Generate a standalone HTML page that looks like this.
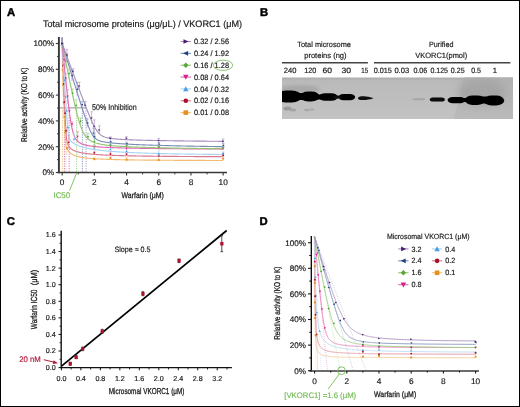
<!DOCTYPE html><html><head><meta charset="utf-8"><style>html,body{margin:0;padding:0;background:#fff;overflow:hidden}svg{display:block}text{font-family:"Liberation Sans",sans-serif;text-rendering:geometricPrecision}</style></head><body>
<svg width="520" height="407" viewBox="0 0 520 407" style="will-change:transform">
<defs><filter id="bl1" x="-30%" y="-60%" width="160%" height="220%"><feGaussianBlur stdDeviation="0.75"/></filter><filter id="bl0" x="-30%" y="-80%" width="160%" height="260%"><feGaussianBlur stdDeviation="0.5"/></filter><filter id="bl2" x="-30%" y="-60%" width="160%" height="220%"><feGaussianBlur stdDeviation="1.6"/></filter><filter id="bl4" x="-50%" y="-50%" width="200%" height="200%"><feGaussianBlur stdDeviation="4"/></filter><linearGradient id="blotg" x1="0" y1="0" x2="0" y2="1"><stop offset="0" stop-color="#acacac"/><stop offset="0.08" stop-color="#bababa"/><stop offset="0.5" stop-color="#bebebe"/><stop offset="1" stop-color="#c3c3c3"/></linearGradient><linearGradient id="darkg" x1="0" y1="0" x2="0" y2="1"><stop offset="0" stop-color="#b0b0b0"/><stop offset="0.6" stop-color="#b6b6b6"/><stop offset="1" stop-color="#bcbcbc"/></linearGradient></defs>
<rect x="0" y="0" width="520" height="407" fill="#fff"/>
<text x="6.9" y="15.7" font-size="11.3" font-weight="bold" fill="#000" stroke="#000" stroke-width="0.45">A</text>
<text x="43" y="26.5" font-size="9.35" fill="#1a1a1a" textLength="199" lengthAdjust="spacingAndGlyphs" stroke="#1a1a1a" stroke-width="0.18">Total microsome proteins (μg/μL) / VKORC1 (μM)</text>
<line x1="59" y1="107.8" x2="86" y2="107.8" stroke="#b4b4b4" stroke-width="1.4"/>
<text x="92.1" y="109.5" font-size="8.29" fill="#1a1a1a" textLength="44.5" lengthAdjust="spacingAndGlyphs" stroke="#1a1a1a" stroke-width="0.18">50% Inhibition</text>
<line x1="86.1" y1="108" x2="86.1" y2="172" stroke="#a690c0" stroke-width="0.9" stroke-dasharray="1.2 1.2"/>
<line x1="82.4" y1="108" x2="82.4" y2="172" stroke="#7a8fb8" stroke-width="0.9" stroke-dasharray="1.2 1.2"/>
<line x1="76.6" y1="108" x2="76.6" y2="172" stroke="#92c674" stroke-width="0.9" stroke-dasharray="1.2 1.2"/>
<line x1="69.2" y1="108" x2="69.2" y2="172" stroke="#e468ac" stroke-width="0.9" stroke-dasharray="1.2 1.2"/>
<line x1="65.9" y1="108" x2="65.9" y2="172" stroke="#acd4f2" stroke-width="0.9" stroke-dasharray="1.2 1.2"/>
<line x1="64.6" y1="108" x2="64.6" y2="172" stroke="#dc7890" stroke-width="0.9" stroke-dasharray="1.2 1.2"/>
<line x1="62.6" y1="108" x2="62.6" y2="172" stroke="#f2bc70" stroke-width="0.9" stroke-dasharray="1.2 1.2"/>
<path d="M62.15 43.5 L62.23 48.32 L62.31 52.75 L62.39 56.84 L62.47 60.66 L62.55 64.24 L62.63 67.61 L62.71 70.8 L62.79 73.83 L62.87 76.73 L62.95 79.5 L63.04 82.16 L63.12 84.73 L63.2 87.21 L63.28 89.62 L63.36 91.95 L63.44 94.22 L63.52 96.43 L63.6 98.59 L63.68 100.7 L63.76 102.76 L63.84 104.79 L63.92 106.77 L64 108.72 L64.08 110.64 L64.16 112.53 L64.24 114.39 L64.32 116.22 L64.4 118.03 L64.48 119.82 L64.56 121.58 L64.65 123.32 L64.73 125.04 L64.81 126.74 L64.89 128.42 L64.97 130.08 L65.05 131.71 L65.13 133.33 L65.21 134.91 L65.29 136.46 L65.37 137.98 L65.45 139.43 L65.53 140.8 L65.61 142.05 L65.69 143.12 L65.77 143.98 L65.85 144.66 L65.93 145.18 L66.01 145.61 L66.09 145.97 L66.17 146.29 L66.26 146.58 L66.34 146.84 L66.42 147.09 L66.5 147.32 L66.58 147.54 L66.66 147.74 L66.74 147.94 L66.82 148.14 L66.9 148.32 L66.98 148.5 L67.06 148.67 L67.14 148.84 L67.22 149 L67.3 149.16 L67.38 149.31 L67.46 149.46 L67.54 149.6 L67.62 149.74 L67.7 149.88 L67.78 150.01 L67.87 150.14 L67.95 150.27 L68.03 150.39 L68.11 150.51 L68.19 150.63 L68.27 150.74 L68.35 150.86 L68.43 150.97 L68.51 151.07 L68.59 151.18 L68.67 151.28 L68.75 151.38 L68.83 151.48 L68.91 151.58 L68.99 151.67 L69.07 151.76 L69.15 151.85 L69.23 151.94 L69.31 152.03 L69.39 152.12 L69.48 152.2 L69.56 152.28 L69.64 152.36 L69.72 152.44 L69.8 152.52 L69.88 152.59 L69.96 152.67 L70.04 152.74 L70.12 152.82 L70.2 152.89 L70.28 152.96 L70.36 153.02 L70.44 153.09 L70.52 153.16 L70.6 153.22 L70.68 153.29 L70.76 153.35 L70.84 153.41 L70.92 153.47 L71 153.53 L71.09 153.59 L71.17 153.65 L71.25 153.71 L71.33 153.76 L71.41 153.82 L71.49 153.87 L71.57 153.93 L71.65 153.98 L71.73 154.03 L71.81 154.08 L71.89 154.13 L71.97 154.18 L72.05 154.23 L72.13 154.28 L72.21 154.33 L72.29 154.38 L72.37 154.42 L72.45 154.47 L72.53 154.51 L72.61 154.56 L72.7 154.6 L72.78 154.64 L72.86 154.69 L72.94 154.73 L73.02 154.77 L73.1 154.81 L73.18 154.85 L73.26 154.89 L73.34 154.93 L73.42 154.97 L73.5 155.01 L73.58 155.05 L73.66 155.08 L73.74 155.12 L73.82 155.16 L73.9 155.19 L73.98 155.23 L74.06 155.26 L74.14 155.3 L74.22 155.33 L74.31 155.37 L74.39 155.4 L74.47 155.43 L74.55 155.47 L74.63 155.5 L74.71 155.53 L74.79 155.56 L74.87 155.59 L74.95 155.62 L75.03 155.65 L75.11 155.68 L75.19 155.71 L75.27 155.74 L75.35 155.77 L75.43 155.8 L75.51 155.83 L75.59 155.86 L75.67 155.89 L75.75 155.91 L75.83 155.94 L75.92 155.97 L76 155.99 L76.08 156.02 L76.16 156.05 L76.24 156.07 L76.32 156.1 L76.4 156.12 L76.48 156.15 L76.56 156.17 L76.64 156.2 L76.72 156.22 L76.8 156.25 L76.88 156.27 L76.96 156.29 L77.04 156.32 L77.12 156.34 L77.2 156.36 L77.28 156.39 L77.36 156.41 L77.44 156.43 L77.53 156.45 L77.61 156.47 L77.69 156.5 L77.77 156.52 L77.85 156.54 L77.93 156.56 L78.01 156.58 L78.09 156.6 L78.17 156.62 L78.25 156.64 L78.33 156.66 L78.41 156.68 L78.49 156.7 L78.57 156.72 L78.65 156.74 L78.73 156.76 L78.81 156.78 L78.89 156.8 L78.97 156.81 L79.06 156.83 L79.14 156.85 L79.22 156.87 L79.3 156.89 L79.38 156.9 L79.46 156.92 L79.54 156.94 L79.62 156.96 L79.7 156.97 L79.78 156.99 L79.86 157.01 L79.94 157.02 L80.02 157.04 L80.1 157.06 L80.18 157.07 L80.26 157.09 L80.34 157.11 L80.42 157.12 L80.5 157.14 L80.58 157.15 L80.67 157.17 L80.75 157.18 L80.83 157.2 L80.91 157.21 L80.99 157.23 L81.07 157.24 L81.15 157.26 L81.23 157.27 L81.31 157.29 L81.39 157.3 L81.47 157.32 L81.55 157.33 L81.63 157.35 L81.71 157.36 L81.79 157.37 L81.87 157.39 L81.95 157.4 L82.03 157.41 L82.11 157.43 L82.19 157.44 L82.28 157.45 L82.36 157.47 L82.44 157.48 L82.52 157.49 L82.6 157.51 L82.68 157.52 L82.76 157.53 L82.84 157.54 L82.92 157.56 L83 157.57 L83.08 157.58 L83.16 157.59 L83.24 157.61 L83.32 157.62 L83.4 157.63 L83.48 157.64 L83.56 157.65 L83.64 157.67 L83.72 157.68 L83.8 157.69 L83.89 157.7 L83.97 157.71 L84.05 157.72 L84.13 157.73 L84.21 157.75 L84.29 157.76 L84.37 157.77 L84.45 157.78 L84.53 157.79 L84.61 157.8 L84.69 157.81 L84.77 157.82 L84.85 157.83 L84.93 157.84 L85.01 157.85 L85.09 157.86 L85.17 157.87 L85.25 157.88 L85.33 157.89 L85.41 157.9 L85.5 157.91 L85.58 157.92 L85.66 157.93 L85.74 157.94 L85.82 157.95 L85.9 157.96 L85.98 157.97 L86.06 157.98 L86.14 157.99 L86.22 158 L86.3 158.01 L86.38 158.02 L86.46 158.03 L86.54 158.04 L86.62 158.05 L86.7 158.06 L86.78 158.07 L86.86 158.07 L86.94 158.08 L87.02 158.09 L87.11 158.1 L87.19 158.11 L87.27 158.12 L87.35 158.13 L87.43 158.14 L87.51 158.14 L87.59 158.15 L87.67 158.16 L87.75 158.17 L87.83 158.18 L87.91 158.19 L87.99 158.2 L88.07 158.2 L88.15 158.21 L88.23 158.22 L88.31 158.23 L88.39 158.24 L88.47 158.24 L88.55 158.25 L88.63 158.26 L88.72 158.27 L88.8 158.27 L88.88 158.28 L88.96 158.29 L89.04 158.3 L89.12 158.31 L89.2 158.31 L89.28 158.32 L89.36 158.33 L89.44 158.34 L89.52 158.34 L89.6 158.35 L89.68 158.36 L89.76 158.36 L89.84 158.37 L89.92 158.38 L90 158.39 L90.08 158.39 L90.16 158.4 L90.24 158.41 L90.33 158.41 L90.41 158.42 L90.49 158.43 L90.57 158.44 L90.65 158.44 L90.73 158.45 L90.81 158.46 L90.89 158.46 L90.97 158.47 L91.05 158.48 L91.13 158.48 L91.21 158.49 L91.29 158.5 L91.37 158.5 L91.45 158.51 L91.53 158.52 L91.61 158.52 L91.69 158.53 L91.77 158.53 L91.85 158.54 L91.94 158.55 L92.02 158.55 L92.1 158.56 L92.18 158.57 L92.26 158.57 L92.34 158.58 L92.42 158.58 L92.5 158.59 L92.58 158.6 L92.66 158.6 L92.74 158.61 L92.82 158.61 L92.9 158.62 L92.98 158.63 L93.06 158.63 L93.14 158.64 L93.22 158.64 L93.3 158.65 L93.38 158.65 L93.46 158.66 L93.55 158.67 L93.63 158.67 L93.71 158.68 L93.79 158.68 L93.87 158.69 L93.95 158.69 L94.03 158.7 L94.11 158.71 L94.19 158.71 L94.27 158.72 L94.35 158.72 L95.16 158.77 L95.96 158.82 L96.77 158.87 L97.57 158.92 L98.38 158.96 L99.18 159 L99.99 159.04 L100.79 159.08 L101.59 159.12 L102.4 159.16 L103.2 159.19 L104.01 159.22 L104.81 159.26 L105.62 159.29 L106.43 159.32 L107.23 159.34 L108.03 159.37 L108.84 159.4 L109.65 159.42 L110.45 159.45 L111.25 159.47 L112.06 159.5 L112.87 159.52 L113.67 159.54 L114.47 159.56 L115.28 159.58 L116.09 159.6 L116.89 159.62 L117.7 159.64 L118.5 159.66 L119.31 159.68 L120.11 159.7 L120.92 159.71 L121.72 159.73 L122.53 159.75 L123.33 159.76 L124.14 159.78 L124.94 159.79 L125.75 159.81 L126.55 159.82 L127.36 159.83 L128.16 159.85 L128.97 159.86 L129.77 159.87 L130.58 159.89 L131.38 159.9 L132.19 159.91 L132.99 159.92 L133.8 159.93 L134.6 159.95 L135.41 159.96 L136.21 159.97 L137.02 159.98 L137.82 159.99 L138.62 160 L139.43 160.01 L140.24 160.02 L141.04 160.03 L141.84 160.04 L142.65 160.05 L143.46 160.05 L144.26 160.06 L145.06 160.07 L145.87 160.08 L146.68 160.09 L147.48 160.1 L148.28 160.1 L149.09 160.11 L149.9 160.12 L150.7 160.13 L151.51 160.14 L152.31 160.14 L153.12 160.15 L153.92 160.16 L154.72 160.16 L155.53 160.17 L156.34 160.18 L157.14 160.18 L157.95 160.19 L158.75 160.2 L159.56 160.2 L160.36 160.21 L161.17 160.22 L161.97 160.22 L162.78 160.23 L163.58 160.23 L164.39 160.24 L165.19 160.24 L166 160.25 L166.8 160.25 L167.61 160.26 L168.41 160.27 L169.22 160.27 L170.02 160.28 L170.83 160.28 L171.63 160.29 L172.44 160.29 L173.24 160.3 L174.05 160.3 L174.85 160.3 L175.66 160.31 L176.46 160.31 L177.27 160.32 L178.07 160.32 L178.88 160.33 L179.68 160.33 L180.49 160.34 L181.29 160.34 L182.09 160.34 L182.9 160.35 L183.71 160.35 L184.51 160.36 L185.32 160.36 L186.12 160.36 L186.93 160.37 L187.73 160.37 L188.54 160.38 L189.34 160.38 L190.15 160.38 L190.95 160.39 L191.76 160.39 L192.56 160.39 L193.37 160.4 L194.17 160.4 L194.98 160.4 L195.78 160.41 L196.59 160.41 L197.39 160.41 L198.19 160.42 L199 160.42 L199.81 160.42 L200.61 160.43 L201.42 160.43 L202.22 160.43 L203.03 160.44 L203.83 160.44 L204.64 160.44 L205.44 160.44 L206.25 160.45 L207.05 160.45 L207.86 160.45 L208.66 160.46 L209.47 160.46 L210.27 160.46 L211.08 160.46 L211.88 160.47 L212.69 160.47 L213.49 160.47 L214.3 160.47 L215.1 160.48 L215.91 160.48 L216.71 160.48 L217.52 160.48 L218.32 160.49 L219.13 160.49 L219.93 160.49 L220.74 160.49 L221.54 160.5 L222.34 160.5 L223.15 160.5" fill="none" stroke="#f2bc70" stroke-width="1.15"/>
<path d="M62.15 43.5 L62.23 45.73 L62.31 47.95 L62.39 50.16 L62.47 52.37 L62.55 54.57 L62.63 56.76 L62.71 58.95 L62.79 61.13 L62.87 63.3 L62.95 65.46 L63.04 67.61 L63.12 69.76 L63.2 71.9 L63.28 74.03 L63.36 76.15 L63.44 78.26 L63.52 80.36 L63.6 82.45 L63.68 84.53 L63.76 86.6 L63.84 88.66 L63.92 90.7 L64 92.73 L64.08 94.74 L64.16 96.74 L64.24 98.72 L64.32 100.68 L64.4 102.62 L64.48 104.54 L64.56 106.44 L64.65 108.31 L64.73 110.15 L64.81 111.95 L64.89 113.73 L64.97 115.47 L65.05 117.17 L65.13 118.82 L65.21 120.43 L65.29 121.99 L65.37 123.49 L65.45 124.94 L65.53 126.33 L65.61 127.65 L65.69 128.91 L65.77 130.1 L65.85 131.23 L65.93 132.29 L66.01 133.28 L66.09 134.21 L66.17 135.08 L66.26 135.89 L66.34 136.64 L66.42 137.34 L66.5 137.99 L66.58 138.59 L66.66 139.15 L66.74 139.67 L66.82 140.15 L66.9 140.6 L66.98 141.02 L67.06 141.42 L67.14 141.78 L67.22 142.13 L67.3 142.45 L67.38 142.76 L67.46 143.05 L67.54 143.32 L67.62 143.58 L67.7 143.82 L67.78 144.05 L67.87 144.27 L67.95 144.48 L68.03 144.68 L68.11 144.87 L68.19 145.05 L68.27 145.23 L68.35 145.39 L68.43 145.55 L68.51 145.71 L68.59 145.86 L68.67 146 L68.75 146.14 L68.83 146.27 L68.91 146.4 L68.99 146.52 L69.07 146.64 L69.15 146.76 L69.23 146.87 L69.31 146.98 L69.39 147.09 L69.48 147.19 L69.56 147.29 L69.64 147.39 L69.72 147.48 L69.8 147.58 L69.88 147.67 L69.96 147.75 L70.04 147.84 L70.12 147.92 L70.2 148 L70.28 148.08 L70.36 148.16 L70.44 148.24 L70.52 148.31 L70.6 148.39 L70.68 148.46 L70.76 148.53 L70.84 148.6 L70.92 148.66 L71 148.73 L71.09 148.79 L71.17 148.86 L71.25 148.92 L71.33 148.98 L71.41 149.04 L71.49 149.1 L71.57 149.16 L71.65 149.21 L71.73 149.27 L71.81 149.33 L71.89 149.38 L71.97 149.43 L72.05 149.49 L72.13 149.54 L72.21 149.59 L72.29 149.64 L72.37 149.69 L72.45 149.73 L72.53 149.78 L72.61 149.83 L72.7 149.88 L72.78 149.92 L72.86 149.97 L72.94 150.01 L73.02 150.05 L73.1 150.1 L73.18 150.14 L73.26 150.18 L73.34 150.22 L73.42 150.26 L73.5 150.3 L73.58 150.34 L73.66 150.38 L73.74 150.42 L73.82 150.46 L73.9 150.5 L73.98 150.53 L74.06 150.57 L74.14 150.61 L74.22 150.64 L74.31 150.68 L74.39 150.71 L74.47 150.75 L74.55 150.78 L74.63 150.82 L74.71 150.85 L74.79 150.88 L74.87 150.91 L74.95 150.95 L75.03 150.98 L75.11 151.01 L75.19 151.04 L75.27 151.07 L75.35 151.1 L75.43 151.13 L75.51 151.16 L75.59 151.19 L75.67 151.22 L75.75 151.25 L75.83 151.28 L75.92 151.31 L76 151.34 L76.08 151.36 L76.16 151.39 L76.24 151.42 L76.32 151.45 L76.4 151.47 L76.48 151.5 L76.56 151.53 L76.64 151.55 L76.72 151.58 L76.8 151.6 L76.88 151.63 L76.96 151.65 L77.04 151.68 L77.12 151.7 L77.2 151.73 L77.28 151.75 L77.36 151.77 L77.44 151.8 L77.53 151.82 L77.61 151.84 L77.69 151.87 L77.77 151.89 L77.85 151.91 L77.93 151.93 L78.01 151.96 L78.09 151.98 L78.17 152 L78.25 152.02 L78.33 152.04 L78.41 152.06 L78.49 152.09 L78.57 152.11 L78.65 152.13 L78.73 152.15 L78.81 152.17 L78.89 152.19 L78.97 152.21 L79.06 152.23 L79.14 152.25 L79.22 152.27 L79.3 152.29 L79.38 152.31 L79.46 152.33 L79.54 152.34 L79.62 152.36 L79.7 152.38 L79.78 152.4 L79.86 152.42 L79.94 152.44 L80.02 152.45 L80.1 152.47 L80.18 152.49 L80.26 152.51 L80.34 152.53 L80.42 152.54 L80.5 152.56 L80.58 152.58 L80.67 152.59 L80.75 152.61 L80.83 152.63 L80.91 152.64 L80.99 152.66 L81.07 152.68 L81.15 152.69 L81.23 152.71 L81.31 152.73 L81.39 152.74 L81.47 152.76 L81.55 152.77 L81.63 152.79 L81.71 152.8 L81.79 152.82 L81.87 152.84 L81.95 152.85 L82.03 152.87 L82.11 152.88 L82.19 152.89 L82.28 152.91 L82.36 152.92 L82.44 152.94 L82.52 152.95 L82.6 152.97 L82.68 152.98 L82.76 153 L82.84 153.01 L82.92 153.02 L83 153.04 L83.08 153.05 L83.16 153.07 L83.24 153.08 L83.32 153.09 L83.4 153.11 L83.48 153.12 L83.56 153.13 L83.64 153.15 L83.72 153.16 L83.8 153.17 L83.89 153.18 L83.97 153.2 L84.05 153.21 L84.13 153.22 L84.21 153.24 L84.29 153.25 L84.37 153.26 L84.45 153.27 L84.53 153.28 L84.61 153.3 L84.69 153.31 L84.77 153.32 L84.85 153.33 L84.93 153.35 L85.01 153.36 L85.09 153.37 L85.17 153.38 L85.25 153.39 L85.33 153.4 L85.41 153.42 L85.5 153.43 L85.58 153.44 L85.66 153.45 L85.74 153.46 L85.82 153.47 L85.9 153.48 L85.98 153.49 L86.06 153.5 L86.14 153.52 L86.22 153.53 L86.3 153.54 L86.38 153.55 L86.46 153.56 L86.54 153.57 L86.62 153.58 L86.7 153.59 L86.78 153.6 L86.86 153.61 L86.94 153.62 L87.02 153.63 L87.11 153.64 L87.19 153.65 L87.27 153.66 L87.35 153.67 L87.43 153.68 L87.51 153.69 L87.59 153.7 L87.67 153.71 L87.75 153.72 L87.83 153.73 L87.91 153.74 L87.99 153.75 L88.07 153.76 L88.15 153.77 L88.23 153.78 L88.31 153.79 L88.39 153.8 L88.47 153.81 L88.55 153.82 L88.63 153.82 L88.72 153.83 L88.8 153.84 L88.88 153.85 L88.96 153.86 L89.04 153.87 L89.12 153.88 L89.2 153.89 L89.28 153.9 L89.36 153.9 L89.44 153.91 L89.52 153.92 L89.6 153.93 L89.68 153.94 L89.76 153.95 L89.84 153.96 L89.92 153.96 L90 153.97 L90.08 153.98 L90.16 153.99 L90.24 154 L90.33 154.01 L90.41 154.01 L90.49 154.02 L90.57 154.03 L90.65 154.04 L90.73 154.05 L90.81 154.06 L90.89 154.06 L90.97 154.07 L91.05 154.08 L91.13 154.09 L91.21 154.09 L91.29 154.1 L91.37 154.11 L91.45 154.12 L91.53 154.13 L91.61 154.13 L91.69 154.14 L91.77 154.15 L91.85 154.16 L91.94 154.16 L92.02 154.17 L92.1 154.18 L92.18 154.19 L92.26 154.19 L92.34 154.2 L92.42 154.21 L92.5 154.21 L92.58 154.22 L92.66 154.23 L92.74 154.24 L92.82 154.24 L92.9 154.25 L92.98 154.26 L93.06 154.26 L93.14 154.27 L93.22 154.28 L93.3 154.29 L93.38 154.29 L93.46 154.3 L93.55 154.31 L93.63 154.31 L93.71 154.32 L93.79 154.33 L93.87 154.33 L93.95 154.34 L94.03 154.35 L94.11 154.35 L94.19 154.36 L94.27 154.37 L94.35 154.37 L95.16 154.44 L95.96 154.5 L96.77 154.56 L97.57 154.61 L98.38 154.67 L99.18 154.72 L99.99 154.77 L100.79 154.81 L101.59 154.86 L102.4 154.91 L103.2 154.95 L104.01 154.99 L104.81 155.03 L105.62 155.07 L106.43 155.11 L107.23 155.14 L108.03 155.18 L108.84 155.21 L109.65 155.24 L110.45 155.28 L111.25 155.31 L112.06 155.34 L112.87 155.37 L113.67 155.4 L114.47 155.42 L115.28 155.45 L116.09 155.48 L116.89 155.5 L117.7 155.53 L118.5 155.55 L119.31 155.57 L120.11 155.6 L120.92 155.62 L121.72 155.64 L122.53 155.66 L123.33 155.68 L124.14 155.7 L124.94 155.72 L125.75 155.74 L126.55 155.76 L127.36 155.78 L128.16 155.8 L128.97 155.81 L129.77 155.83 L130.58 155.85 L131.38 155.86 L132.19 155.88 L132.99 155.9 L133.8 155.91 L134.6 155.93 L135.41 155.94 L136.21 155.96 L137.02 155.97 L137.82 155.98 L138.62 156 L139.43 156.01 L140.24 156.02 L141.04 156.04 L141.84 156.05 L142.65 156.06 L143.46 156.07 L144.26 156.09 L145.06 156.1 L145.87 156.11 L146.68 156.12 L147.48 156.13 L148.28 156.14 L149.09 156.15 L149.9 156.16 L150.7 156.17 L151.51 156.18 L152.31 156.19 L153.12 156.2 L153.92 156.21 L154.72 156.22 L155.53 156.23 L156.34 156.24 L157.14 156.25 L157.95 156.26 L158.75 156.27 L159.56 156.28 L160.36 156.28 L161.17 156.29 L161.97 156.3 L162.78 156.31 L163.58 156.32 L164.39 156.33 L165.19 156.33 L166 156.34 L166.8 156.35 L167.61 156.36 L168.41 156.36 L169.22 156.37 L170.02 156.38 L170.83 156.38 L171.63 156.39 L172.44 156.4 L173.24 156.4 L174.05 156.41 L174.85 156.42 L175.66 156.42 L176.46 156.43 L177.27 156.44 L178.07 156.44 L178.88 156.45 L179.68 156.45 L180.49 156.46 L181.29 156.47 L182.09 156.47 L182.9 156.48 L183.71 156.48 L184.51 156.49 L185.32 156.49 L186.12 156.5 L186.93 156.51 L187.73 156.51 L188.54 156.52 L189.34 156.52 L190.15 156.53 L190.95 156.53 L191.76 156.54 L192.56 156.54 L193.37 156.55 L194.17 156.55 L194.98 156.56 L195.78 156.56 L196.59 156.56 L197.39 156.57 L198.19 156.57 L199 156.58 L199.81 156.58 L200.61 156.59 L201.42 156.59 L202.22 156.6 L203.03 156.6 L203.83 156.6 L204.64 156.61 L205.44 156.61 L206.25 156.62 L207.05 156.62 L207.86 156.62 L208.66 156.63 L209.47 156.63 L210.27 156.64 L211.08 156.64 L211.88 156.64 L212.69 156.65 L213.49 156.65 L214.3 156.65 L215.1 156.66 L215.91 156.66 L216.71 156.67 L217.52 156.67 L218.32 156.67 L219.13 156.68 L219.93 156.68 L220.74 156.68 L221.54 156.69 L222.34 156.69 L223.15 156.69" fill="none" stroke="#dc7890" stroke-width="1.15"/>
<path d="M62.15 43.5 L62.23 44.82 L62.31 46.13 L62.39 47.44 L62.47 48.75 L62.55 50.06 L62.63 51.37 L62.71 52.68 L62.79 53.98 L62.87 55.28 L62.95 56.58 L63.04 57.88 L63.12 59.18 L63.2 60.47 L63.28 61.77 L63.36 63.06 L63.44 64.35 L63.52 65.64 L63.6 66.92 L63.68 68.21 L63.76 69.49 L63.84 70.77 L63.92 72.05 L64 73.33 L64.08 74.6 L64.16 75.88 L64.24 77.15 L64.32 78.42 L64.4 79.69 L64.48 80.95 L64.56 82.22 L64.65 83.48 L64.73 84.74 L64.81 86 L64.89 87.25 L64.97 88.5 L65.05 89.75 L65.13 91 L65.21 92.25 L65.29 93.49 L65.37 94.73 L65.45 95.96 L65.53 97.2 L65.61 98.43 L65.69 99.65 L65.77 100.87 L65.85 102.09 L65.93 103.31 L66.01 104.52 L66.09 105.72 L66.17 106.92 L66.26 108.11 L66.34 109.3 L66.42 110.48 L66.5 111.65 L66.58 112.82 L66.66 113.97 L66.74 115.12 L66.82 116.26 L66.9 117.38 L66.98 118.49 L67.06 119.59 L67.14 120.67 L67.22 121.74 L67.3 122.78 L67.38 123.8 L67.46 124.81 L67.54 125.78 L67.62 126.73 L67.7 127.64 L67.78 128.52 L67.87 129.37 L67.95 130.18 L68.03 130.95 L68.11 131.67 L68.19 132.36 L68.27 133 L68.35 133.6 L68.43 134.16 L68.51 134.68 L68.59 135.16 L68.67 135.6 L68.75 136.01 L68.83 136.39 L68.91 136.74 L68.99 137.06 L69.07 137.37 L69.15 137.64 L69.23 137.91 L69.31 138.15 L69.39 138.38 L69.48 138.59 L69.56 138.79 L69.64 138.98 L69.72 139.16 L69.8 139.32 L69.88 139.49 L69.96 139.64 L70.04 139.78 L70.12 139.92 L70.2 140.05 L70.28 140.18 L70.36 140.3 L70.44 140.42 L70.52 140.54 L70.6 140.65 L70.68 140.75 L70.76 140.85 L70.84 140.95 L70.92 141.05 L71 141.14 L71.09 141.23 L71.17 141.32 L71.25 141.41 L71.33 141.49 L71.41 141.58 L71.49 141.66 L71.57 141.73 L71.65 141.81 L71.73 141.89 L71.81 141.96 L71.89 142.03 L71.97 142.1 L72.05 142.17 L72.13 142.24 L72.21 142.31 L72.29 142.37 L72.37 142.44 L72.45 142.5 L72.53 142.56 L72.61 142.63 L72.7 142.69 L72.78 142.75 L72.86 142.81 L72.94 142.86 L73.02 142.92 L73.1 142.98 L73.18 143.03 L73.26 143.09 L73.34 143.14 L73.42 143.2 L73.5 143.25 L73.58 143.3 L73.66 143.35 L73.74 143.4 L73.82 143.46 L73.9 143.51 L73.98 143.55 L74.06 143.6 L74.14 143.65 L74.22 143.7 L74.31 143.75 L74.39 143.79 L74.47 143.84 L74.55 143.89 L74.63 143.93 L74.71 143.98 L74.79 144.02 L74.87 144.06 L74.95 144.11 L75.03 144.15 L75.11 144.19 L75.19 144.24 L75.27 144.28 L75.35 144.32 L75.43 144.36 L75.51 144.4 L75.59 144.44 L75.67 144.48 L75.75 144.52 L75.83 144.56 L75.92 144.6 L76 144.64 L76.08 144.68 L76.16 144.72 L76.24 144.76 L76.32 144.79 L76.4 144.83 L76.48 144.87 L76.56 144.91 L76.64 144.94 L76.72 144.98 L76.8 145.01 L76.88 145.05 L76.96 145.09 L77.04 145.12 L77.12 145.16 L77.2 145.19 L77.28 145.23 L77.36 145.26 L77.44 145.29 L77.53 145.33 L77.61 145.36 L77.69 145.39 L77.77 145.43 L77.85 145.46 L77.93 145.49 L78.01 145.52 L78.09 145.56 L78.17 145.59 L78.25 145.62 L78.33 145.65 L78.41 145.68 L78.49 145.71 L78.57 145.74 L78.65 145.78 L78.73 145.81 L78.81 145.84 L78.89 145.87 L78.97 145.9 L79.06 145.93 L79.14 145.95 L79.22 145.98 L79.3 146.01 L79.38 146.04 L79.46 146.07 L79.54 146.1 L79.62 146.13 L79.7 146.16 L79.78 146.18 L79.86 146.21 L79.94 146.24 L80.02 146.27 L80.1 146.29 L80.18 146.32 L80.26 146.35 L80.34 146.38 L80.42 146.4 L80.5 146.43 L80.58 146.46 L80.67 146.48 L80.75 146.51 L80.83 146.53 L80.91 146.56 L80.99 146.59 L81.07 146.61 L81.15 146.64 L81.23 146.66 L81.31 146.69 L81.39 146.71 L81.47 146.74 L81.55 146.76 L81.63 146.79 L81.71 146.81 L81.79 146.83 L81.87 146.86 L81.95 146.88 L82.03 146.91 L82.11 146.93 L82.19 146.95 L82.28 146.98 L82.36 147 L82.44 147.02 L82.52 147.05 L82.6 147.07 L82.68 147.09 L82.76 147.12 L82.84 147.14 L82.92 147.16 L83 147.18 L83.08 147.21 L83.16 147.23 L83.24 147.25 L83.32 147.27 L83.4 147.29 L83.48 147.32 L83.56 147.34 L83.64 147.36 L83.72 147.38 L83.8 147.4 L83.89 147.42 L83.97 147.44 L84.05 147.46 L84.13 147.49 L84.21 147.51 L84.29 147.53 L84.37 147.55 L84.45 147.57 L84.53 147.59 L84.61 147.61 L84.69 147.63 L84.77 147.65 L84.85 147.67 L84.93 147.69 L85.01 147.71 L85.09 147.73 L85.17 147.75 L85.25 147.77 L85.33 147.79 L85.41 147.81 L85.5 147.83 L85.58 147.85 L85.66 147.86 L85.74 147.88 L85.82 147.9 L85.9 147.92 L85.98 147.94 L86.06 147.96 L86.14 147.98 L86.22 148 L86.3 148.01 L86.38 148.03 L86.46 148.05 L86.54 148.07 L86.62 148.09 L86.7 148.1 L86.78 148.12 L86.86 148.14 L86.94 148.16 L87.02 148.18 L87.11 148.19 L87.19 148.21 L87.27 148.23 L87.35 148.25 L87.43 148.26 L87.51 148.28 L87.59 148.3 L87.67 148.31 L87.75 148.33 L87.83 148.35 L87.91 148.36 L87.99 148.38 L88.07 148.4 L88.15 148.41 L88.23 148.43 L88.31 148.45 L88.39 148.46 L88.47 148.48 L88.55 148.5 L88.63 148.51 L88.72 148.53 L88.8 148.54 L88.88 148.56 L88.96 148.58 L89.04 148.59 L89.12 148.61 L89.2 148.62 L89.28 148.64 L89.36 148.65 L89.44 148.67 L89.52 148.69 L89.6 148.7 L89.68 148.72 L89.76 148.73 L89.84 148.75 L89.92 148.76 L90 148.78 L90.08 148.79 L90.16 148.81 L90.24 148.82 L90.33 148.84 L90.41 148.85 L90.49 148.87 L90.57 148.88 L90.65 148.9 L90.73 148.91 L90.81 148.92 L90.89 148.94 L90.97 148.95 L91.05 148.97 L91.13 148.98 L91.21 149 L91.29 149.01 L91.37 149.02 L91.45 149.04 L91.53 149.05 L91.61 149.07 L91.69 149.08 L91.77 149.09 L91.85 149.11 L91.94 149.12 L92.02 149.13 L92.1 149.15 L92.18 149.16 L92.26 149.18 L92.34 149.19 L92.42 149.2 L92.5 149.22 L92.58 149.23 L92.66 149.24 L92.74 149.25 L92.82 149.27 L92.9 149.28 L92.98 149.29 L93.06 149.31 L93.14 149.32 L93.22 149.33 L93.3 149.35 L93.38 149.36 L93.46 149.37 L93.55 149.38 L93.63 149.4 L93.71 149.41 L93.79 149.42 L93.87 149.43 L93.95 149.45 L94.03 149.46 L94.11 149.47 L94.19 149.48 L94.27 149.5 L94.35 149.51 L95.16 149.63 L95.96 149.74 L96.77 149.86 L97.57 149.96 L98.38 150.07 L99.18 150.17 L99.99 150.27 L100.79 150.36 L101.59 150.45 L102.4 150.54 L103.2 150.63 L104.01 150.71 L104.81 150.79 L105.62 150.87 L106.43 150.95 L107.23 151.02 L108.03 151.09 L108.84 151.16 L109.65 151.23 L110.45 151.3 L111.25 151.36 L112.06 151.43 L112.87 151.49 L113.67 151.55 L114.47 151.61 L115.28 151.67 L116.09 151.72 L116.89 151.78 L117.7 151.83 L118.5 151.88 L119.31 151.93 L120.11 151.98 L120.92 152.03 L121.72 152.08 L122.53 152.12 L123.33 152.17 L124.14 152.21 L124.94 152.26 L125.75 152.3 L126.55 152.34 L127.36 152.38 L128.16 152.42 L128.97 152.46 L129.77 152.5 L130.58 152.54 L131.38 152.57 L132.19 152.61 L132.99 152.65 L133.8 152.68 L134.6 152.71 L135.41 152.75 L136.21 152.78 L137.02 152.81 L137.82 152.84 L138.62 152.88 L139.43 152.91 L140.24 152.94 L141.04 152.97 L141.84 152.99 L142.65 153.02 L143.46 153.05 L144.26 153.08 L145.06 153.11 L145.87 153.13 L146.68 153.16 L147.48 153.18 L148.28 153.21 L149.09 153.23 L149.9 153.26 L150.7 153.28 L151.51 153.31 L152.31 153.33 L153.12 153.35 L153.92 153.37 L154.72 153.4 L155.53 153.42 L156.34 153.44 L157.14 153.46 L157.95 153.48 L158.75 153.5 L159.56 153.52 L160.36 153.54 L161.17 153.56 L161.97 153.58 L162.78 153.6 L163.58 153.62 L164.39 153.64 L165.19 153.66 L166 153.68 L166.8 153.69 L167.61 153.71 L168.41 153.73 L169.22 153.75 L170.02 153.76 L170.83 153.78 L171.63 153.8 L172.44 153.81 L173.24 153.83 L174.05 153.85 L174.85 153.86 L175.66 153.88 L176.46 153.89 L177.27 153.91 L178.07 153.92 L178.88 153.94 L179.68 153.95 L180.49 153.97 L181.29 153.98 L182.09 153.99 L182.9 154.01 L183.71 154.02 L184.51 154.04 L185.32 154.05 L186.12 154.06 L186.93 154.07 L187.73 154.09 L188.54 154.1 L189.34 154.11 L190.15 154.13 L190.95 154.14 L191.76 154.15 L192.56 154.16 L193.37 154.17 L194.17 154.19 L194.98 154.2 L195.78 154.21 L196.59 154.22 L197.39 154.23 L198.19 154.24 L199 154.25 L199.81 154.26 L200.61 154.28 L201.42 154.29 L202.22 154.3 L203.03 154.31 L203.83 154.32 L204.64 154.33 L205.44 154.34 L206.25 154.35 L207.05 154.36 L207.86 154.37 L208.66 154.38 L209.47 154.39 L210.27 154.4 L211.08 154.41 L211.88 154.42 L212.69 154.42 L213.49 154.43 L214.3 154.44 L215.1 154.45 L215.91 154.46 L216.71 154.47 L217.52 154.48 L218.32 154.49 L219.13 154.5 L219.93 154.5 L220.74 154.51 L221.54 154.52 L222.34 154.53 L223.15 154.54" fill="none" stroke="#acd4f2" stroke-width="1.15"/>
<path d="M62.15 43.5 L62.23 44.33 L62.31 45.16 L62.39 45.99 L62.47 46.83 L62.55 47.65 L62.63 48.48 L62.71 49.31 L62.79 50.14 L62.87 50.97 L62.95 51.79 L63.04 52.62 L63.12 53.44 L63.2 54.26 L63.28 55.09 L63.36 55.91 L63.44 56.73 L63.52 57.55 L63.6 58.37 L63.68 59.19 L63.76 60 L63.84 60.82 L63.92 61.63 L64 62.45 L64.08 63.26 L64.16 64.07 L64.24 64.88 L64.32 65.69 L64.4 66.5 L64.48 67.3 L64.56 68.11 L64.65 68.91 L64.73 69.72 L64.81 70.52 L64.89 71.32 L64.97 72.12 L65.05 72.91 L65.13 73.71 L65.21 74.5 L65.29 75.3 L65.37 76.09 L65.45 76.88 L65.53 77.66 L65.61 78.45 L65.69 79.23 L65.77 80.02 L65.85 80.8 L65.93 81.57 L66.01 82.35 L66.09 83.12 L66.17 83.9 L66.26 84.67 L66.34 85.43 L66.42 86.2 L66.5 86.96 L66.58 87.72 L66.66 88.48 L66.74 89.23 L66.82 89.99 L66.9 90.74 L66.98 91.48 L67.06 92.23 L67.14 92.97 L67.22 93.71 L67.3 94.44 L67.38 95.17 L67.46 95.9 L67.54 96.63 L67.62 97.35 L67.7 98.06 L67.78 98.78 L67.87 99.49 L67.95 100.2 L68.03 100.9 L68.11 101.6 L68.19 102.29 L68.27 102.98 L68.35 103.67 L68.43 104.35 L68.51 105.02 L68.59 105.69 L68.67 106.36 L68.75 107.02 L68.83 107.68 L68.91 108.33 L68.99 108.97 L69.07 109.61 L69.15 110.25 L69.23 110.88 L69.31 111.5 L69.39 112.11 L69.48 112.72 L69.56 113.33 L69.64 113.93 L69.72 114.52 L69.8 115.1 L69.88 115.68 L69.96 116.25 L70.04 116.81 L70.12 117.37 L70.2 117.92 L70.28 118.46 L70.36 119 L70.44 119.52 L70.52 120.04 L70.6 120.55 L70.68 121.06 L70.76 121.55 L70.84 122.04 L70.92 122.52 L71 123 L71.09 123.46 L71.17 123.92 L71.25 124.37 L71.33 124.81 L71.41 125.24 L71.49 125.66 L71.57 126.08 L71.65 126.49 L71.73 126.89 L71.81 127.28 L71.89 127.67 L71.97 128.05 L72.05 128.41 L72.13 128.78 L72.21 129.13 L72.29 129.48 L72.37 129.82 L72.45 130.15 L72.53 130.47 L72.61 130.79 L72.7 131.1 L72.78 131.4 L72.86 131.7 L72.94 131.99 L73.02 132.27 L73.1 132.55 L73.18 132.82 L73.26 133.08 L73.34 133.34 L73.42 133.59 L73.5 133.84 L73.58 134.08 L73.66 134.31 L73.74 134.54 L73.82 134.76 L73.9 134.98 L73.98 135.19 L74.06 135.4 L74.14 135.6 L74.22 135.8 L74.31 136 L74.39 136.19 L74.47 136.37 L74.55 136.55 L74.63 136.73 L74.71 136.9 L74.79 137.07 L74.87 137.23 L74.95 137.39 L75.03 137.55 L75.11 137.71 L75.19 137.86 L75.27 138 L75.35 138.15 L75.43 138.29 L75.51 138.42 L75.59 138.56 L75.67 138.69 L75.75 138.82 L75.83 138.94 L75.92 139.06 L76 139.18 L76.08 139.3 L76.16 139.42 L76.24 139.53 L76.32 139.64 L76.4 139.75 L76.48 139.85 L76.56 139.96 L76.64 140.06 L76.72 140.16 L76.8 140.26 L76.88 140.35 L76.96 140.45 L77.04 140.54 L77.12 140.63 L77.2 140.71 L77.28 140.8 L77.36 140.89 L77.44 140.97 L77.53 141.05 L77.61 141.13 L77.69 141.21 L77.77 141.29 L77.85 141.36 L77.93 141.44 L78.01 141.51 L78.09 141.58 L78.17 141.65 L78.25 141.72 L78.33 141.79 L78.41 141.85 L78.49 141.92 L78.57 141.98 L78.65 142.05 L78.73 142.11 L78.81 142.17 L78.89 142.23 L78.97 142.29 L79.06 142.35 L79.14 142.41 L79.22 142.46 L79.3 142.52 L79.38 142.57 L79.46 142.62 L79.54 142.68 L79.62 142.73 L79.7 142.78 L79.78 142.83 L79.86 142.88 L79.94 142.93 L80.02 142.98 L80.1 143.02 L80.18 143.07 L80.26 143.11 L80.34 143.16 L80.42 143.2 L80.5 143.25 L80.58 143.29 L80.67 143.33 L80.75 143.38 L80.83 143.42 L80.91 143.46 L80.99 143.5 L81.07 143.54 L81.15 143.58 L81.23 143.61 L81.31 143.65 L81.39 143.69 L81.47 143.73 L81.55 143.76 L81.63 143.8 L81.71 143.83 L81.79 143.87 L81.87 143.9 L81.95 143.94 L82.03 143.97 L82.11 144 L82.19 144.04 L82.28 144.07 L82.36 144.1 L82.44 144.13 L82.52 144.16 L82.6 144.19 L82.68 144.22 L82.76 144.25 L82.84 144.28 L82.92 144.31 L83 144.34 L83.08 144.37 L83.16 144.4 L83.24 144.43 L83.32 144.45 L83.4 144.48 L83.48 144.51 L83.56 144.53 L83.64 144.56 L83.72 144.59 L83.8 144.61 L83.89 144.64 L83.97 144.66 L84.05 144.69 L84.13 144.71 L84.21 144.73 L84.29 144.76 L84.37 144.78 L84.45 144.81 L84.53 144.83 L84.61 144.85 L84.69 144.87 L84.77 144.9 L84.85 144.92 L84.93 144.94 L85.01 144.96 L85.09 144.98 L85.17 145 L85.25 145.03 L85.33 145.05 L85.41 145.07 L85.5 145.09 L85.58 145.11 L85.66 145.13 L85.74 145.15 L85.82 145.17 L85.9 145.19 L85.98 145.21 L86.06 145.22 L86.14 145.24 L86.22 145.26 L86.3 145.28 L86.38 145.3 L86.46 145.32 L86.54 145.33 L86.62 145.35 L86.7 145.37 L86.78 145.39 L86.86 145.4 L86.94 145.42 L87.02 145.44 L87.11 145.45 L87.19 145.47 L87.27 145.49 L87.35 145.5 L87.43 145.52 L87.51 145.54 L87.59 145.55 L87.67 145.57 L87.75 145.58 L87.83 145.6 L87.91 145.61 L87.99 145.63 L88.07 145.64 L88.15 145.66 L88.23 145.67 L88.31 145.69 L88.39 145.7 L88.47 145.72 L88.55 145.73 L88.63 145.75 L88.72 145.76 L88.8 145.77 L88.88 145.79 L88.96 145.8 L89.04 145.81 L89.12 145.83 L89.2 145.84 L89.28 145.85 L89.36 145.87 L89.44 145.88 L89.52 145.89 L89.6 145.91 L89.68 145.92 L89.76 145.93 L89.84 145.94 L89.92 145.96 L90 145.97 L90.08 145.98 L90.16 145.99 L90.24 146.01 L90.33 146.02 L90.41 146.03 L90.49 146.04 L90.57 146.05 L90.65 146.06 L90.73 146.08 L90.81 146.09 L90.89 146.1 L90.97 146.11 L91.05 146.12 L91.13 146.13 L91.21 146.14 L91.29 146.15 L91.37 146.16 L91.45 146.18 L91.53 146.19 L91.61 146.2 L91.69 146.21 L91.77 146.22 L91.85 146.23 L91.94 146.24 L92.02 146.25 L92.1 146.26 L92.18 146.27 L92.26 146.28 L92.34 146.29 L92.42 146.3 L92.5 146.31 L92.58 146.32 L92.66 146.33 L92.74 146.34 L92.82 146.35 L92.9 146.36 L92.98 146.37 L93.06 146.37 L93.14 146.38 L93.22 146.39 L93.3 146.4 L93.38 146.41 L93.46 146.42 L93.55 146.43 L93.63 146.44 L93.71 146.45 L93.79 146.46 L93.87 146.46 L93.95 146.47 L94.03 146.48 L94.11 146.49 L94.19 146.5 L94.27 146.51 L94.35 146.52 L95.16 146.6 L95.96 146.67 L96.77 146.75 L97.57 146.81 L98.38 146.88 L99.18 146.94 L99.99 147 L100.79 147.05 L101.59 147.11 L102.4 147.16 L103.2 147.2 L104.01 147.25 L104.81 147.29 L105.62 147.34 L106.43 147.38 L107.23 147.42 L108.03 147.45 L108.84 147.49 L109.65 147.52 L110.45 147.56 L111.25 147.59 L112.06 147.62 L112.87 147.65 L113.67 147.68 L114.47 147.71 L115.28 147.74 L116.09 147.76 L116.89 147.79 L117.7 147.81 L118.5 147.84 L119.31 147.86 L120.11 147.89 L120.92 147.91 L121.72 147.93 L122.53 147.95 L123.33 147.97 L124.14 147.99 L124.94 148.01 L125.75 148.03 L126.55 148.05 L127.36 148.07 L128.16 148.09 L128.97 148.1 L129.77 148.12 L130.58 148.14 L131.38 148.15 L132.19 148.17 L132.99 148.19 L133.8 148.2 L134.6 148.22 L135.41 148.23 L136.21 148.25 L137.02 148.26 L137.82 148.28 L138.62 148.29 L139.43 148.3 L140.24 148.32 L141.04 148.33 L141.84 148.34 L142.65 148.36 L143.46 148.37 L144.26 148.38 L145.06 148.39 L145.87 148.4 L146.68 148.42 L147.48 148.43 L148.28 148.44 L149.09 148.45 L149.9 148.46 L150.7 148.47 L151.51 148.48 L152.31 148.49 L153.12 148.5 L153.92 148.51 L154.72 148.52 L155.53 148.53 L156.34 148.54 L157.14 148.55 L157.95 148.56 L158.75 148.57 L159.56 148.58 L160.36 148.59 L161.17 148.6 L161.97 148.61 L162.78 148.62 L163.58 148.62 L164.39 148.63 L165.19 148.64 L166 148.65 L166.8 148.66 L167.61 148.67 L168.41 148.67 L169.22 148.68 L170.02 148.69 L170.83 148.7 L171.63 148.71 L172.44 148.71 L173.24 148.72 L174.05 148.73 L174.85 148.73 L175.66 148.74 L176.46 148.75 L177.27 148.76 L178.07 148.76 L178.88 148.77 L179.68 148.78 L180.49 148.78 L181.29 148.79 L182.09 148.8 L182.9 148.8 L183.71 148.81 L184.51 148.82 L185.32 148.82 L186.12 148.83 L186.93 148.84 L187.73 148.84 L188.54 148.85 L189.34 148.85 L190.15 148.86 L190.95 148.87 L191.76 148.87 L192.56 148.88 L193.37 148.88 L194.17 148.89 L194.98 148.9 L195.78 148.9 L196.59 148.91 L197.39 148.91 L198.19 148.92 L199 148.92 L199.81 148.93 L200.61 148.93 L201.42 148.94 L202.22 148.94 L203.03 148.95 L203.83 148.95 L204.64 148.96 L205.44 148.96 L206.25 148.97 L207.05 148.97 L207.86 148.98 L208.66 148.98 L209.47 148.99 L210.27 148.99 L211.08 149 L211.88 149 L212.69 149.01 L213.49 149.01 L214.3 149.02 L215.1 149.02 L215.91 149.03 L216.71 149.03 L217.52 149.04 L218.32 149.04 L219.13 149.05 L219.93 149.05 L220.74 149.05 L221.54 149.06 L222.34 149.06 L223.15 149.07" fill="none" stroke="#e468ac" stroke-width="1.15"/>
<path d="M62.15 43.5 L62.23 43.91 L62.31 44.32 L62.39 44.72 L62.47 45.13 L62.55 45.54 L62.63 45.95 L62.71 46.35 L62.79 46.76 L62.87 47.17 L62.95 47.58 L63.04 47.98 L63.12 48.39 L63.2 48.8 L63.28 49.2 L63.36 49.61 L63.44 50.02 L63.52 50.42 L63.6 50.83 L63.68 51.23 L63.76 51.64 L63.84 52.04 L63.92 52.45 L64 52.86 L64.08 53.26 L64.16 53.67 L64.24 54.07 L64.32 54.47 L64.4 54.88 L64.48 55.28 L64.56 55.69 L64.65 56.09 L64.73 56.5 L64.81 56.9 L64.89 57.3 L64.97 57.71 L65.05 58.11 L65.13 58.51 L65.21 58.91 L65.29 59.32 L65.37 59.72 L65.45 60.12 L65.53 60.52 L65.61 60.93 L65.69 61.33 L65.77 61.73 L65.85 62.13 L65.93 62.53 L66.01 62.93 L66.09 63.33 L66.17 63.73 L66.26 64.13 L66.34 64.53 L66.42 64.93 L66.5 65.33 L66.58 65.73 L66.66 66.13 L66.74 66.53 L66.82 66.93 L66.9 67.33 L66.98 67.73 L67.06 68.13 L67.14 68.52 L67.22 68.92 L67.3 69.32 L67.38 69.72 L67.46 70.11 L67.54 70.51 L67.62 70.91 L67.7 71.3 L67.78 71.7 L67.87 72.09 L67.95 72.49 L68.03 72.88 L68.11 73.28 L68.19 73.67 L68.27 74.07 L68.35 74.46 L68.43 74.85 L68.51 75.25 L68.59 75.64 L68.67 76.03 L68.75 76.43 L68.83 76.82 L68.91 77.21 L68.99 77.6 L69.07 77.99 L69.15 78.38 L69.23 78.77 L69.31 79.16 L69.39 79.55 L69.48 79.94 L69.56 80.33 L69.64 80.72 L69.72 81.11 L69.8 81.5 L69.88 81.88 L69.96 82.27 L70.04 82.66 L70.12 83.04 L70.2 83.43 L70.28 83.82 L70.36 84.2 L70.44 84.59 L70.52 84.97 L70.6 85.35 L70.68 85.74 L70.76 86.12 L70.84 86.5 L70.92 86.88 L71 87.27 L71.09 87.65 L71.17 88.03 L71.25 88.41 L71.33 88.79 L71.41 89.17 L71.49 89.55 L71.57 89.92 L71.65 90.3 L71.73 90.68 L71.81 91.06 L71.89 91.43 L71.97 91.81 L72.05 92.18 L72.13 92.56 L72.21 92.93 L72.29 93.3 L72.37 93.67 L72.45 94.05 L72.53 94.42 L72.61 94.79 L72.7 95.16 L72.78 95.53 L72.86 95.9 L72.94 96.26 L73.02 96.63 L73.1 97 L73.18 97.36 L73.26 97.73 L73.34 98.09 L73.42 98.46 L73.5 98.82 L73.58 99.18 L73.66 99.54 L73.74 99.9 L73.82 100.26 L73.9 100.62 L73.98 100.98 L74.06 101.34 L74.14 101.69 L74.22 102.05 L74.31 102.4 L74.39 102.76 L74.47 103.11 L74.55 103.46 L74.63 103.81 L74.71 104.16 L74.79 104.51 L74.87 104.86 L74.95 105.21 L75.03 105.55 L75.11 105.9 L75.19 106.24 L75.27 106.58 L75.35 106.93 L75.43 107.27 L75.51 107.61 L75.59 107.94 L75.67 108.28 L75.75 108.62 L75.83 108.95 L75.92 109.29 L76 109.62 L76.08 109.95 L76.16 110.28 L76.24 110.61 L76.32 110.94 L76.4 111.26 L76.48 111.59 L76.56 111.91 L76.64 112.23 L76.72 112.55 L76.8 112.87 L76.88 113.19 L76.96 113.51 L77.04 113.82 L77.12 114.13 L77.2 114.44 L77.28 114.75 L77.36 115.06 L77.44 115.37 L77.53 115.68 L77.61 115.98 L77.69 116.28 L77.77 116.58 L77.85 116.88 L77.93 117.18 L78.01 117.47 L78.09 117.77 L78.17 118.06 L78.25 118.35 L78.33 118.64 L78.41 118.92 L78.49 119.21 L78.57 119.49 L78.65 119.77 L78.73 120.05 L78.81 120.33 L78.89 120.6 L78.97 120.88 L79.06 121.15 L79.14 121.42 L79.22 121.68 L79.3 121.95 L79.38 122.21 L79.46 122.47 L79.54 122.73 L79.62 122.99 L79.7 123.24 L79.78 123.5 L79.86 123.75 L79.94 124 L80.02 124.24 L80.1 124.49 L80.18 124.73 L80.26 124.97 L80.34 125.21 L80.42 125.44 L80.5 125.68 L80.58 125.91 L80.67 126.14 L80.75 126.36 L80.83 126.59 L80.91 126.81 L80.99 127.03 L81.07 127.25 L81.15 127.46 L81.23 127.68 L81.31 127.89 L81.39 128.1 L81.47 128.3 L81.55 128.51 L81.63 128.71 L81.71 128.91 L81.79 129.11 L81.87 129.3 L81.95 129.49 L82.03 129.69 L82.11 129.87 L82.19 130.06 L82.28 130.25 L82.36 130.43 L82.44 130.61 L82.52 130.79 L82.6 130.96 L82.68 131.14 L82.76 131.31 L82.84 131.48 L82.92 131.64 L83 131.81 L83.08 131.97 L83.16 132.13 L83.24 132.29 L83.32 132.45 L83.4 132.61 L83.48 132.76 L83.56 132.91 L83.64 133.06 L83.72 133.21 L83.8 133.35 L83.89 133.5 L83.97 133.64 L84.05 133.78 L84.13 133.92 L84.21 134.05 L84.29 134.19 L84.37 134.32 L84.45 134.45 L84.53 134.58 L84.61 134.71 L84.69 134.83 L84.77 134.96 L84.85 135.08 L84.93 135.2 L85.01 135.32 L85.09 135.44 L85.17 135.55 L85.25 135.67 L85.33 135.78 L85.41 135.89 L85.5 136 L85.58 136.11 L85.66 136.21 L85.74 136.32 L85.82 136.42 L85.9 136.53 L85.98 136.63 L86.06 136.73 L86.14 136.83 L86.22 136.92 L86.3 137.02 L86.38 137.11 L86.46 137.21 L86.54 137.3 L86.62 137.39 L86.7 137.48 L86.78 137.57 L86.86 137.65 L86.94 137.74 L87.02 137.82 L87.11 137.91 L87.19 137.99 L87.27 138.07 L87.35 138.15 L87.43 138.23 L87.51 138.31 L87.59 138.39 L87.67 138.47 L87.75 138.54 L87.83 138.62 L87.91 138.69 L87.99 138.76 L88.07 138.83 L88.15 138.9 L88.23 138.97 L88.31 139.04 L88.39 139.11 L88.47 139.18 L88.55 139.24 L88.63 139.31 L88.72 139.37 L88.8 139.44 L88.88 139.5 L88.96 139.56 L89.04 139.63 L89.12 139.69 L89.2 139.75 L89.28 139.81 L89.36 139.86 L89.44 139.92 L89.52 139.98 L89.6 140.04 L89.68 140.09 L89.76 140.15 L89.84 140.2 L89.92 140.26 L90 140.31 L90.08 140.36 L90.16 140.41 L90.24 140.46 L90.33 140.52 L90.41 140.57 L90.49 140.62 L90.57 140.66 L90.65 140.71 L90.73 140.76 L90.81 140.81 L90.89 140.86 L90.97 140.9 L91.05 140.95 L91.13 140.99 L91.21 141.04 L91.29 141.08 L91.37 141.13 L91.45 141.17 L91.53 141.21 L91.61 141.25 L91.69 141.3 L91.77 141.34 L91.85 141.38 L91.94 141.42 L92.02 141.46 L92.1 141.5 L92.18 141.54 L92.26 141.58 L92.34 141.62 L92.42 141.65 L92.5 141.69 L92.58 141.73 L92.66 141.77 L92.74 141.8 L92.82 141.84 L92.9 141.87 L92.98 141.91 L93.06 141.95 L93.14 141.98 L93.22 142.01 L93.3 142.05 L93.38 142.08 L93.46 142.12 L93.55 142.15 L93.63 142.18 L93.71 142.21 L93.79 142.25 L93.87 142.28 L93.95 142.31 L94.03 142.34 L94.11 142.37 L94.19 142.4 L94.27 142.43 L94.35 142.46 L95.16 142.75 L95.96 143.01 L96.77 143.25 L97.57 143.47 L98.38 143.67 L99.18 143.86 L99.99 144.04 L100.79 144.2 L101.59 144.35 L102.4 144.5 L103.2 144.63 L104.01 144.76 L104.81 144.88 L105.62 144.99 L106.43 145.1 L107.23 145.2 L108.03 145.29 L108.84 145.39 L109.65 145.47 L110.45 145.56 L111.25 145.64 L112.06 145.71 L112.87 145.79 L113.67 145.86 L114.47 145.92 L115.28 145.99 L116.09 146.05 L116.89 146.11 L117.7 146.17 L118.5 146.23 L119.31 146.28 L120.11 146.33 L120.92 146.38 L121.72 146.43 L122.53 146.48 L123.33 146.53 L124.14 146.57 L124.94 146.62 L125.75 146.66 L126.55 146.7 L127.36 146.74 L128.16 146.78 L128.97 146.82 L129.77 146.85 L130.58 146.89 L131.38 146.92 L132.19 146.96 L132.99 146.99 L133.8 147.03 L134.6 147.06 L135.41 147.09 L136.21 147.12 L137.02 147.15 L137.82 147.18 L138.62 147.21 L139.43 147.24 L140.24 147.26 L141.04 147.29 L141.84 147.32 L142.65 147.34 L143.46 147.37 L144.26 147.4 L145.06 147.42 L145.87 147.44 L146.68 147.47 L147.48 147.49 L148.28 147.51 L149.09 147.54 L149.9 147.56 L150.7 147.58 L151.51 147.6 L152.31 147.62 L153.12 147.65 L153.92 147.67 L154.72 147.69 L155.53 147.71 L156.34 147.73 L157.14 147.74 L157.95 147.76 L158.75 147.78 L159.56 147.8 L160.36 147.82 L161.17 147.84 L161.97 147.85 L162.78 147.87 L163.58 147.89 L164.39 147.91 L165.19 147.92 L166 147.94 L166.8 147.96 L167.61 147.97 L168.41 147.99 L169.22 148 L170.02 148.02 L170.83 148.03 L171.63 148.05 L172.44 148.06 L173.24 148.08 L174.05 148.09 L174.85 148.11 L175.66 148.12 L176.46 148.14 L177.27 148.15 L178.07 148.16 L178.88 148.18 L179.68 148.19 L180.49 148.2 L181.29 148.22 L182.09 148.23 L182.9 148.24 L183.71 148.26 L184.51 148.27 L185.32 148.28 L186.12 148.29 L186.93 148.31 L187.73 148.32 L188.54 148.33 L189.34 148.34 L190.15 148.35 L190.95 148.37 L191.76 148.38 L192.56 148.39 L193.37 148.4 L194.17 148.41 L194.98 148.42 L195.78 148.43 L196.59 148.44 L197.39 148.45 L198.19 148.46 L199 148.48 L199.81 148.49 L200.61 148.5 L201.42 148.51 L202.22 148.52 L203.03 148.53 L203.83 148.54 L204.64 148.55 L205.44 148.56 L206.25 148.57 L207.05 148.58 L207.86 148.58 L208.66 148.59 L209.47 148.6 L210.27 148.61 L211.08 148.62 L211.88 148.63 L212.69 148.64 L213.49 148.65 L214.3 148.66 L215.1 148.67 L215.91 148.68 L216.71 148.68 L217.52 148.69 L218.32 148.7 L219.13 148.71 L219.93 148.72 L220.74 148.73 L221.54 148.74 L222.34 148.74 L223.15 148.75" fill="none" stroke="#92c674" stroke-width="1.15"/>
<path d="M62.15 43.5 L62.23 43.77 L62.31 44.03 L62.39 44.3 L62.47 44.56 L62.55 44.83 L62.63 45.1 L62.71 45.36 L62.79 45.63 L62.87 45.89 L62.95 46.16 L63.04 46.43 L63.12 46.69 L63.2 46.96 L63.28 47.22 L63.36 47.49 L63.44 47.75 L63.52 48.02 L63.6 48.28 L63.68 48.55 L63.76 48.81 L63.84 49.08 L63.92 49.35 L64 49.61 L64.08 49.88 L64.16 50.14 L64.24 50.41 L64.32 50.67 L64.4 50.94 L64.48 51.2 L64.56 51.47 L64.65 51.73 L64.73 52 L64.81 52.26 L64.89 52.53 L64.97 52.79 L65.05 53.06 L65.13 53.32 L65.21 53.59 L65.29 53.85 L65.37 54.12 L65.45 54.38 L65.53 54.64 L65.61 54.91 L65.69 55.17 L65.77 55.44 L65.85 55.7 L65.93 55.97 L66.01 56.23 L66.09 56.5 L66.17 56.76 L66.26 57.02 L66.34 57.29 L66.42 57.55 L66.5 57.82 L66.58 58.08 L66.66 58.34 L66.74 58.61 L66.82 58.87 L66.9 59.14 L66.98 59.4 L67.06 59.66 L67.14 59.93 L67.22 60.19 L67.3 60.46 L67.38 60.72 L67.46 60.98 L67.54 61.25 L67.62 61.51 L67.7 61.77 L67.78 62.04 L67.87 62.3 L67.95 62.56 L68.03 62.83 L68.11 63.09 L68.19 63.35 L68.27 63.62 L68.35 63.88 L68.43 64.14 L68.51 64.41 L68.59 64.67 L68.67 64.93 L68.75 65.2 L68.83 65.46 L68.91 65.72 L68.99 65.98 L69.07 66.25 L69.15 66.51 L69.23 66.77 L69.31 67.04 L69.39 67.3 L69.48 67.56 L69.56 67.82 L69.64 68.09 L69.72 68.35 L69.8 68.61 L69.88 68.87 L69.96 69.14 L70.04 69.4 L70.12 69.66 L70.2 69.92 L70.28 70.18 L70.36 70.45 L70.44 70.71 L70.52 70.97 L70.6 71.23 L70.68 71.5 L70.76 71.76 L70.84 72.02 L70.92 72.28 L71 72.54 L71.09 72.8 L71.17 73.07 L71.25 73.33 L71.33 73.59 L71.41 73.85 L71.49 74.11 L71.57 74.37 L71.65 74.64 L71.73 74.9 L71.81 75.16 L71.89 75.42 L71.97 75.68 L72.05 75.94 L72.13 76.2 L72.21 76.46 L72.29 76.73 L72.37 76.99 L72.45 77.25 L72.53 77.51 L72.61 77.77 L72.7 78.03 L72.78 78.29 L72.86 78.55 L72.94 78.81 L73.02 79.07 L73.1 79.33 L73.18 79.59 L73.26 79.85 L73.34 80.11 L73.42 80.37 L73.5 80.63 L73.58 80.89 L73.66 81.15 L73.74 81.41 L73.82 81.67 L73.9 81.93 L73.98 82.19 L74.06 82.45 L74.14 82.71 L74.22 82.97 L74.31 83.23 L74.39 83.49 L74.47 83.75 L74.55 84.01 L74.63 84.27 L74.71 84.53 L74.79 84.79 L74.87 85.05 L74.95 85.31 L75.03 85.57 L75.11 85.83 L75.19 86.09 L75.27 86.34 L75.35 86.6 L75.43 86.86 L75.51 87.12 L75.59 87.38 L75.67 87.64 L75.75 87.9 L75.83 88.15 L75.92 88.41 L76 88.67 L76.08 88.93 L76.16 89.19 L76.24 89.44 L76.32 89.7 L76.4 89.96 L76.48 90.22 L76.56 90.48 L76.64 90.73 L76.72 90.99 L76.8 91.25 L76.88 91.51 L76.96 91.76 L77.04 92.02 L77.12 92.28 L77.2 92.53 L77.28 92.79 L77.36 93.05 L77.44 93.31 L77.53 93.56 L77.61 93.82 L77.69 94.08 L77.77 94.33 L77.85 94.59 L77.93 94.84 L78.01 95.1 L78.09 95.36 L78.17 95.61 L78.25 95.87 L78.33 96.12 L78.41 96.38 L78.49 96.64 L78.57 96.89 L78.65 97.15 L78.73 97.4 L78.81 97.66 L78.89 97.91 L78.97 98.17 L79.06 98.42 L79.14 98.68 L79.22 98.93 L79.3 99.18 L79.38 99.44 L79.46 99.69 L79.54 99.95 L79.62 100.2 L79.7 100.45 L79.78 100.71 L79.86 100.96 L79.94 101.22 L80.02 101.47 L80.1 101.72 L80.18 101.97 L80.26 102.23 L80.34 102.48 L80.42 102.73 L80.5 102.99 L80.58 103.24 L80.67 103.49 L80.75 103.74 L80.83 103.99 L80.91 104.25 L80.99 104.5 L81.07 104.75 L81.15 105 L81.23 105.25 L81.31 105.5 L81.39 105.75 L81.47 106 L81.55 106.25 L81.63 106.5 L81.71 106.75 L81.79 107 L81.87 107.25 L81.95 107.5 L82.03 107.75 L82.11 108 L82.19 108.25 L82.28 108.5 L82.36 108.74 L82.44 108.99 L82.52 109.24 L82.6 109.49 L82.68 109.73 L82.76 109.98 L82.84 110.23 L82.92 110.48 L83 110.72 L83.08 110.97 L83.16 111.21 L83.24 111.46 L83.32 111.71 L83.4 111.95 L83.48 112.19 L83.56 112.44 L83.64 112.68 L83.72 112.93 L83.8 113.17 L83.89 113.41 L83.97 113.66 L84.05 113.9 L84.13 114.14 L84.21 114.38 L84.29 114.63 L84.37 114.87 L84.45 115.11 L84.53 115.35 L84.61 115.59 L84.69 115.83 L84.77 116.07 L84.85 116.31 L84.93 116.55 L85.01 116.78 L85.09 117.02 L85.17 117.26 L85.25 117.5 L85.33 117.73 L85.41 117.97 L85.5 118.21 L85.58 118.44 L85.66 118.68 L85.74 118.91 L85.82 119.14 L85.9 119.38 L85.98 119.61 L86.06 119.84 L86.14 120.07 L86.22 120.3 L86.3 120.53 L86.38 120.76 L86.46 120.99 L86.54 121.22 L86.62 121.45 L86.7 121.68 L86.78 121.9 L86.86 122.13 L86.94 122.35 L87.02 122.58 L87.11 122.8 L87.19 123.03 L87.27 123.25 L87.35 123.47 L87.43 123.69 L87.51 123.91 L87.59 124.13 L87.67 124.35 L87.75 124.57 L87.83 124.78 L87.91 125 L87.99 125.21 L88.07 125.43 L88.15 125.64 L88.23 125.85 L88.31 126.06 L88.39 126.27 L88.47 126.48 L88.55 126.69 L88.63 126.89 L88.72 127.1 L88.8 127.3 L88.88 127.51 L88.96 127.71 L89.04 127.91 L89.12 128.11 L89.2 128.31 L89.28 128.5 L89.36 128.7 L89.44 128.89 L89.52 129.08 L89.6 129.28 L89.68 129.47 L89.76 129.65 L89.84 129.84 L89.92 130.03 L90 130.21 L90.08 130.39 L90.16 130.57 L90.24 130.75 L90.33 130.93 L90.41 131.11 L90.49 131.28 L90.57 131.45 L90.65 131.62 L90.73 131.79 L90.81 131.96 L90.89 132.13 L90.97 132.29 L91.05 132.45 L91.13 132.61 L91.21 132.77 L91.29 132.93 L91.37 133.08 L91.45 133.23 L91.53 133.38 L91.61 133.53 L91.69 133.68 L91.77 133.82 L91.85 133.97 L91.94 134.11 L92.02 134.25 L92.1 134.38 L92.18 134.52 L92.26 134.65 L92.34 134.78 L92.42 134.91 L92.5 135.04 L92.58 135.17 L92.66 135.29 L92.74 135.41 L92.82 135.53 L92.9 135.65 L92.98 135.76 L93.06 135.88 L93.14 135.99 L93.22 136.1 L93.3 136.21 L93.38 136.31 L93.46 136.42 L93.55 136.52 L93.63 136.62 L93.71 136.72 L93.79 136.82 L93.87 136.91 L93.95 137.01 L94.03 137.1 L94.11 137.19 L94.19 137.28 L94.27 137.37 L94.35 137.45 L95.16 138.23 L95.96 138.87 L96.77 139.41 L97.57 139.87 L98.38 140.25 L99.18 140.58 L99.99 140.87 L100.79 141.12 L101.59 141.35 L102.4 141.55 L103.2 141.73 L104.01 141.89 L104.81 142.04 L105.62 142.18 L106.43 142.3 L107.23 142.42 L108.03 142.53 L108.84 142.64 L109.65 142.73 L110.45 142.83 L111.25 142.91 L112.06 143 L112.87 143.08 L113.67 143.15 L114.47 143.23 L115.28 143.3 L116.09 143.37 L116.89 143.43 L117.7 143.49 L118.5 143.55 L119.31 143.61 L120.11 143.67 L120.92 143.73 L121.72 143.78 L122.53 143.83 L123.33 143.88 L124.14 143.93 L124.94 143.98 L125.75 144.03 L126.55 144.07 L127.36 144.12 L128.16 144.16 L128.97 144.21 L129.77 144.25 L130.58 144.29 L131.38 144.33 L132.19 144.37 L132.99 144.41 L133.8 144.45 L134.6 144.48 L135.41 144.52 L136.21 144.56 L137.02 144.59 L137.82 144.63 L138.62 144.66 L139.43 144.7 L140.24 144.73 L141.04 144.76 L141.84 144.79 L142.65 144.83 L143.46 144.86 L144.26 144.89 L145.06 144.92 L145.87 144.95 L146.68 144.98 L147.48 145.01 L148.28 145.03 L149.09 145.06 L149.9 145.09 L150.7 145.12 L151.51 145.14 L152.31 145.17 L153.12 145.2 L153.92 145.22 L154.72 145.25 L155.53 145.27 L156.34 145.3 L157.14 145.32 L157.95 145.35 L158.75 145.37 L159.56 145.4 L160.36 145.42 L161.17 145.44 L161.97 145.47 L162.78 145.49 L163.58 145.51 L164.39 145.53 L165.19 145.55 L166 145.58 L166.8 145.6 L167.61 145.62 L168.41 145.64 L169.22 145.66 L170.02 145.68 L170.83 145.7 L171.63 145.72 L172.44 145.74 L173.24 145.76 L174.05 145.78 L174.85 145.8 L175.66 145.82 L176.46 145.84 L177.27 145.86 L178.07 145.87 L178.88 145.89 L179.68 145.91 L180.49 145.93 L181.29 145.95 L182.09 145.96 L182.9 145.98 L183.71 146 L184.51 146.02 L185.32 146.03 L186.12 146.05 L186.93 146.07 L187.73 146.08 L188.54 146.1 L189.34 146.12 L190.15 146.13 L190.95 146.15 L191.76 146.16 L192.56 146.18 L193.37 146.19 L194.17 146.21 L194.98 146.22 L195.78 146.24 L196.59 146.25 L197.39 146.27 L198.19 146.28 L199 146.3 L199.81 146.31 L200.61 146.33 L201.42 146.34 L202.22 146.36 L203.03 146.37 L203.83 146.38 L204.64 146.4 L205.44 146.41 L206.25 146.42 L207.05 146.44 L207.86 146.45 L208.66 146.46 L209.47 146.48 L210.27 146.49 L211.08 146.5 L211.88 146.51 L212.69 146.53 L213.49 146.54 L214.3 146.55 L215.1 146.56 L215.91 146.58 L216.71 146.59 L217.52 146.6 L218.32 146.61 L219.13 146.62 L219.93 146.64 L220.74 146.65 L221.54 146.66 L222.34 146.67 L223.15 146.68" fill="none" stroke="#7a8fb8" stroke-width="1.15"/>
<path d="M62.15 43.5 L62.23 43.72 L62.31 43.94 L62.39 44.16 L62.47 44.37 L62.55 44.59 L62.63 44.81 L62.71 45.03 L62.79 45.25 L62.87 45.47 L62.95 45.69 L63.04 45.9 L63.12 46.12 L63.2 46.34 L63.28 46.56 L63.36 46.78 L63.44 47 L63.52 47.21 L63.6 47.43 L63.68 47.65 L63.76 47.87 L63.84 48.09 L63.92 48.31 L64 48.52 L64.08 48.74 L64.16 48.96 L64.24 49.18 L64.32 49.4 L64.4 49.62 L64.48 49.83 L64.56 50.05 L64.65 50.27 L64.73 50.49 L64.81 50.71 L64.89 50.93 L64.97 51.14 L65.05 51.36 L65.13 51.58 L65.21 51.8 L65.29 52.02 L65.37 52.24 L65.45 52.45 L65.53 52.67 L65.61 52.89 L65.69 53.11 L65.77 53.33 L65.85 53.54 L65.93 53.76 L66.01 53.98 L66.09 54.2 L66.17 54.42 L66.26 54.63 L66.34 54.85 L66.42 55.07 L66.5 55.29 L66.58 55.51 L66.66 55.72 L66.74 55.94 L66.82 56.16 L66.9 56.38 L66.98 56.59 L67.06 56.81 L67.14 57.03 L67.22 57.25 L67.3 57.47 L67.38 57.68 L67.46 57.9 L67.54 58.12 L67.62 58.34 L67.7 58.56 L67.78 58.77 L67.87 58.99 L67.95 59.21 L68.03 59.43 L68.11 59.64 L68.19 59.86 L68.27 60.08 L68.35 60.3 L68.43 60.51 L68.51 60.73 L68.59 60.95 L68.67 61.17 L68.75 61.38 L68.83 61.6 L68.91 61.82 L68.99 62.04 L69.07 62.25 L69.15 62.47 L69.23 62.69 L69.31 62.91 L69.39 63.12 L69.48 63.34 L69.56 63.56 L69.64 63.78 L69.72 63.99 L69.8 64.21 L69.88 64.43 L69.96 64.64 L70.04 64.86 L70.12 65.08 L70.2 65.3 L70.28 65.51 L70.36 65.73 L70.44 65.95 L70.52 66.16 L70.6 66.38 L70.68 66.6 L70.76 66.82 L70.84 67.03 L70.92 67.25 L71 67.47 L71.09 67.68 L71.17 67.9 L71.25 68.12 L71.33 68.33 L71.41 68.55 L71.49 68.77 L71.57 68.99 L71.65 69.2 L71.73 69.42 L71.81 69.64 L71.89 69.85 L71.97 70.07 L72.05 70.29 L72.13 70.5 L72.21 70.72 L72.29 70.94 L72.37 71.15 L72.45 71.37 L72.53 71.59 L72.61 71.8 L72.7 72.02 L72.78 72.23 L72.86 72.45 L72.94 72.67 L73.02 72.88 L73.1 73.1 L73.18 73.32 L73.26 73.53 L73.34 73.75 L73.42 73.97 L73.5 74.18 L73.58 74.4 L73.66 74.61 L73.74 74.83 L73.82 75.05 L73.9 75.26 L73.98 75.48 L74.06 75.69 L74.14 75.91 L74.22 76.13 L74.31 76.34 L74.39 76.56 L74.47 76.77 L74.55 76.99 L74.63 77.21 L74.71 77.42 L74.79 77.64 L74.87 77.85 L74.95 78.07 L75.03 78.29 L75.11 78.5 L75.19 78.72 L75.27 78.93 L75.35 79.15 L75.43 79.36 L75.51 79.58 L75.59 79.79 L75.67 80.01 L75.75 80.22 L75.83 80.44 L75.92 80.66 L76 80.87 L76.08 81.09 L76.16 81.3 L76.24 81.52 L76.32 81.73 L76.4 81.95 L76.48 82.16 L76.56 82.38 L76.64 82.59 L76.72 82.81 L76.8 83.02 L76.88 83.24 L76.96 83.45 L77.04 83.67 L77.12 83.88 L77.2 84.1 L77.28 84.31 L77.36 84.52 L77.44 84.74 L77.53 84.95 L77.61 85.17 L77.69 85.38 L77.77 85.6 L77.85 85.81 L77.93 86.03 L78.01 86.24 L78.09 86.45 L78.17 86.67 L78.25 86.88 L78.33 87.1 L78.41 87.31 L78.49 87.52 L78.57 87.74 L78.65 87.95 L78.73 88.17 L78.81 88.38 L78.89 88.59 L78.97 88.81 L79.06 89.02 L79.14 89.23 L79.22 89.45 L79.3 89.66 L79.38 89.87 L79.46 90.09 L79.54 90.3 L79.62 90.51 L79.7 90.73 L79.78 90.94 L79.86 91.15 L79.94 91.37 L80.02 91.58 L80.1 91.79 L80.18 92 L80.26 92.22 L80.34 92.43 L80.42 92.64 L80.5 92.85 L80.58 93.07 L80.67 93.28 L80.75 93.49 L80.83 93.7 L80.91 93.92 L80.99 94.13 L81.07 94.34 L81.15 94.55 L81.23 94.76 L81.31 94.98 L81.39 95.19 L81.47 95.4 L81.55 95.61 L81.63 95.82 L81.71 96.03 L81.79 96.25 L81.87 96.46 L81.95 96.67 L82.03 96.88 L82.11 97.09 L82.19 97.3 L82.28 97.51 L82.36 97.72 L82.44 97.93 L82.52 98.14 L82.6 98.35 L82.68 98.56 L82.76 98.77 L82.84 98.98 L82.92 99.19 L83 99.4 L83.08 99.61 L83.16 99.82 L83.24 100.03 L83.32 100.24 L83.4 100.45 L83.48 100.66 L83.56 100.87 L83.64 101.08 L83.72 101.29 L83.8 101.5 L83.89 101.71 L83.97 101.92 L84.05 102.12 L84.13 102.33 L84.21 102.54 L84.29 102.75 L84.37 102.96 L84.45 103.17 L84.53 103.37 L84.61 103.58 L84.69 103.79 L84.77 104 L84.85 104.2 L84.93 104.41 L85.01 104.62 L85.09 104.82 L85.17 105.03 L85.25 105.24 L85.33 105.44 L85.41 105.65 L85.5 105.86 L85.58 106.06 L85.66 106.27 L85.74 106.47 L85.82 106.68 L85.9 106.88 L85.98 107.09 L86.06 107.29 L86.14 107.5 L86.22 107.7 L86.3 107.91 L86.38 108.11 L86.46 108.32 L86.54 108.52 L86.62 108.72 L86.7 108.93 L86.78 109.13 L86.86 109.33 L86.94 109.54 L87.02 109.74 L87.11 109.94 L87.19 110.14 L87.27 110.34 L87.35 110.55 L87.43 110.75 L87.51 110.95 L87.59 111.15 L87.67 111.35 L87.75 111.55 L87.83 111.75 L87.91 111.95 L87.99 112.15 L88.07 112.35 L88.15 112.55 L88.23 112.75 L88.31 112.95 L88.39 113.15 L88.47 113.34 L88.55 113.54 L88.63 113.74 L88.72 113.94 L88.8 114.13 L88.88 114.33 L88.96 114.53 L89.04 114.72 L89.12 114.92 L89.2 115.11 L89.28 115.31 L89.36 115.5 L89.44 115.7 L89.52 115.89 L89.6 116.08 L89.68 116.28 L89.76 116.47 L89.84 116.66 L89.92 116.86 L90 117.05 L90.08 117.24 L90.16 117.43 L90.24 117.62 L90.33 117.81 L90.41 118 L90.49 118.19 L90.57 118.38 L90.65 118.56 L90.73 118.75 L90.81 118.94 L90.89 119.13 L90.97 119.31 L91.05 119.5 L91.13 119.68 L91.21 119.87 L91.29 120.05 L91.37 120.23 L91.45 120.42 L91.53 120.6 L91.61 120.78 L91.69 120.96 L91.77 121.14 L91.85 121.32 L91.94 121.5 L92.02 121.68 L92.1 121.86 L92.18 122.04 L92.26 122.21 L92.34 122.39 L92.42 122.56 L92.5 122.74 L92.58 122.91 L92.66 123.09 L92.74 123.26 L92.82 123.43 L92.9 123.6 L92.98 123.77 L93.06 123.94 L93.14 124.11 L93.22 124.28 L93.3 124.44 L93.38 124.61 L93.46 124.78 L93.55 124.94 L93.63 125.1 L93.71 125.27 L93.79 125.43 L93.87 125.59 L93.95 125.75 L94.03 125.91 L94.11 126.06 L94.19 126.22 L94.27 126.38 L94.35 126.53 L95.16 128.02 L95.96 129.39 L96.77 130.64 L97.57 131.75 L98.38 132.73 L99.18 133.59 L99.99 134.33 L100.79 134.96 L101.59 135.5 L102.4 135.96 L103.2 136.36 L104.01 136.71 L104.81 137.01 L105.62 137.27 L106.43 137.5 L107.23 137.7 L108.03 137.89 L108.84 138.05 L109.65 138.2 L110.45 138.33 L111.25 138.45 L112.06 138.56 L112.87 138.66 L113.67 138.76 L114.47 138.84 L115.28 138.92 L116.09 139 L116.89 139.07 L117.7 139.14 L118.5 139.2 L119.31 139.26 L120.11 139.31 L120.92 139.37 L121.72 139.42 L122.53 139.46 L123.33 139.51 L124.14 139.55 L124.94 139.59 L125.75 139.63 L126.55 139.67 L127.36 139.71 L128.16 139.74 L128.97 139.78 L129.77 139.81 L130.58 139.84 L131.38 139.87 L132.19 139.9 L132.99 139.93 L133.8 139.96 L134.6 139.99 L135.41 140.01 L136.21 140.04 L137.02 140.06 L137.82 140.09 L138.62 140.11 L139.43 140.13 L140.24 140.16 L141.04 140.18 L141.84 140.2 L142.65 140.22 L143.46 140.24 L144.26 140.26 L145.06 140.28 L145.87 140.3 L146.68 140.32 L147.48 140.34 L148.28 140.36 L149.09 140.37 L149.9 140.39 L150.7 140.41 L151.51 140.43 L152.31 140.44 L153.12 140.46 L153.92 140.48 L154.72 140.49 L155.53 140.51 L156.34 140.52 L157.14 140.54 L157.95 140.55 L158.75 140.57 L159.56 140.58 L160.36 140.6 L161.17 140.61 L161.97 140.62 L162.78 140.64 L163.58 140.65 L164.39 140.66 L165.19 140.68 L166 140.69 L166.8 140.7 L167.61 140.72 L168.41 140.73 L169.22 140.74 L170.02 140.75 L170.83 140.76 L171.63 140.78 L172.44 140.79 L173.24 140.8 L174.05 140.81 L174.85 140.82 L175.66 140.83 L176.46 140.85 L177.27 140.86 L178.07 140.87 L178.88 140.88 L179.68 140.89 L180.49 140.9 L181.29 140.91 L182.09 140.92 L182.9 140.93 L183.71 140.94 L184.51 140.95 L185.32 140.96 L186.12 140.97 L186.93 140.98 L187.73 140.99 L188.54 141 L189.34 141.01 L190.15 141.02 L190.95 141.03 L191.76 141.04 L192.56 141.05 L193.37 141.06 L194.17 141.06 L194.98 141.07 L195.78 141.08 L196.59 141.09 L197.39 141.1 L198.19 141.11 L199 141.12 L199.81 141.13 L200.61 141.13 L201.42 141.14 L202.22 141.15 L203.03 141.16 L203.83 141.17 L204.64 141.17 L205.44 141.18 L206.25 141.19 L207.05 141.2 L207.86 141.21 L208.66 141.21 L209.47 141.22 L210.27 141.23 L211.08 141.24 L211.88 141.25 L212.69 141.25 L213.49 141.26 L214.3 141.27 L215.1 141.27 L215.91 141.28 L216.71 141.29 L217.52 141.3 L218.32 141.3 L219.13 141.31 L219.93 141.32 L220.74 141.33 L221.54 141.33 L222.34 141.34 L223.15 141.35" fill="none" stroke="#a690c0" stroke-width="1.15"/>
<line x1="62.15" y1="37.5" x2="62.15" y2="43.5" stroke="#f2bc70" stroke-width="0.8"/>
<rect x="61.2" y="42.55" width="1.9" height="1.9" fill="#e6901c"/>
<line x1="62.72" y1="63.7" x2="62.72" y2="76.06" stroke="#f6d0a0" stroke-width="0.7"/>
<line x1="61.42" y1="63.7" x2="64.02" y2="63.7" stroke="#f6d0a0" stroke-width="0.7"/>
<rect x="61.77" y="68.93" width="1.9" height="1.9" fill="#e6901c"/>
<line x1="63.22" y1="80.69" x2="63.22" y2="89.45" stroke="#f6d0a0" stroke-width="0.7"/>
<line x1="61.92" y1="80.69" x2="64.52" y2="80.69" stroke="#f6d0a0" stroke-width="0.7"/>
<rect x="62.27" y="84.12" width="1.9" height="1.9" fill="#e6901c"/>
<line x1="63.83" y1="97.54" x2="63.83" y2="107.93" stroke="#f6d0a0" stroke-width="0.7"/>
<line x1="62.53" y1="97.54" x2="65.13" y2="97.54" stroke="#f6d0a0" stroke-width="0.7"/>
<rect x="62.88" y="101.79" width="1.9" height="1.9" fill="#e6901c"/>
<line x1="64.5" y1="114.26" x2="64.5" y2="119.76" stroke="#f6d0a0" stroke-width="0.7"/>
<line x1="63.2" y1="114.26" x2="65.8" y2="114.26" stroke="#f6d0a0" stroke-width="0.7"/>
<rect x="63.55" y="116.06" width="1.9" height="1.9" fill="#e6901c"/>
<line x1="65.24" y1="127.2" x2="65.24" y2="137.55" stroke="#f6d0a0" stroke-width="0.7"/>
<line x1="63.94" y1="127.2" x2="66.54" y2="127.2" stroke="#f6d0a0" stroke-width="0.7"/>
<rect x="64.29" y="131.43" width="1.9" height="1.9" fill="#e6901c"/>
<line x1="66.98" y1="141.83" x2="66.98" y2="154.51" stroke="#f6d0a0" stroke-width="0.7"/>
<line x1="65.68" y1="141.83" x2="68.28" y2="141.83" stroke="#f6d0a0" stroke-width="0.7"/>
<rect x="66.03" y="147.22" width="1.9" height="1.9" fill="#e6901c"/>
<line x1="94.35" y1="157.29" x2="94.35" y2="160.86" stroke="#f6d0a0" stroke-width="0.7"/>
<line x1="93.05" y1="157.29" x2="95.65" y2="157.29" stroke="#f6d0a0" stroke-width="0.7"/>
<rect x="93.4" y="158.13" width="1.9" height="1.9" fill="#e6901c"/>
<line x1="110.45" y1="155.78" x2="110.45" y2="160" stroke="#f6d0a0" stroke-width="0.7"/>
<line x1="109.15" y1="155.78" x2="111.75" y2="155.78" stroke="#f6d0a0" stroke-width="0.7"/>
<rect x="109.5" y="156.94" width="1.9" height="1.9" fill="#e6901c"/>
<line x1="126.55" y1="157.6" x2="126.55" y2="161.61" stroke="#f6d0a0" stroke-width="0.7"/>
<line x1="125.25" y1="157.6" x2="127.85" y2="157.6" stroke="#f6d0a0" stroke-width="0.7"/>
<rect x="125.6" y="158.66" width="1.9" height="1.9" fill="#e6901c"/>
<line x1="158.75" y1="158.94" x2="158.75" y2="161.14" stroke="#f6d0a0" stroke-width="0.7"/>
<line x1="157.45" y1="158.94" x2="160.05" y2="158.94" stroke="#f6d0a0" stroke-width="0.7"/>
<rect x="157.8" y="159.09" width="1.9" height="1.9" fill="#e6901c"/>
<line x1="223.15" y1="156.44" x2="223.15" y2="160.71" stroke="#f6d0a0" stroke-width="0.7"/>
<line x1="221.85" y1="156.44" x2="224.45" y2="156.44" stroke="#f6d0a0" stroke-width="0.7"/>
<rect x="222.2" y="157.63" width="1.9" height="1.9" fill="#e6901c"/>
<line x1="62.15" y1="37.5" x2="62.15" y2="43.5" stroke="#dc7890" stroke-width="0.8"/>
<circle cx="62.15" cy="43.5" r="0.95" fill="#a8102c"/>
<line x1="63.07" y1="58.93" x2="63.07" y2="72.28" stroke="#e69aa8" stroke-width="0.7"/>
<line x1="61.77" y1="58.93" x2="64.37" y2="58.93" stroke="#e69aa8" stroke-width="0.7"/>
<circle cx="63.07" cy="65.6" r="0.95" fill="#a8102c"/>
<line x1="63.71" y1="77.48" x2="63.71" y2="90.26" stroke="#e69aa8" stroke-width="0.7"/>
<line x1="62.41" y1="77.48" x2="65.01" y2="77.48" stroke="#e69aa8" stroke-width="0.7"/>
<circle cx="63.71" cy="83.87" r="0.95" fill="#a8102c"/>
<line x1="64.39" y1="99.55" x2="64.39" y2="104.52" stroke="#e69aa8" stroke-width="0.7"/>
<line x1="63.09" y1="99.55" x2="65.69" y2="99.55" stroke="#e69aa8" stroke-width="0.7"/>
<circle cx="64.39" cy="102.03" r="0.95" fill="#a8102c"/>
<line x1="65.07" y1="110.53" x2="65.07" y2="115.89" stroke="#e69aa8" stroke-width="0.7"/>
<line x1="63.77" y1="110.53" x2="66.37" y2="110.53" stroke="#e69aa8" stroke-width="0.7"/>
<circle cx="65.07" cy="113.21" r="0.95" fill="#a8102c"/>
<line x1="66" y1="127.63" x2="66" y2="133.8" stroke="#e69aa8" stroke-width="0.7"/>
<line x1="64.7" y1="127.63" x2="67.3" y2="127.63" stroke="#e69aa8" stroke-width="0.7"/>
<circle cx="66" cy="130.72" r="0.95" fill="#a8102c"/>
<line x1="68.7" y1="135.52" x2="68.7" y2="149.17" stroke="#e69aa8" stroke-width="0.7"/>
<line x1="67.4" y1="135.52" x2="70" y2="135.52" stroke="#e69aa8" stroke-width="0.7"/>
<circle cx="68.7" cy="142.35" r="0.95" fill="#a8102c"/>
<line x1="94.35" y1="151.06" x2="94.35" y2="154.37" stroke="#e69aa8" stroke-width="0.7"/>
<line x1="93.05" y1="151.06" x2="95.65" y2="151.06" stroke="#e69aa8" stroke-width="0.7"/>
<circle cx="94.35" cy="152.72" r="0.95" fill="#a8102c"/>
<line x1="110.45" y1="152.07" x2="110.45" y2="155.95" stroke="#e69aa8" stroke-width="0.7"/>
<line x1="109.15" y1="152.07" x2="111.75" y2="152.07" stroke="#e69aa8" stroke-width="0.7"/>
<circle cx="110.45" cy="154.01" r="0.95" fill="#a8102c"/>
<line x1="126.55" y1="152.56" x2="126.55" y2="155.46" stroke="#e69aa8" stroke-width="0.7"/>
<line x1="125.25" y1="152.56" x2="127.85" y2="152.56" stroke="#e69aa8" stroke-width="0.7"/>
<circle cx="126.55" cy="154.01" r="0.95" fill="#a8102c"/>
<line x1="158.75" y1="153.98" x2="158.75" y2="157.5" stroke="#e69aa8" stroke-width="0.7"/>
<line x1="157.45" y1="153.98" x2="160.05" y2="153.98" stroke="#e69aa8" stroke-width="0.7"/>
<circle cx="158.75" cy="155.74" r="0.95" fill="#a8102c"/>
<line x1="223.15" y1="153.64" x2="223.15" y2="156.8" stroke="#e69aa8" stroke-width="0.7"/>
<line x1="221.85" y1="153.64" x2="224.45" y2="153.64" stroke="#e69aa8" stroke-width="0.7"/>
<circle cx="223.15" cy="155.22" r="0.95" fill="#a8102c"/>
<line x1="62.15" y1="37.5" x2="62.15" y2="43.5" stroke="#acd4f2" stroke-width="0.8"/>
<path d="M61.01 44.45L63.29 44.45L62.15 42.36Z" fill="#4aa0e6"/>
<line x1="63.55" y1="57.87" x2="63.55" y2="70.92" stroke="#bfe0f8" stroke-width="0.7"/>
<line x1="62.25" y1="57.87" x2="64.85" y2="57.87" stroke="#bfe0f8" stroke-width="0.7"/>
<path d="M62.41 65.34L64.69 65.34L63.55 63.25Z" fill="#4aa0e6"/>
<line x1="64.61" y1="75.11" x2="64.61" y2="84.8" stroke="#bfe0f8" stroke-width="0.7"/>
<line x1="63.31" y1="75.11" x2="65.91" y2="75.11" stroke="#bfe0f8" stroke-width="0.7"/>
<path d="M63.47 80.91L65.75 80.91L64.61 78.82Z" fill="#4aa0e6"/>
<line x1="65.7" y1="91.16" x2="65.7" y2="102.3" stroke="#bfe0f8" stroke-width="0.7"/>
<line x1="64.4" y1="91.16" x2="67" y2="91.16" stroke="#bfe0f8" stroke-width="0.7"/>
<path d="M64.56 97.68L66.84 97.68L65.7 95.59Z" fill="#4aa0e6"/>
<line x1="66.75" y1="107.5" x2="66.75" y2="113.61" stroke="#bfe0f8" stroke-width="0.7"/>
<line x1="65.45" y1="107.5" x2="68.05" y2="107.5" stroke="#bfe0f8" stroke-width="0.7"/>
<path d="M65.61 111.51L67.89 111.51L66.75 109.42Z" fill="#4aa0e6"/>
<line x1="68" y1="121.03" x2="68" y2="133.34" stroke="#bfe0f8" stroke-width="0.7"/>
<line x1="66.7" y1="121.03" x2="69.3" y2="121.03" stroke="#bfe0f8" stroke-width="0.7"/>
<path d="M66.86 128.13L69.14 128.13L68 126.04Z" fill="#4aa0e6"/>
<line x1="74.06" y1="133.94" x2="74.06" y2="143.68" stroke="#bfe0f8" stroke-width="0.7"/>
<line x1="72.76" y1="133.94" x2="75.36" y2="133.94" stroke="#bfe0f8" stroke-width="0.7"/>
<path d="M72.92 139.76L75.2 139.76L74.06 137.67Z" fill="#4aa0e6"/>
<line x1="94.35" y1="144.48" x2="94.35" y2="151.33" stroke="#bfe0f8" stroke-width="0.7"/>
<line x1="93.05" y1="144.48" x2="95.65" y2="144.48" stroke="#bfe0f8" stroke-width="0.7"/>
<path d="M93.21 148.86L95.49 148.86L94.35 146.77Z" fill="#4aa0e6"/>
<line x1="110.45" y1="148.29" x2="110.45" y2="150.48" stroke="#bfe0f8" stroke-width="0.7"/>
<line x1="109.15" y1="148.29" x2="111.75" y2="148.29" stroke="#bfe0f8" stroke-width="0.7"/>
<path d="M109.31 150.34L111.59 150.34L110.45 148.25Z" fill="#4aa0e6"/>
<line x1="126.55" y1="148.89" x2="126.55" y2="153.45" stroke="#bfe0f8" stroke-width="0.7"/>
<line x1="125.25" y1="148.89" x2="127.85" y2="148.89" stroke="#bfe0f8" stroke-width="0.7"/>
<path d="M125.41 152.12L127.69 152.12L126.55 150.03Z" fill="#4aa0e6"/>
<line x1="158.75" y1="151.03" x2="158.75" y2="156" stroke="#bfe0f8" stroke-width="0.7"/>
<line x1="157.45" y1="151.03" x2="160.05" y2="151.03" stroke="#bfe0f8" stroke-width="0.7"/>
<path d="M157.61 154.46L159.89 154.46L158.75 152.37Z" fill="#4aa0e6"/>
<line x1="223.15" y1="151.79" x2="223.15" y2="154.06" stroke="#bfe0f8" stroke-width="0.7"/>
<line x1="221.85" y1="151.79" x2="224.45" y2="151.79" stroke="#bfe0f8" stroke-width="0.7"/>
<path d="M222.01 153.88L224.29 153.88L223.15 151.79Z" fill="#4aa0e6"/>
<line x1="62.15" y1="37.5" x2="62.15" y2="43.5" stroke="#e468ac" stroke-width="0.8"/>
<path d="M61.01 42.55L63.29 42.55L62.15 44.64Z" fill="#d8208c"/>
<line x1="64.13" y1="52.72" x2="64.13" y2="66.53" stroke="#ec86bf" stroke-width="0.7"/>
<line x1="62.83" y1="52.72" x2="65.43" y2="52.72" stroke="#ec86bf" stroke-width="0.7"/>
<path d="M62.99 58.67L65.27 58.67L64.13 60.76Z" fill="#d8208c"/>
<line x1="65.82" y1="73.88" x2="65.82" y2="82.93" stroke="#ec86bf" stroke-width="0.7"/>
<line x1="64.52" y1="73.88" x2="67.12" y2="73.88" stroke="#ec86bf" stroke-width="0.7"/>
<path d="M64.68 77.46L66.96 77.46L65.82 79.55Z" fill="#d8208c"/>
<line x1="67.62" y1="89.52" x2="67.62" y2="103.51" stroke="#ec86bf" stroke-width="0.7"/>
<line x1="66.32" y1="89.52" x2="68.92" y2="89.52" stroke="#ec86bf" stroke-width="0.7"/>
<path d="M66.48 95.57L68.76 95.57L67.62 97.66Z" fill="#d8208c"/>
<line x1="69.48" y1="107.71" x2="69.48" y2="114.8" stroke="#ec86bf" stroke-width="0.7"/>
<line x1="68.18" y1="107.71" x2="70.78" y2="107.71" stroke="#ec86bf" stroke-width="0.7"/>
<path d="M68.34 110.31L70.62 110.31L69.48 112.4Z" fill="#d8208c"/>
<line x1="72.02" y1="121.9" x2="72.02" y2="126.67" stroke="#ec86bf" stroke-width="0.7"/>
<line x1="70.72" y1="121.9" x2="73.32" y2="121.9" stroke="#ec86bf" stroke-width="0.7"/>
<path d="M70.88 123.34L73.16 123.34L72.02 125.43Z" fill="#d8208c"/>
<line x1="77.63" y1="131.65" x2="77.63" y2="141.65" stroke="#ec86bf" stroke-width="0.7"/>
<line x1="76.33" y1="131.65" x2="78.93" y2="131.65" stroke="#ec86bf" stroke-width="0.7"/>
<path d="M76.49 135.7L78.77 135.7L77.63 137.79Z" fill="#d8208c"/>
<line x1="94.35" y1="145.75" x2="94.35" y2="147.85" stroke="#ec86bf" stroke-width="0.7"/>
<line x1="93.05" y1="145.75" x2="95.65" y2="145.75" stroke="#ec86bf" stroke-width="0.7"/>
<path d="M93.21 145.85L95.49 145.85L94.35 147.94Z" fill="#d8208c"/>
<line x1="110.45" y1="145.22" x2="110.45" y2="147.81" stroke="#ec86bf" stroke-width="0.7"/>
<line x1="109.15" y1="145.22" x2="111.75" y2="145.22" stroke="#ec86bf" stroke-width="0.7"/>
<path d="M109.31 145.57L111.59 145.57L110.45 147.66Z" fill="#d8208c"/>
<line x1="126.55" y1="146.72" x2="126.55" y2="149.94" stroke="#ec86bf" stroke-width="0.7"/>
<line x1="125.25" y1="146.72" x2="127.85" y2="146.72" stroke="#ec86bf" stroke-width="0.7"/>
<path d="M125.41 147.38L127.69 147.38L126.55 149.47Z" fill="#d8208c"/>
<line x1="158.75" y1="145.37" x2="158.75" y2="149.21" stroke="#ec86bf" stroke-width="0.7"/>
<line x1="157.45" y1="145.37" x2="160.05" y2="145.37" stroke="#ec86bf" stroke-width="0.7"/>
<path d="M157.61 146.34L159.89 146.34L158.75 148.43Z" fill="#d8208c"/>
<line x1="223.15" y1="147.45" x2="223.15" y2="149.92" stroke="#ec86bf" stroke-width="0.7"/>
<line x1="221.85" y1="147.45" x2="224.45" y2="147.45" stroke="#ec86bf" stroke-width="0.7"/>
<path d="M222.01 147.74L224.29 147.74L223.15 149.83Z" fill="#d8208c"/>
<line x1="62.15" y1="37.5" x2="62.15" y2="43.5" stroke="#92c674" stroke-width="0.8"/>
<path d="M62.15 42.36L63.29 43.5L62.15 44.64L61.01 43.5Z" fill="#5aa832"/>
<line x1="65.69" y1="54.38" x2="65.69" y2="67.79" stroke="#9fd08a" stroke-width="0.7"/>
<line x1="64.39" y1="54.38" x2="66.99" y2="54.38" stroke="#9fd08a" stroke-width="0.7"/>
<path d="M65.69 59.94L66.83 61.08L65.69 62.22L64.55 61.08Z" fill="#5aa832"/>
<line x1="69.09" y1="69.06" x2="69.09" y2="78.13" stroke="#9fd08a" stroke-width="0.7"/>
<line x1="67.79" y1="69.06" x2="70.39" y2="69.06" stroke="#9fd08a" stroke-width="0.7"/>
<path d="M69.09 72.45L70.23 73.59L69.09 74.73L67.95 73.59Z" fill="#5aa832"/>
<line x1="72.63" y1="89.07" x2="72.63" y2="97.38" stroke="#9fd08a" stroke-width="0.7"/>
<line x1="71.33" y1="89.07" x2="73.93" y2="89.07" stroke="#9fd08a" stroke-width="0.7"/>
<path d="M72.63 92.08L73.77 93.22L72.63 94.36L71.49 93.22Z" fill="#5aa832"/>
<line x1="76.17" y1="99.77" x2="76.17" y2="110.98" stroke="#9fd08a" stroke-width="0.7"/>
<line x1="74.87" y1="99.77" x2="77.47" y2="99.77" stroke="#9fd08a" stroke-width="0.7"/>
<path d="M76.17 104.24L77.31 105.38L76.17 106.52L75.03 105.38Z" fill="#5aa832"/>
<line x1="80.55" y1="117.99" x2="80.55" y2="124.36" stroke="#9fd08a" stroke-width="0.7"/>
<line x1="79.25" y1="117.99" x2="81.85" y2="117.99" stroke="#9fd08a" stroke-width="0.7"/>
<path d="M80.55 120.04L81.69 121.18L80.55 122.32L79.41 121.18Z" fill="#5aa832"/>
<line x1="87.92" y1="133.25" x2="87.92" y2="140.26" stroke="#9fd08a" stroke-width="0.7"/>
<line x1="86.62" y1="133.25" x2="89.22" y2="133.25" stroke="#9fd08a" stroke-width="0.7"/>
<path d="M87.92 135.61L89.06 136.75L87.92 137.89L86.78 136.75Z" fill="#5aa832"/>
<line x1="94.35" y1="134.89" x2="94.35" y2="148.67" stroke="#9fd08a" stroke-width="0.7"/>
<line x1="93.05" y1="134.89" x2="95.65" y2="134.89" stroke="#9fd08a" stroke-width="0.7"/>
<path d="M94.35 140.64L95.49 141.78L94.35 142.92L93.21 141.78Z" fill="#5aa832"/>
<line x1="110.45" y1="142.95" x2="110.45" y2="146.52" stroke="#9fd08a" stroke-width="0.7"/>
<line x1="109.15" y1="142.95" x2="111.75" y2="142.95" stroke="#9fd08a" stroke-width="0.7"/>
<path d="M110.45 143.6L111.59 144.74L110.45 145.88L109.31 144.74Z" fill="#5aa832"/>
<line x1="126.55" y1="143.77" x2="126.55" y2="147.41" stroke="#9fd08a" stroke-width="0.7"/>
<line x1="125.25" y1="143.77" x2="127.85" y2="143.77" stroke="#9fd08a" stroke-width="0.7"/>
<path d="M126.55 144.45L127.69 145.59L126.55 146.73L125.41 145.59Z" fill="#5aa832"/>
<line x1="158.75" y1="145.77" x2="158.75" y2="147.8" stroke="#9fd08a" stroke-width="0.7"/>
<line x1="157.45" y1="145.77" x2="160.05" y2="145.77" stroke="#9fd08a" stroke-width="0.7"/>
<path d="M158.75 145.65L159.89 146.79L158.75 147.93L157.61 146.79Z" fill="#5aa832"/>
<line x1="223.15" y1="146.22" x2="223.15" y2="149.46" stroke="#9fd08a" stroke-width="0.7"/>
<line x1="221.85" y1="146.22" x2="224.45" y2="146.22" stroke="#9fd08a" stroke-width="0.7"/>
<path d="M223.15 146.7L224.29 147.84L223.15 148.98L222.01 147.84Z" fill="#5aa832"/>
<line x1="62.15" y1="37.5" x2="62.15" y2="43.5" stroke="#7a8fb8" stroke-width="0.8"/>
<path d="M63.1 42.55L61.01 43.5L63.1 44.45Z" fill="#1f3f7f"/>
<line x1="66.81" y1="53.56" x2="66.81" y2="58.16" stroke="#8f9fc0" stroke-width="0.7"/>
<line x1="65.51" y1="53.56" x2="68.11" y2="53.56" stroke="#8f9fc0" stroke-width="0.7"/>
<path d="M67.76 54.91L65.67 55.86L67.76 56.81Z" fill="#1f3f7f"/>
<line x1="71.95" y1="70.14" x2="71.95" y2="80.9" stroke="#8f9fc0" stroke-width="0.7"/>
<line x1="70.65" y1="70.14" x2="73.25" y2="70.14" stroke="#8f9fc0" stroke-width="0.7"/>
<path d="M72.9 74.57L70.81 75.52L72.9 76.47Z" fill="#1f3f7f"/>
<line x1="77.16" y1="82.4" x2="77.16" y2="96.03" stroke="#8f9fc0" stroke-width="0.7"/>
<line x1="75.86" y1="82.4" x2="78.46" y2="82.4" stroke="#8f9fc0" stroke-width="0.7"/>
<path d="M78.11 88.26L76.02 89.21L78.11 90.16Z" fill="#1f3f7f"/>
<line x1="82.07" y1="101.35" x2="82.07" y2="107.86" stroke="#8f9fc0" stroke-width="0.7"/>
<line x1="80.77" y1="101.35" x2="83.37" y2="101.35" stroke="#8f9fc0" stroke-width="0.7"/>
<path d="M83.02 103.66L80.93 104.61L83.02 105.56Z" fill="#1f3f7f"/>
<line x1="87.3" y1="118.76" x2="87.3" y2="127.32" stroke="#8f9fc0" stroke-width="0.7"/>
<line x1="86" y1="118.76" x2="88.6" y2="118.76" stroke="#8f9fc0" stroke-width="0.7"/>
<path d="M88.25 122.09L86.16 123.04L88.25 123.99Z" fill="#1f3f7f"/>
<line x1="93.34" y1="128.05" x2="93.34" y2="137.98" stroke="#8f9fc0" stroke-width="0.7"/>
<line x1="92.04" y1="128.05" x2="94.64" y2="128.05" stroke="#8f9fc0" stroke-width="0.7"/>
<path d="M94.29 132.06L92.2 133.01L94.29 133.96Z" fill="#1f3f7f"/>
<line x1="94.35" y1="133.16" x2="94.35" y2="140.36" stroke="#8f9fc0" stroke-width="0.7"/>
<line x1="93.05" y1="133.16" x2="95.65" y2="133.16" stroke="#8f9fc0" stroke-width="0.7"/>
<path d="M95.3 135.81L93.21 136.76L95.3 137.71Z" fill="#1f3f7f"/>
<line x1="110.45" y1="137.82" x2="110.45" y2="145.46" stroke="#8f9fc0" stroke-width="0.7"/>
<line x1="109.15" y1="137.82" x2="111.75" y2="137.82" stroke="#8f9fc0" stroke-width="0.7"/>
<path d="M111.4 140.69L109.31 141.64L111.4 142.59Z" fill="#1f3f7f"/>
<line x1="126.55" y1="142.17" x2="126.55" y2="145.11" stroke="#8f9fc0" stroke-width="0.7"/>
<line x1="125.25" y1="142.17" x2="127.85" y2="142.17" stroke="#8f9fc0" stroke-width="0.7"/>
<path d="M127.5 142.69L125.41 143.64L127.5 144.59Z" fill="#1f3f7f"/>
<line x1="158.75" y1="142.56" x2="158.75" y2="145.67" stroke="#8f9fc0" stroke-width="0.7"/>
<line x1="157.45" y1="142.56" x2="160.05" y2="142.56" stroke="#8f9fc0" stroke-width="0.7"/>
<path d="M159.7 143.17L157.61 144.12L159.7 145.07Z" fill="#1f3f7f"/>
<line x1="223.15" y1="143.46" x2="223.15" y2="147.25" stroke="#8f9fc0" stroke-width="0.7"/>
<line x1="221.85" y1="143.46" x2="224.45" y2="143.46" stroke="#8f9fc0" stroke-width="0.7"/>
<path d="M224.1 144.41L222.01 145.36L224.1 146.31Z" fill="#1f3f7f"/>
<line x1="62.15" y1="37.5" x2="62.15" y2="43.5" stroke="#a690c0" stroke-width="0.8"/>
<path d="M61.2 42.55L63.29 43.5L61.2 44.45Z" fill="#4a1a6e"/>
<line x1="66.91" y1="49.36" x2="66.91" y2="60.34" stroke="#b39cc6" stroke-width="0.7"/>
<line x1="65.61" y1="49.36" x2="68.21" y2="49.36" stroke="#b39cc6" stroke-width="0.7"/>
<path d="M65.96 53.9L68.05 54.85L65.96 55.8Z" fill="#4a1a6e"/>
<line x1="73.12" y1="68.71" x2="73.12" y2="73.73" stroke="#b39cc6" stroke-width="0.7"/>
<line x1="71.82" y1="68.71" x2="74.42" y2="68.71" stroke="#b39cc6" stroke-width="0.7"/>
<path d="M72.17 70.27L74.26 71.22L72.17 72.17Z" fill="#4a1a6e"/>
<line x1="79.4" y1="82.35" x2="79.4" y2="89.56" stroke="#b39cc6" stroke-width="0.7"/>
<line x1="78.1" y1="82.35" x2="80.7" y2="82.35" stroke="#b39cc6" stroke-width="0.7"/>
<path d="M78.45 85.01L80.54 85.96L78.45 86.91Z" fill="#4a1a6e"/>
<line x1="85.32" y1="101.61" x2="85.32" y2="108.95" stroke="#b39cc6" stroke-width="0.7"/>
<line x1="84.02" y1="101.61" x2="86.62" y2="101.61" stroke="#b39cc6" stroke-width="0.7"/>
<path d="M84.37 104.33L86.46 105.28L84.37 106.23Z" fill="#4a1a6e"/>
<line x1="91.67" y1="111.79" x2="91.67" y2="124.13" stroke="#b39cc6" stroke-width="0.7"/>
<line x1="90.37" y1="111.79" x2="92.97" y2="111.79" stroke="#b39cc6" stroke-width="0.7"/>
<path d="M90.72 117.01L92.81 117.96L90.72 118.91Z" fill="#4a1a6e"/>
<line x1="99.4" y1="125.81" x2="99.4" y2="134.2" stroke="#b39cc6" stroke-width="0.7"/>
<line x1="98.1" y1="125.81" x2="100.7" y2="125.81" stroke="#b39cc6" stroke-width="0.7"/>
<path d="M98.45 129.06L100.54 130.01L98.45 130.96Z" fill="#4a1a6e"/>
<line x1="94.35" y1="119.92" x2="94.35" y2="132.48" stroke="#b39cc6" stroke-width="0.7"/>
<line x1="93.05" y1="119.92" x2="95.65" y2="119.92" stroke="#b39cc6" stroke-width="0.7"/>
<path d="M93.4 125.25L95.49 126.2L93.4 127.15Z" fill="#4a1a6e"/>
<line x1="110.45" y1="136.94" x2="110.45" y2="139.45" stroke="#b39cc6" stroke-width="0.7"/>
<line x1="109.15" y1="136.94" x2="111.75" y2="136.94" stroke="#b39cc6" stroke-width="0.7"/>
<path d="M109.5 137.25L111.59 138.2L109.5 139.15Z" fill="#4a1a6e"/>
<line x1="126.55" y1="136.69" x2="126.55" y2="139.7" stroke="#b39cc6" stroke-width="0.7"/>
<line x1="125.25" y1="136.69" x2="127.85" y2="136.69" stroke="#b39cc6" stroke-width="0.7"/>
<path d="M125.6 137.24L127.69 138.19L125.6 139.14Z" fill="#4a1a6e"/>
<line x1="158.75" y1="138.42" x2="158.75" y2="142.38" stroke="#b39cc6" stroke-width="0.7"/>
<line x1="157.45" y1="138.42" x2="160.05" y2="138.42" stroke="#b39cc6" stroke-width="0.7"/>
<path d="M157.8 139.45L159.89 140.4L157.8 141.35Z" fill="#4a1a6e"/>
<line x1="223.15" y1="138.97" x2="223.15" y2="143.63" stroke="#b39cc6" stroke-width="0.7"/>
<line x1="221.85" y1="138.97" x2="224.45" y2="138.97" stroke="#b39cc6" stroke-width="0.7"/>
<path d="M222.2 140.35L224.29 141.3L222.2 142.25Z" fill="#4a1a6e"/>
<line x1="58.9" y1="37" x2="58.9" y2="173.2" stroke="#383838" stroke-width="1.9"/>
<line x1="57.5" y1="172.5" x2="227" y2="172.5" stroke="#383838" stroke-width="1.5"/>
<line x1="55.8" y1="172.5" x2="58.8" y2="172.5" stroke="#383838" stroke-width="1.1"/>
<text x="54.1" y="175.3" font-size="8.09" fill="#1a1a1a" text-anchor="end" stroke="#1a1a1a" stroke-width="0.18">0%</text>
<line x1="55.8" y1="146.7" x2="58.8" y2="146.7" stroke="#383838" stroke-width="1.1"/>
<text x="54.1" y="149.5" font-size="8.09" fill="#1a1a1a" text-anchor="end" stroke="#1a1a1a" stroke-width="0.18">20%</text>
<line x1="55.8" y1="120.9" x2="58.8" y2="120.9" stroke="#383838" stroke-width="1.1"/>
<text x="54.1" y="123.7" font-size="8.09" fill="#1a1a1a" text-anchor="end" stroke="#1a1a1a" stroke-width="0.18">40%</text>
<line x1="55.8" y1="95.1" x2="58.8" y2="95.1" stroke="#383838" stroke-width="1.1"/>
<text x="54.1" y="97.9" font-size="8.09" fill="#1a1a1a" text-anchor="end" stroke="#1a1a1a" stroke-width="0.18">60%</text>
<line x1="55.8" y1="69.3" x2="58.8" y2="69.3" stroke="#383838" stroke-width="1.1"/>
<text x="54.1" y="72.1" font-size="8.09" fill="#1a1a1a" text-anchor="end" stroke="#1a1a1a" stroke-width="0.18">80%</text>
<line x1="55.8" y1="43.5" x2="58.8" y2="43.5" stroke="#383838" stroke-width="1.1"/>
<text x="54.1" y="46.3" font-size="8.09" fill="#1a1a1a" text-anchor="end" stroke="#1a1a1a" stroke-width="0.18">100%</text>
<line x1="57" y1="159.6" x2="58.8" y2="159.6" stroke="#383838" stroke-width="1"/>
<line x1="57" y1="133.8" x2="58.8" y2="133.8" stroke="#383838" stroke-width="1"/>
<line x1="57" y1="108" x2="58.8" y2="108" stroke="#383838" stroke-width="1"/>
<line x1="57" y1="82.2" x2="58.8" y2="82.2" stroke="#383838" stroke-width="1"/>
<line x1="57" y1="56.4" x2="58.8" y2="56.4" stroke="#383838" stroke-width="1"/>
<line x1="62.15" y1="172.5" x2="62.15" y2="175.4" stroke="#383838" stroke-width="1.1"/>
<text x="62.15" y="185.1" font-size="8.29" fill="#1a1a1a" text-anchor="middle" stroke="#1a1a1a" stroke-width="0.18">0</text>
<line x1="78.25" y1="172.5" x2="78.25" y2="174.4" stroke="#383838" stroke-width="1"/>
<line x1="94.35" y1="172.5" x2="94.35" y2="175.4" stroke="#383838" stroke-width="1.1"/>
<text x="94.35" y="185.1" font-size="8.29" fill="#1a1a1a" text-anchor="middle" stroke="#1a1a1a" stroke-width="0.18">2</text>
<line x1="110.45" y1="172.5" x2="110.45" y2="174.4" stroke="#383838" stroke-width="1"/>
<line x1="126.55" y1="172.5" x2="126.55" y2="175.4" stroke="#383838" stroke-width="1.1"/>
<text x="126.55" y="185.1" font-size="8.29" fill="#1a1a1a" text-anchor="middle" stroke="#1a1a1a" stroke-width="0.18">4</text>
<line x1="142.65" y1="172.5" x2="142.65" y2="174.4" stroke="#383838" stroke-width="1"/>
<line x1="158.75" y1="172.5" x2="158.75" y2="175.4" stroke="#383838" stroke-width="1.1"/>
<text x="158.75" y="185.1" font-size="8.29" fill="#1a1a1a" text-anchor="middle" stroke="#1a1a1a" stroke-width="0.18">6</text>
<line x1="174.85" y1="172.5" x2="174.85" y2="174.4" stroke="#383838" stroke-width="1"/>
<line x1="190.95" y1="172.5" x2="190.95" y2="175.4" stroke="#383838" stroke-width="1.1"/>
<text x="190.95" y="185.1" font-size="8.29" fill="#1a1a1a" text-anchor="middle" stroke="#1a1a1a" stroke-width="0.18">8</text>
<line x1="207.05" y1="172.5" x2="207.05" y2="174.4" stroke="#383838" stroke-width="1"/>
<line x1="223.15" y1="172.5" x2="223.15" y2="175.4" stroke="#383838" stroke-width="1.1"/>
<text x="223.15" y="185.1" font-size="8.29" fill="#1a1a1a" text-anchor="middle" stroke="#1a1a1a" stroke-width="0.18">10</text>
<text x="121.6" y="197.6" font-size="8" fill="#1a1a1a" stroke="#1a1a1a" stroke-width="0.28" textLength="42.2" lengthAdjust="spacingAndGlyphs">Warfarin (μM)</text>
<text transform="translate(27.2 141.9) rotate(-90)" font-size="8.4" fill="#1a1a1a" stroke="#1a1a1a" stroke-width="0.28" textLength="74.3" lengthAdjust="spacingAndGlyphs">Relative activity (KO to K)</text>
<line x1="69.6" y1="190.6" x2="76.7" y2="172.8" stroke="#74bc56" stroke-width="0.9"/>
<text x="53.5" y="198.2" font-size="8.19" fill="#74bc56" textLength="16.6" lengthAdjust="spacingAndGlyphs" stroke="#74bc56" stroke-width="0.18">IC50</text>
<line x1="180.6" y1="41.5" x2="191" y2="41.5" stroke="#a690c0" stroke-width="1.1"/>
<path d="M183.5 39.2L188.56 41.5L183.5 43.8Z" fill="#4a1a6e"/>
<text x="194" y="44.2" font-size="7.77" fill="#1a1a1a" textLength="35" lengthAdjust="spacingAndGlyphs" stroke="#1a1a1a" stroke-width="0.18">0.32 / 2.56</text>
<line x1="180.6" y1="53.35" x2="191" y2="53.35" stroke="#7a8fb8" stroke-width="1.1"/>
<path d="M188.1 51.05L183.04 53.35L188.1 55.65Z" fill="#1f3f7f"/>
<text x="194" y="56.05" font-size="7.77" fill="#1a1a1a" textLength="35" lengthAdjust="spacingAndGlyphs" stroke="#1a1a1a" stroke-width="0.18">0.24 / 1.92</text>
<line x1="180.6" y1="65.2" x2="191" y2="65.2" stroke="#92c674" stroke-width="1.1"/>
<path d="M185.8 62.44L188.56 65.2L185.8 67.96L183.04 65.2Z" fill="#5aa832"/>
<text x="194" y="67.9" font-size="7.77" fill="#1a1a1a" textLength="35" lengthAdjust="spacingAndGlyphs" stroke="#1a1a1a" stroke-width="0.18">0.16 / 1.28</text>
<line x1="180.6" y1="77.05" x2="191" y2="77.05" stroke="#e468ac" stroke-width="1.1"/>
<path d="M183.04 74.75L188.56 74.75L185.8 79.81Z" fill="#d8208c"/>
<text x="194" y="79.75" font-size="7.77" fill="#1a1a1a" textLength="35" lengthAdjust="spacingAndGlyphs" stroke="#1a1a1a" stroke-width="0.18">0.08 / 0.64</text>
<line x1="180.6" y1="88.9" x2="191" y2="88.9" stroke="#acd4f2" stroke-width="1.1"/>
<path d="M183.04 91.2L188.56 91.2L185.8 86.14Z" fill="#4aa0e6"/>
<text x="194" y="91.6" font-size="7.77" fill="#1a1a1a" textLength="35" lengthAdjust="spacingAndGlyphs" stroke="#1a1a1a" stroke-width="0.18">0.04 / 0.32</text>
<line x1="180.6" y1="100.75" x2="191" y2="100.75" stroke="#dc7890" stroke-width="1.1"/>
<circle cx="185.8" cy="100.75" r="2.3" fill="#a8102c"/>
<text x="194" y="103.45" font-size="7.77" fill="#1a1a1a" textLength="35" lengthAdjust="spacingAndGlyphs" stroke="#1a1a1a" stroke-width="0.18">0.02 / 0.16</text>
<line x1="180.6" y1="112.6" x2="191" y2="112.6" stroke="#f2bc70" stroke-width="1.1"/>
<rect x="183.5" y="110.3" width="4.6" height="4.6" fill="#e6901c"/>
<text x="194" y="115.3" font-size="7.77" fill="#1a1a1a" textLength="35" lengthAdjust="spacingAndGlyphs" stroke="#1a1a1a" stroke-width="0.18">0.01 / 0.08</text>
<ellipse cx="223" cy="65.3" rx="9.7" ry="5.1" fill="none" stroke="#7cc060" stroke-width="0.9"/>
<text x="259.9" y="15.9" font-size="11.3" font-weight="bold" fill="#000" stroke="#000" stroke-width="0.45">B</text>
<text x="297.3" y="46.8" font-size="7.67" fill="#1a1a1a" textLength="53.6" lengthAdjust="spacingAndGlyphs" stroke="#1a1a1a" stroke-width="0.18">Total microsome</text>
<text x="304.2" y="57.5" font-size="7.67" fill="#1a1a1a" textLength="42.4" lengthAdjust="spacingAndGlyphs" stroke="#1a1a1a" stroke-width="0.18">proteins (ng)</text>
<text x="429" y="46.8" font-size="7.67" fill="#1a1a1a" textLength="24.4" lengthAdjust="spacingAndGlyphs" stroke="#1a1a1a" stroke-width="0.18">Purified</text>
<text x="415.2" y="57.5" font-size="7.67" fill="#1a1a1a" textLength="52" lengthAdjust="spacingAndGlyphs" stroke="#1a1a1a" stroke-width="0.18">VKORC1(pmol)</text>
<line x1="282" y1="62.7" x2="367.9" y2="62.7" stroke="#444" stroke-width="1.4"/>
<line x1="374" y1="62.7" x2="510.4" y2="62.7" stroke="#444" stroke-width="1.4"/>
<text x="283.8" y="73.1" font-size="7.67" fill="#1a1a1a" textLength="12.6" lengthAdjust="spacingAndGlyphs" stroke="#1a1a1a" stroke-width="0.18">240</text>
<text x="304.2" y="73.1" font-size="7.67" fill="#1a1a1a" textLength="12.1" lengthAdjust="spacingAndGlyphs" stroke="#1a1a1a" stroke-width="0.18">120</text>
<text x="322.4" y="73.1" font-size="7.67" fill="#1a1a1a" textLength="9.5" lengthAdjust="spacingAndGlyphs" stroke="#1a1a1a" stroke-width="0.18">60</text>
<text x="341.4" y="73.1" font-size="7.67" fill="#1a1a1a" textLength="9.6" lengthAdjust="spacingAndGlyphs" stroke="#1a1a1a" stroke-width="0.18">30</text>
<text x="361.3" y="73.1" font-size="7.67" fill="#1a1a1a" textLength="6.9" lengthAdjust="spacingAndGlyphs" stroke="#1a1a1a" stroke-width="0.18">15</text>
<text x="373.7" y="73.1" font-size="7.67" fill="#1a1a1a" textLength="18.1" lengthAdjust="spacingAndGlyphs" stroke="#1a1a1a" stroke-width="0.18">0.015</text>
<text x="394.4" y="73.1" font-size="7.67" fill="#1a1a1a" textLength="14.7" lengthAdjust="spacingAndGlyphs" stroke="#1a1a1a" stroke-width="0.18">0.03</text>
<text x="413.4" y="73.1" font-size="7.67" fill="#1a1a1a" textLength="13.9" lengthAdjust="spacingAndGlyphs" stroke="#1a1a1a" stroke-width="0.18">0.06</text>
<text x="430.4" y="73.1" font-size="7.67" fill="#1a1a1a" textLength="17.6" lengthAdjust="spacingAndGlyphs" stroke="#1a1a1a" stroke-width="0.18">0.125</text>
<text x="450.8" y="73.1" font-size="7.67" fill="#1a1a1a" textLength="13.8" lengthAdjust="spacingAndGlyphs" stroke="#1a1a1a" stroke-width="0.18">0.25</text>
<text x="471.2" y="73.1" font-size="7.67" fill="#1a1a1a" textLength="9.8" lengthAdjust="spacingAndGlyphs" stroke="#1a1a1a" stroke-width="0.18">0.5</text>
<text x="492.8" y="73.1" font-size="7.67" fill="#1a1a1a" stroke="#1a1a1a" stroke-width="0.18">1</text>
<rect x="282" y="77.5" width="231" height="41.5" fill="url(#blotg)"/>
<clipPath id="blotclip"><rect x="282" y="77.5" width="231" height="41.5"/></clipPath>
<g clip-path="url(#blotclip)">
<path d="M466 70 L520 70 L520 125 L452 125 Z" fill="url(#darkg)" filter="url(#bl1)"/>
<ellipse cx="482" cy="92" rx="24" ry="14" fill="#a6a6a6" filter="url(#bl4)"/>
<ellipse cx="287.5" cy="108.5" rx="4" ry="2" fill="#9a9a9a" filter="url(#bl1)"/>
<ellipse cx="293" cy="110" rx="3" ry="1.5" fill="#a4a4a4" filter="url(#bl1)"/>
<ellipse cx="307" cy="110" rx="3" ry="1.3" fill="#a8a8a8" filter="url(#bl1)"/>
<ellipse cx="312" cy="109.5" rx="2.5" ry="1.2" fill="#acacac" filter="url(#bl1)"/>
<ellipse cx="300" cy="89" rx="20" ry="4" fill="#a8a8a8" filter="url(#bl2)"/>
<rect x="276" y="90.4" width="25.5" height="12" rx="9.6" ry="6" fill="#000" filter="url(#bl1)"/>
<rect x="300" y="91.4" width="19.6" height="10.2" rx="8.16" ry="5.1" fill="#000" filter="url(#bl1)"/>
<rect x="319" y="93.2" width="18.6" height="7.6" rx="6.08" ry="3.8" fill="#000" filter="url(#bl1)"/>
<rect x="338.4" y="94" width="16.8" height="6.2" rx="4.96" ry="3.1" fill="#000" filter="url(#bl1)"/>
<rect x="396" y="98.5" width="7" height="1.1" rx="0.88" ry="0.55" fill="#bababa" filter="url(#bl1)"/>
<rect x="412.5" y="98.2" width="12.7" height="2" rx="1.6" ry="1" fill="#a6a6a6" filter="url(#bl1)"/>
<rect x="429.8" y="97.6" width="15" height="4" rx="3.2" ry="2" fill="#0a0a0a" filter="url(#bl1)"/>
<rect x="447.6" y="97" width="17.6" height="6.2" rx="4.96" ry="3.1" fill="#000" filter="url(#bl1)"/>
<rect x="465" y="95.4" width="20" height="9.5" rx="7.6" ry="4.75" fill="#000" filter="url(#bl1)"/>
<rect x="483.6" y="95.4" width="20.6" height="10.1" rx="8.08" ry="5.05" fill="#000" filter="url(#bl1)"/>
<path d="M358 98.2 C358 96.2 362 96.0 366 96.4 C369 96.8 372 97.6 373.6 98.3 C372 99.0 369 99.6 366 99.9 C362 100.3 358 100.2 358 98.2 Z" fill="#111" filter="url(#bl0)"/>
<rect x="296" y="93" width="8" height="7" fill="#000" filter="url(#bl1)"/>
<rect x="315" y="94.5" width="8" height="5" fill="#000" filter="url(#bl1)"/>
<rect x="334" y="95.6" width="7" height="3" fill="#111" filter="url(#bl1)"/>
<rect x="461" y="98" width="7" height="4" fill="#000" filter="url(#bl1)"/>
<rect x="480" y="96.5" width="7" height="7" fill="#000" filter="url(#bl1)"/>
</g>
<text x="6.8" y="225.1" font-size="11.3" font-weight="bold" fill="#000" stroke="#000" stroke-width="0.45">C</text>
<line x1="61.2" y1="230.8" x2="61.2" y2="368.3" stroke="#111" stroke-width="1.4"/>
<line x1="60.5" y1="367.6" x2="231.9" y2="367.6" stroke="#111" stroke-width="1.4"/>
<line x1="58.5" y1="367.6" x2="61.2" y2="367.6" stroke="#111" stroke-width="1"/>
<text x="55.6" y="370" font-size="7.14" fill="#1a1a1a" text-anchor="end" stroke="#1a1a1a" stroke-width="0.18">0.0</text>
<line x1="59.6" y1="359.31" x2="61.2" y2="359.31" stroke="#111" stroke-width="0.9"/>
<line x1="58.5" y1="351.02" x2="61.2" y2="351.02" stroke="#111" stroke-width="1"/>
<text x="55.6" y="353.42" font-size="7.14" fill="#1a1a1a" text-anchor="end" stroke="#1a1a1a" stroke-width="0.18">0.2</text>
<line x1="59.6" y1="342.73" x2="61.2" y2="342.73" stroke="#111" stroke-width="0.9"/>
<line x1="58.5" y1="334.44" x2="61.2" y2="334.44" stroke="#111" stroke-width="1"/>
<text x="55.6" y="336.84" font-size="7.14" fill="#1a1a1a" text-anchor="end" stroke="#1a1a1a" stroke-width="0.18">0.4</text>
<line x1="59.6" y1="326.15" x2="61.2" y2="326.15" stroke="#111" stroke-width="0.9"/>
<line x1="58.5" y1="317.86" x2="61.2" y2="317.86" stroke="#111" stroke-width="1"/>
<text x="55.6" y="320.26" font-size="7.14" fill="#1a1a1a" text-anchor="end" stroke="#1a1a1a" stroke-width="0.18">0.6</text>
<line x1="59.6" y1="309.57" x2="61.2" y2="309.57" stroke="#111" stroke-width="0.9"/>
<line x1="58.5" y1="301.28" x2="61.2" y2="301.28" stroke="#111" stroke-width="1"/>
<text x="55.6" y="303.68" font-size="7.14" fill="#1a1a1a" text-anchor="end" stroke="#1a1a1a" stroke-width="0.18">0.8</text>
<line x1="59.6" y1="292.99" x2="61.2" y2="292.99" stroke="#111" stroke-width="0.9"/>
<line x1="58.5" y1="284.7" x2="61.2" y2="284.7" stroke="#111" stroke-width="1"/>
<text x="55.6" y="287.1" font-size="7.14" fill="#1a1a1a" text-anchor="end" stroke="#1a1a1a" stroke-width="0.18">1.0</text>
<line x1="59.6" y1="276.41" x2="61.2" y2="276.41" stroke="#111" stroke-width="0.9"/>
<line x1="58.5" y1="268.12" x2="61.2" y2="268.12" stroke="#111" stroke-width="1"/>
<text x="55.6" y="270.52" font-size="7.14" fill="#1a1a1a" text-anchor="end" stroke="#1a1a1a" stroke-width="0.18">1.2</text>
<line x1="59.6" y1="259.83" x2="61.2" y2="259.83" stroke="#111" stroke-width="0.9"/>
<line x1="58.5" y1="251.54" x2="61.2" y2="251.54" stroke="#111" stroke-width="1"/>
<text x="55.6" y="253.94" font-size="7.14" fill="#1a1a1a" text-anchor="end" stroke="#1a1a1a" stroke-width="0.18">1.4</text>
<line x1="59.6" y1="243.25" x2="61.2" y2="243.25" stroke="#111" stroke-width="0.9"/>
<line x1="58.5" y1="234.96" x2="61.2" y2="234.96" stroke="#111" stroke-width="1"/>
<text x="55.6" y="237.36" font-size="7.14" fill="#1a1a1a" text-anchor="end" stroke="#1a1a1a" stroke-width="0.18">1.6</text>
<line x1="61.4" y1="367.6" x2="61.4" y2="370.3" stroke="#111" stroke-width="1"/>
<text x="61.4" y="380.5" font-size="7.14" fill="#1a1a1a" text-anchor="middle" stroke="#1a1a1a" stroke-width="0.18">0.0</text>
<line x1="71.14" y1="367.6" x2="71.14" y2="369.5" stroke="#111" stroke-width="0.9"/>
<line x1="80.88" y1="367.6" x2="80.88" y2="370.3" stroke="#111" stroke-width="1"/>
<text x="80.88" y="380.5" font-size="7.14" fill="#1a1a1a" text-anchor="middle" stroke="#1a1a1a" stroke-width="0.18">0.4</text>
<line x1="90.62" y1="367.6" x2="90.62" y2="369.5" stroke="#111" stroke-width="0.9"/>
<line x1="100.36" y1="367.6" x2="100.36" y2="370.3" stroke="#111" stroke-width="1"/>
<text x="100.36" y="380.5" font-size="7.14" fill="#1a1a1a" text-anchor="middle" stroke="#1a1a1a" stroke-width="0.18">0.8</text>
<line x1="110.1" y1="367.6" x2="110.1" y2="369.5" stroke="#111" stroke-width="0.9"/>
<line x1="119.84" y1="367.6" x2="119.84" y2="370.3" stroke="#111" stroke-width="1"/>
<text x="119.84" y="380.5" font-size="7.14" fill="#1a1a1a" text-anchor="middle" stroke="#1a1a1a" stroke-width="0.18">1.2</text>
<line x1="129.58" y1="367.6" x2="129.58" y2="369.5" stroke="#111" stroke-width="0.9"/>
<line x1="139.32" y1="367.6" x2="139.32" y2="370.3" stroke="#111" stroke-width="1"/>
<text x="139.32" y="380.5" font-size="7.14" fill="#1a1a1a" text-anchor="middle" stroke="#1a1a1a" stroke-width="0.18">1.6</text>
<line x1="149.06" y1="367.6" x2="149.06" y2="369.5" stroke="#111" stroke-width="0.9"/>
<line x1="158.8" y1="367.6" x2="158.8" y2="370.3" stroke="#111" stroke-width="1"/>
<text x="158.8" y="380.5" font-size="7.14" fill="#1a1a1a" text-anchor="middle" stroke="#1a1a1a" stroke-width="0.18">2.0</text>
<line x1="168.54" y1="367.6" x2="168.54" y2="369.5" stroke="#111" stroke-width="0.9"/>
<line x1="178.28" y1="367.6" x2="178.28" y2="370.3" stroke="#111" stroke-width="1"/>
<text x="178.28" y="380.5" font-size="7.14" fill="#1a1a1a" text-anchor="middle" stroke="#1a1a1a" stroke-width="0.18">2.4</text>
<line x1="188.02" y1="367.6" x2="188.02" y2="369.5" stroke="#111" stroke-width="0.9"/>
<line x1="197.76" y1="367.6" x2="197.76" y2="370.3" stroke="#111" stroke-width="1"/>
<text x="197.76" y="380.5" font-size="7.14" fill="#1a1a1a" text-anchor="middle" stroke="#1a1a1a" stroke-width="0.18">2.8</text>
<line x1="207.5" y1="367.6" x2="207.5" y2="369.5" stroke="#111" stroke-width="0.9"/>
<line x1="217.24" y1="367.6" x2="217.24" y2="370.3" stroke="#111" stroke-width="1"/>
<text x="217.24" y="380.5" font-size="7.14" fill="#1a1a1a" text-anchor="middle" stroke="#1a1a1a" stroke-width="0.18">3.2</text>
<line x1="226.98" y1="367.6" x2="226.98" y2="369.5" stroke="#111" stroke-width="0.9"/>
<text x="108.8" y="393.6" font-size="8.6" fill="#1a1a1a" stroke="#1a1a1a" stroke-width="0.28" textLength="75.6" lengthAdjust="spacingAndGlyphs">Microsomal VKORC1 (μM)</text>
<text transform="translate(37.2 329.2) rotate(-90)" font-size="8.8" fill="#1a1a1a" stroke="#1a1a1a" stroke-width="0.28" textLength="39.5" lengthAdjust="spacingAndGlyphs">Warfarin IC50</text>
<text transform="translate(37.2 285.2) rotate(-90)" font-size="8.8" fill="#1a1a1a" stroke="#1a1a1a" stroke-width="0.28" textLength="15.4" lengthAdjust="spacingAndGlyphs">(μM)</text>
<text x="114.4" y="251.7" font-size="7.77" fill="#1a1a1a" textLength="36.1" lengthAdjust="spacingAndGlyphs" stroke="#1a1a1a" stroke-width="0.18">Slope ≈ 0.5</text>
<line x1="61.5" y1="366.2" x2="226.7" y2="230.5" stroke="#000" stroke-width="1.7"/>
<line x1="70.2" y1="362.2" x2="70.2" y2="365.2" stroke="#222" stroke-width="0.8"/>
<line x1="68.9" y1="362.2" x2="71.5" y2="362.2" stroke="#222" stroke-width="0.8"/>
<line x1="68.9" y1="365.2" x2="71.5" y2="365.2" stroke="#222" stroke-width="0.8"/>
<rect x="68.6" y="362" width="3.3" height="3.4" rx="0.35" fill="#b0102c"/>
<line x1="76.1" y1="355.7" x2="76.1" y2="358.7" stroke="#222" stroke-width="0.8"/>
<line x1="74.8" y1="355.7" x2="77.4" y2="355.7" stroke="#222" stroke-width="0.8"/>
<line x1="74.8" y1="358.7" x2="77.4" y2="358.7" stroke="#222" stroke-width="0.8"/>
<rect x="74.5" y="355.5" width="3.3" height="3.4" rx="0.35" fill="#b0102c"/>
<line x1="82.6" y1="347.1" x2="82.6" y2="350.7" stroke="#222" stroke-width="0.8"/>
<line x1="81.3" y1="347.1" x2="83.9" y2="347.1" stroke="#222" stroke-width="0.8"/>
<line x1="81.3" y1="350.7" x2="83.9" y2="350.7" stroke="#222" stroke-width="0.8"/>
<rect x="81" y="347.2" width="3.3" height="3.4" rx="0.35" fill="#b0102c"/>
<line x1="102.2" y1="329.3" x2="102.2" y2="333.3" stroke="#222" stroke-width="0.8"/>
<line x1="100.9" y1="329.3" x2="103.5" y2="329.3" stroke="#222" stroke-width="0.8"/>
<line x1="100.9" y1="333.3" x2="103.5" y2="333.3" stroke="#222" stroke-width="0.8"/>
<rect x="100.6" y="329.6" width="3.3" height="3.4" rx="0.35" fill="#b0102c"/>
<line x1="142.9" y1="291.7" x2="142.9" y2="295.7" stroke="#222" stroke-width="0.8"/>
<line x1="141.6" y1="291.7" x2="144.2" y2="291.7" stroke="#222" stroke-width="0.8"/>
<line x1="141.6" y1="295.7" x2="144.2" y2="295.7" stroke="#222" stroke-width="0.8"/>
<rect x="141.3" y="292" width="3.3" height="3.4" rx="0.35" fill="#b0102c"/>
<line x1="179" y1="259" x2="179" y2="262.6" stroke="#222" stroke-width="0.8"/>
<line x1="177.7" y1="259" x2="180.3" y2="259" stroke="#222" stroke-width="0.8"/>
<line x1="177.7" y1="262.6" x2="180.3" y2="262.6" stroke="#222" stroke-width="0.8"/>
<rect x="177.4" y="259.1" width="3.3" height="3.4" rx="0.35" fill="#b0102c"/>
<line x1="221.8" y1="235.7" x2="221.8" y2="251.7" stroke="#222" stroke-width="0.8"/>
<line x1="220.5" y1="235.7" x2="223.1" y2="235.7" stroke="#222" stroke-width="0.8"/>
<line x1="220.5" y1="251.7" x2="223.1" y2="251.7" stroke="#222" stroke-width="0.8"/>
<rect x="220.2" y="242" width="3.3" height="3.4" rx="0.35" fill="#b0102c"/>
<text x="19.2" y="362.4" font-size="8.19" fill="#b01a3a" textLength="21.6" lengthAdjust="spacingAndGlyphs" stroke="#b01a3a" stroke-width="0.18">20 nM</text>
<line x1="43.8" y1="359.7" x2="54.5" y2="362.3" stroke="#b01a3a" stroke-width="1"/>
<path d="M58 363.2 L53.6 360.3 L52.8 364 Z" fill="#b01a3a"/>
<text x="259.5" y="225.1" font-size="11.3" font-weight="bold" fill="#000" stroke="#000" stroke-width="0.45">D</text>
<line x1="314.2" y1="236.56" x2="366.12" y2="370.7" stroke="#a690c0" stroke-width="0.6" stroke-dasharray="0.8 1.2" opacity="0.85"/>
<line x1="314.2" y1="236.56" x2="353.24" y2="370.7" stroke="#7a8fb8" stroke-width="0.6" stroke-dasharray="0.8 1.2" opacity="0.85"/>
<line x1="314.2" y1="236.56" x2="340.36" y2="370.7" stroke="#92c674" stroke-width="0.6" stroke-dasharray="0.8 1.2" opacity="0.85"/>
<line x1="314.2" y1="236.56" x2="327.48" y2="370.7" stroke="#e468ac" stroke-width="0.6" stroke-dasharray="0.8 1.2" opacity="0.85"/>
<line x1="314.2" y1="236.56" x2="321.04" y2="370.7" stroke="#acd4f2" stroke-width="0.6" stroke-dasharray="0.8 1.2" opacity="0.85"/>
<line x1="314.2" y1="236.56" x2="317.82" y2="370.7" stroke="#dc7890" stroke-width="0.6" stroke-dasharray="0.8 1.2" opacity="0.85"/>
<line x1="314.2" y1="236.56" x2="316.21" y2="370.7" stroke="#f2bc70" stroke-width="0.6" stroke-dasharray="0.8 1.2" opacity="0.85"/>
<path d="M314.6 236.56 L314.63 247.54 L314.66 257.4 L314.7 266.2 L314.73 274.02 L314.76 280.93 L314.79 287.05 L314.83 292.45 L314.86 297.23 L314.89 301.46 L314.92 305.23 L314.95 308.58 L314.99 311.58 L315.02 314.27 L315.05 316.7 L315.08 318.89 L315.12 320.88 L315.15 322.68 L315.18 324.33 L315.21 325.85 L315.24 327.23 L315.28 328.51 L315.31 329.7 L315.34 330.79 L315.37 331.8 L315.41 332.75 L315.44 333.63 L315.47 334.45 L315.5 335.23 L315.53 335.95 L315.57 336.63 L315.6 337.27 L315.63 337.87 L315.66 338.44 L315.69 338.98 L315.73 339.49 L315.76 339.98 L315.79 340.44 L315.82 340.88 L315.86 341.29 L315.89 341.69 L315.92 342.07 L315.95 342.43 L315.98 342.77 L316.02 343.11 L316.05 343.42 L316.08 343.73 L316.11 344.02 L316.15 344.3 L316.18 344.57 L316.21 344.82 L316.24 345.07 L316.27 345.31 L316.31 345.54 L316.34 345.77 L316.37 345.98 L316.4 346.19 L316.44 346.39 L316.47 346.58 L316.5 346.77 L316.53 346.95 L316.56 347.13 L316.6 347.3 L316.63 347.46 L316.66 347.62 L316.69 347.78 L316.73 347.93 L316.76 348.07 L316.79 348.21 L316.82 348.35 L316.85 348.49 L316.89 348.62 L316.92 348.74 L316.95 348.87 L316.98 348.99 L317.02 349.1 L317.05 349.22 L317.08 349.33 L317.11 349.44 L317.14 349.54 L317.18 349.64 L317.21 349.74 L317.24 349.84 L317.27 349.94 L317.3 350.03 L317.34 350.12 L317.37 350.21 L317.4 350.3 L317.43 350.39 L317.47 350.47 L317.5 350.55 L317.53 350.63 L317.56 350.71 L317.59 350.78 L317.63 350.86 L317.66 350.93 L317.69 351 L317.72 351.07 L317.76 351.14 L317.79 351.21 L317.82 351.28 L317.98 351.59 L318.14 351.87 L318.3 352.13 L318.46 352.37 L318.62 352.59 L318.79 352.79 L318.95 352.98 L319.11 353.16 L319.27 353.32 L319.43 353.47 L319.59 353.61 L319.75 353.75 L319.91 353.87 L320.07 353.99 L320.24 354.1 L320.4 354.21 L320.56 354.31 L320.72 354.4 L320.88 354.49 L321.04 354.57 L321.2 354.65 L321.36 354.73 L321.52 354.8 L321.68 354.87 L321.85 354.94 L322.01 355.01 L322.17 355.07 L322.33 355.13 L322.49 355.18 L322.65 355.24 L322.81 355.29 L322.97 355.34 L323.13 355.39 L323.29 355.43 L323.46 355.48 L323.62 355.52 L323.78 355.56 L323.94 355.6 L324.1 355.64 L324.26 355.68 L324.42 355.72 L324.58 355.75 L324.74 355.79 L324.9 355.82 L325.06 355.85 L325.23 355.88 L325.39 355.91 L325.55 355.94 L325.71 355.97 L325.87 356 L326.03 356.02 L326.19 356.05 L326.35 356.07 L326.51 356.1 L326.68 356.12 L326.84 356.15 L327 356.17 L327.16 356.19 L327.32 356.21 L327.48 356.23 L327.64 356.25 L327.8 356.27 L327.96 356.29 L328.12 356.31 L328.29 356.33 L328.45 356.35 L328.61 356.37 L328.77 356.39 L328.93 356.4 L329.09 356.42 L329.25 356.44 L329.41 356.45 L329.57 356.47 L329.73 356.48 L329.9 356.5 L330.06 356.51 L330.22 356.53 L330.38 356.54 L330.54 356.55 L330.7 356.57 L330.86 356.58 L331.02 356.59 L331.18 356.61 L331.34 356.62 L331.5 356.63 L331.67 356.64 L331.83 356.65 L331.99 356.67 L332.15 356.68 L332.31 356.69 L332.47 356.7 L332.63 356.71 L332.79 356.72 L332.95 356.73 L333.12 356.74 L333.28 356.75 L333.44 356.76 L333.6 356.77 L333.76 356.78 L333.92 356.79 L334.08 356.8 L334.24 356.81 L334.4 356.82 L334.56 356.82 L334.73 356.83 L334.89 356.84 L335.05 356.85 L335.21 356.86 L335.37 356.87 L335.53 356.87 L335.69 356.88 L335.85 356.89 L336.01 356.9 L336.17 356.9 L336.34 356.91 L336.5 356.92 L336.66 356.93 L336.82 356.93 L336.98 356.94 L337.14 356.95 L337.3 356.95 L337.46 356.96 L337.62 356.97 L337.78 356.97 L337.95 356.98 L338.11 356.99 L338.27 356.99 L338.43 357 L338.59 357 L338.75 357.01 L338.91 357.02 L339.07 357.02 L339.23 357.03 L339.39 357.03 L339.56 357.04 L339.72 357.04 L339.88 357.05 L340.04 357.06 L340.2 357.06 L340.36 357.07 L340.52 357.07 L340.68 357.08 L340.84 357.08 L341 357.09 L341.17 357.09 L341.33 357.1 L341.49 357.1 L341.65 357.11 L341.81 357.11 L341.97 357.12 L342.13 357.12 L342.29 357.12 L342.45 357.13 L342.61 357.13 L342.78 357.14 L342.94 357.14 L343.1 357.15 L343.26 357.15 L343.42 357.15 L343.58 357.16 L343.74 357.16 L343.9 357.17 L344.06 357.17 L344.22 357.17 L344.39 357.18 L344.55 357.18 L344.71 357.19 L344.87 357.19 L345.03 357.19 L345.19 357.2 L345.35 357.2 L345.51 357.21 L345.67 357.21 L345.83 357.21 L346 357.22 L346.16 357.22 L346.32 357.22 L346.48 357.23 L346.64 357.23 L346.8 357.23 L346.96 357.24 L347.12 357.24 L347.28 357.24 L347.44 357.25 L347.61 357.25 L347.77 357.25 L347.93 357.26 L348.09 357.26 L348.25 357.26 L348.41 357.26 L348.57 357.27 L348.73 357.27 L348.89 357.27 L349.05 357.28 L349.22 357.28 L349.38 357.28 L349.54 357.29 L349.7 357.29 L349.86 357.29 L350.02 357.29 L350.18 357.3 L350.34 357.3 L350.5 357.3 L350.66 357.3 L350.83 357.31 L350.99 357.31 L351.15 357.31 L351.31 357.31 L351.47 357.32 L351.63 357.32 L351.79 357.32 L351.95 357.32 L352.11 357.33 L352.27 357.33 L352.44 357.33 L352.6 357.33 L352.76 357.34 L352.92 357.34 L353.08 357.34 L353.24 357.34 L353.4 357.35 L353.56 357.35 L353.72 357.35 L353.88 357.35 L354.05 357.36 L354.21 357.36 L354.37 357.36 L354.53 357.36 L354.69 357.36 L354.85 357.37 L355.01 357.37 L355.17 357.37 L355.33 357.37 L355.49 357.37 L355.66 357.38 L355.82 357.38 L355.98 357.38 L356.14 357.38 L356.3 357.38 L356.46 357.39 L356.62 357.39 L356.78 357.39 L356.94 357.39 L357.1 357.39 L357.27 357.4 L357.43 357.4 L357.59 357.4 L357.75 357.4 L357.91 357.4 L358.07 357.41 L358.23 357.41 L358.39 357.41 L358.55 357.41 L358.71 357.41 L358.88 357.41 L359.04 357.42 L359.2 357.42 L359.36 357.42 L359.52 357.42 L359.68 357.42 L359.84 357.43 L360 357.43 L360.16 357.43 L360.32 357.43 L360.49 357.43 L360.65 357.43 L360.81 357.44 L360.97 357.44 L361.13 357.44 L361.29 357.44 L361.45 357.44 L361.61 357.44 L361.77 357.44 L361.93 357.45 L362.1 357.45 L362.26 357.45 L362.42 357.45 L362.58 357.45 L362.74 357.45 L362.9 357.46 L363.06 357.46 L363.22 357.46 L363.38 357.46 L363.54 357.46 L363.71 357.46 L363.87 357.46 L364.03 357.47 L364.19 357.47 L364.35 357.47 L364.51 357.47 L364.67 357.47 L364.83 357.47 L364.99 357.47 L365.15 357.48 L365.32 357.48 L365.48 357.48 L365.64 357.48 L365.8 357.48 L365.96 357.48 L366.12 357.48 L366.28 357.48 L366.44 357.49 L366.6 357.49 L366.76 357.49 L366.93 357.49 L367.09 357.49 L367.25 357.49 L367.41 357.49 L367.57 357.49 L367.73 357.5 L367.89 357.5 L368.05 357.5 L368.21 357.5 L368.37 357.5 L368.54 357.5 L368.7 357.5 L368.86 357.5 L369.02 357.51 L369.18 357.51 L369.34 357.51 L369.5 357.51 L369.66 357.51 L369.82 357.51 L369.98 357.51 L370.15 357.51 L370.31 357.51 L370.47 357.52 L370.63 357.52 L370.79 357.52 L370.95 357.52 L371.11 357.52 L371.27 357.52 L371.43 357.52 L371.59 357.52 L371.76 357.52 L371.92 357.53 L372.08 357.53 L372.24 357.53 L372.4 357.53 L372.56 357.53 L372.72 357.53 L372.88 357.53 L373.04 357.53 L373.2 357.53 L373.37 357.53 L373.53 357.54 L373.69 357.54 L373.85 357.54 L374.01 357.54 L374.17 357.54 L374.33 357.54 L374.49 357.54 L374.65 357.54 L374.81 357.54 L374.98 357.54 L375.14 357.55 L375.3 357.55 L375.46 357.55 L375.62 357.55 L375.78 357.55 L375.94 357.55 L376.1 357.55 L376.26 357.55 L376.42 357.55 L376.59 357.55 L376.75 357.55 L376.91 357.56 L377.07 357.56 L377.23 357.56 L377.39 357.56 L377.55 357.56 L377.71 357.56 L377.87 357.56 L378.03 357.56 L378.2 357.56 L378.36 357.56 L378.52 357.56 L378.68 357.56 L378.84 357.57 L379 357.57 L380.61 357.57 L382.22 357.58 L383.83 357.59 L385.44 357.6 L387.05 357.6 L388.66 357.61 L390.27 357.62 L391.88 357.62 L393.49 357.63 L395.1 357.63 L396.71 357.64 L398.32 357.64 L399.93 357.65 L401.54 357.65 L403.15 357.66 L404.76 357.66 L406.37 357.67 L407.98 357.67 L409.59 357.67 L411.2 357.68 L412.81 357.68 L414.42 357.68 L416.03 357.69 L417.64 357.69 L419.25 357.69 L420.86 357.7 L422.47 357.7 L424.08 357.7 L425.69 357.71 L427.3 357.71 L428.91 357.71 L430.52 357.71 L432.13 357.72 L433.74 357.72 L435.35 357.72 L436.96 357.72 L438.57 357.73 L440.18 357.73 L441.79 357.73 L443.4 357.73 L445.01 357.74 L446.62 357.74 L448.23 357.74 L449.84 357.74 L451.45 357.74 L453.06 357.74 L454.67 357.75 L456.28 357.75 L457.89 357.75 L459.5 357.75 L461.11 357.75 L462.72 357.75 L464.33 357.76 L465.94 357.76 L467.55 357.76 L469.16 357.76 L470.77 357.76 L472.38 357.76 L473.99 357.77 L475.6 357.77" fill="none" stroke="#f6d0a0" stroke-width="1"/>
<path d="M314.6 236.56 L314.63 243.21 L314.66 249.34 L314.7 254.97 L314.73 260.14 L314.76 264.91 L314.79 269.3 L314.83 273.35 L314.86 277.08 L314.89 280.53 L314.92 283.73 L314.95 286.7 L314.99 289.45 L315.02 292.01 L315.05 294.39 L315.08 296.62 L315.12 298.7 L315.15 300.65 L315.18 302.47 L315.21 304.19 L315.24 305.8 L315.28 307.32 L315.31 308.75 L315.34 310.1 L315.37 311.38 L315.41 312.59 L315.44 313.74 L315.47 314.83 L315.5 315.87 L315.53 316.85 L315.57 317.79 L315.6 318.68 L315.63 319.53 L315.66 320.35 L315.69 321.13 L315.73 321.87 L315.76 322.59 L315.79 323.27 L315.82 323.93 L315.86 324.55 L315.89 325.16 L315.92 325.74 L315.95 326.3 L315.98 326.84 L316.02 327.36 L316.05 327.86 L316.08 328.34 L316.11 328.8 L316.15 329.25 L316.18 329.69 L316.21 330.11 L316.24 330.51 L316.27 330.91 L316.31 331.29 L316.34 331.66 L316.37 332.01 L316.4 332.36 L316.44 332.7 L316.47 333.02 L316.5 333.34 L316.53 333.65 L316.56 333.95 L316.6 334.24 L316.63 334.52 L316.66 334.79 L316.69 335.06 L316.73 335.32 L316.76 335.58 L316.79 335.82 L316.82 336.06 L316.85 336.3 L316.89 336.53 L316.92 336.75 L316.95 336.97 L316.98 337.18 L317.02 337.39 L317.05 337.59 L317.08 337.79 L317.11 337.98 L317.14 338.17 L317.18 338.35 L317.21 338.54 L317.24 338.71 L317.27 338.88 L317.3 339.05 L317.34 339.22 L317.37 339.38 L317.4 339.54 L317.43 339.7 L317.47 339.85 L317.5 340 L317.53 340.14 L317.56 340.29 L317.59 340.43 L317.63 340.56 L317.66 340.7 L317.69 340.83 L317.72 340.96 L317.76 341.09 L317.79 341.21 L317.82 341.34 L317.98 341.92 L318.14 342.45 L318.3 342.94 L318.46 343.39 L318.62 343.81 L318.79 344.2 L318.95 344.56 L319.11 344.89 L319.27 345.21 L319.43 345.5 L319.59 345.78 L319.75 346.04 L319.91 346.28 L320.07 346.51 L320.24 346.73 L320.4 346.94 L320.56 347.14 L320.72 347.32 L320.88 347.5 L321.04 347.67 L321.2 347.83 L321.36 347.98 L321.52 348.13 L321.68 348.27 L321.85 348.4 L322.01 348.53 L322.17 348.65 L322.33 348.77 L322.49 348.88 L322.65 348.99 L322.81 349.1 L322.97 349.2 L323.13 349.3 L323.29 349.39 L323.46 349.48 L323.62 349.57 L323.78 349.65 L323.94 349.73 L324.1 349.81 L324.26 349.89 L324.42 349.96 L324.58 350.03 L324.74 350.1 L324.9 350.17 L325.06 350.23 L325.23 350.3 L325.39 350.36 L325.55 350.42 L325.71 350.48 L325.87 350.53 L326.03 350.59 L326.19 350.64 L326.35 350.69 L326.51 350.74 L326.68 350.79 L326.84 350.84 L327 350.89 L327.16 350.93 L327.32 350.98 L327.48 351.02 L327.64 351.06 L327.8 351.1 L327.96 351.14 L328.12 351.18 L328.29 351.22 L328.45 351.26 L328.61 351.29 L328.77 351.33 L328.93 351.36 L329.09 351.4 L329.25 351.43 L329.41 351.47 L329.57 351.5 L329.73 351.53 L329.9 351.56 L330.06 351.59 L330.22 351.62 L330.38 351.65 L330.54 351.68 L330.7 351.7 L330.86 351.73 L331.02 351.76 L331.18 351.78 L331.34 351.81 L331.5 351.84 L331.67 351.86 L331.83 351.88 L331.99 351.91 L332.15 351.93 L332.31 351.95 L332.47 351.98 L332.63 352 L332.79 352.02 L332.95 352.04 L333.12 352.06 L333.28 352.08 L333.44 352.1 L333.6 352.12 L333.76 352.14 L333.92 352.16 L334.08 352.18 L334.24 352.2 L334.4 352.22 L334.56 352.24 L334.73 352.26 L334.89 352.27 L335.05 352.29 L335.21 352.31 L335.37 352.32 L335.53 352.34 L335.69 352.36 L335.85 352.37 L336.01 352.39 L336.17 352.4 L336.34 352.42 L336.5 352.44 L336.66 352.45 L336.82 352.46 L336.98 352.48 L337.14 352.49 L337.3 352.51 L337.46 352.52 L337.62 352.54 L337.78 352.55 L337.95 352.56 L338.11 352.58 L338.27 352.59 L338.43 352.6 L338.59 352.61 L338.75 352.63 L338.91 352.64 L339.07 352.65 L339.23 352.66 L339.39 352.67 L339.56 352.69 L339.72 352.7 L339.88 352.71 L340.04 352.72 L340.2 352.73 L340.36 352.74 L340.52 352.75 L340.68 352.76 L340.84 352.77 L341 352.78 L341.17 352.79 L341.33 352.8 L341.49 352.81 L341.65 352.82 L341.81 352.83 L341.97 352.84 L342.13 352.85 L342.29 352.86 L342.45 352.87 L342.61 352.88 L342.78 352.89 L342.94 352.9 L343.1 352.91 L343.26 352.92 L343.42 352.93 L343.58 352.93 L343.74 352.94 L343.9 352.95 L344.06 352.96 L344.22 352.97 L344.39 352.98 L344.55 352.98 L344.71 352.99 L344.87 353 L345.03 353.01 L345.19 353.02 L345.35 353.02 L345.51 353.03 L345.67 353.04 L345.83 353.05 L346 353.05 L346.16 353.06 L346.32 353.07 L346.48 353.08 L346.64 353.08 L346.8 353.09 L346.96 353.1 L347.12 353.1 L347.28 353.11 L347.44 353.12 L347.61 353.12 L347.77 353.13 L347.93 353.14 L348.09 353.14 L348.25 353.15 L348.41 353.16 L348.57 353.16 L348.73 353.17 L348.89 353.18 L349.05 353.18 L349.22 353.19 L349.38 353.19 L349.54 353.2 L349.7 353.21 L349.86 353.21 L350.02 353.22 L350.18 353.22 L350.34 353.23 L350.5 353.23 L350.66 353.24 L350.83 353.25 L350.99 353.25 L351.15 353.26 L351.31 353.26 L351.47 353.27 L351.63 353.27 L351.79 353.28 L351.95 353.28 L352.11 353.29 L352.27 353.29 L352.44 353.3 L352.6 353.3 L352.76 353.31 L352.92 353.31 L353.08 353.32 L353.24 353.32 L353.4 353.33 L353.56 353.33 L353.72 353.34 L353.88 353.34 L354.05 353.35 L354.21 353.35 L354.37 353.36 L354.53 353.36 L354.69 353.36 L354.85 353.37 L355.01 353.37 L355.17 353.38 L355.33 353.38 L355.49 353.39 L355.66 353.39 L355.82 353.4 L355.98 353.4 L356.14 353.4 L356.3 353.41 L356.46 353.41 L356.62 353.42 L356.78 353.42 L356.94 353.42 L357.1 353.43 L357.27 353.43 L357.43 353.44 L357.59 353.44 L357.75 353.44 L357.91 353.45 L358.07 353.45 L358.23 353.46 L358.39 353.46 L358.55 353.46 L358.71 353.47 L358.88 353.47 L359.04 353.47 L359.2 353.48 L359.36 353.48 L359.52 353.49 L359.68 353.49 L359.84 353.49 L360 353.5 L360.16 353.5 L360.32 353.5 L360.49 353.51 L360.65 353.51 L360.81 353.51 L360.97 353.52 L361.13 353.52 L361.29 353.52 L361.45 353.53 L361.61 353.53 L361.77 353.53 L361.93 353.54 L362.1 353.54 L362.26 353.54 L362.42 353.55 L362.58 353.55 L362.74 353.55 L362.9 353.56 L363.06 353.56 L363.22 353.56 L363.38 353.57 L363.54 353.57 L363.71 353.57 L363.87 353.57 L364.03 353.58 L364.19 353.58 L364.35 353.58 L364.51 353.59 L364.67 353.59 L364.83 353.59 L364.99 353.59 L365.15 353.6 L365.32 353.6 L365.48 353.6 L365.64 353.61 L365.8 353.61 L365.96 353.61 L366.12 353.61 L366.28 353.62 L366.44 353.62 L366.6 353.62 L366.76 353.63 L366.93 353.63 L367.09 353.63 L367.25 353.63 L367.41 353.64 L367.57 353.64 L367.73 353.64 L367.89 353.64 L368.05 353.65 L368.21 353.65 L368.37 353.65 L368.54 353.65 L368.7 353.66 L368.86 353.66 L369.02 353.66 L369.18 353.66 L369.34 353.67 L369.5 353.67 L369.66 353.67 L369.82 353.67 L369.98 353.68 L370.15 353.68 L370.31 353.68 L370.47 353.68 L370.63 353.69 L370.79 353.69 L370.95 353.69 L371.11 353.69 L371.27 353.69 L371.43 353.7 L371.59 353.7 L371.76 353.7 L371.92 353.7 L372.08 353.71 L372.24 353.71 L372.4 353.71 L372.56 353.71 L372.72 353.71 L372.88 353.72 L373.04 353.72 L373.2 353.72 L373.37 353.72 L373.53 353.72 L373.69 353.73 L373.85 353.73 L374.01 353.73 L374.17 353.73 L374.33 353.74 L374.49 353.74 L374.65 353.74 L374.81 353.74 L374.98 353.74 L375.14 353.75 L375.3 353.75 L375.46 353.75 L375.62 353.75 L375.78 353.75 L375.94 353.76 L376.1 353.76 L376.26 353.76 L376.42 353.76 L376.59 353.76 L376.75 353.76 L376.91 353.77 L377.07 353.77 L377.23 353.77 L377.39 353.77 L377.55 353.77 L377.71 353.78 L377.87 353.78 L378.03 353.78 L378.2 353.78 L378.36 353.78 L378.52 353.78 L378.68 353.79 L378.84 353.79 L379 353.79 L380.61 353.81 L382.22 353.82 L383.83 353.84 L385.44 353.85 L387.05 353.87 L388.66 353.88 L390.27 353.89 L391.88 353.91 L393.49 353.92 L395.1 353.93 L396.71 353.94 L398.32 353.95 L399.93 353.96 L401.54 353.97 L403.15 353.98 L404.76 353.99 L406.37 354 L407.98 354.01 L409.59 354.02 L411.2 354.02 L412.81 354.03 L414.42 354.04 L416.03 354.05 L417.64 354.05 L419.25 354.06 L420.86 354.07 L422.47 354.07 L424.08 354.08 L425.69 354.09 L427.3 354.09 L428.91 354.1 L430.52 354.1 L432.13 354.11 L433.74 354.11 L435.35 354.12 L436.96 354.12 L438.57 354.13 L440.18 354.13 L441.79 354.14 L443.4 354.14 L445.01 354.15 L446.62 354.15 L448.23 354.15 L449.84 354.16 L451.45 354.16 L453.06 354.17 L454.67 354.17 L456.28 354.17 L457.89 354.18 L459.5 354.18 L461.11 354.18 L462.72 354.19 L464.33 354.19 L465.94 354.19 L467.55 354.2 L469.16 354.2 L470.77 354.2 L472.38 354.21 L473.99 354.21 L475.6 354.21" fill="none" stroke="#e69aa8" stroke-width="1"/>
<path d="M314.6 236.56 L314.63 239.4 L314.66 242.13 L314.7 244.74 L314.73 247.24 L314.76 249.64 L314.79 251.95 L314.83 254.16 L314.86 256.29 L314.89 258.33 L314.92 260.3 L314.95 262.19 L314.99 264.02 L315.02 265.78 L315.05 267.47 L315.08 269.1 L315.12 270.68 L315.15 272.2 L315.18 273.67 L315.21 275.09 L315.24 276.46 L315.28 277.79 L315.31 279.08 L315.34 280.32 L315.37 281.53 L315.41 282.7 L315.44 283.83 L315.47 284.92 L315.5 285.99 L315.53 287.02 L315.57 288.03 L315.6 289 L315.63 289.95 L315.66 290.87 L315.69 291.76 L315.73 292.63 L315.76 293.48 L315.79 294.3 L315.82 295.1 L315.86 295.89 L315.89 296.65 L315.92 297.39 L315.95 298.11 L315.98 298.82 L316.02 299.5 L316.05 300.17 L316.08 300.83 L316.11 301.47 L316.15 302.09 L316.18 302.7 L316.21 303.3 L316.24 303.88 L316.27 304.44 L316.31 305 L316.34 305.54 L316.37 306.08 L316.4 306.59 L316.44 307.1 L316.47 307.6 L316.5 308.09 L316.53 308.57 L316.56 309.03 L316.6 309.49 L316.63 309.94 L316.66 310.38 L316.69 310.81 L316.73 311.23 L316.76 311.65 L316.79 312.05 L316.82 312.45 L316.85 312.84 L316.89 313.22 L316.92 313.6 L316.95 313.97 L316.98 314.33 L317.02 314.69 L317.05 315.04 L317.08 315.38 L317.11 315.72 L317.14 316.05 L317.18 316.37 L317.21 316.69 L317.24 317.01 L317.27 317.32 L317.3 317.62 L317.34 317.92 L317.37 318.21 L317.4 318.5 L317.43 318.78 L317.47 319.06 L317.5 319.34 L317.53 319.61 L317.56 319.88 L317.59 320.14 L317.63 320.4 L317.66 320.65 L317.69 320.9 L317.72 321.15 L317.76 321.39 L317.79 321.63 L317.82 321.86 L317.98 322.99 L318.14 324.04 L318.3 325.01 L318.46 325.93 L318.62 326.78 L318.79 327.59 L318.95 328.34 L319.11 329.06 L319.27 329.73 L319.43 330.36 L319.59 330.97 L319.75 331.54 L319.91 332.08 L320.07 332.59 L320.24 333.08 L320.4 333.55 L320.56 334 L320.72 334.42 L320.88 334.83 L321.04 335.22 L321.2 335.59 L321.36 335.95 L321.52 336.29 L321.68 336.62 L321.85 336.94 L322.01 337.24 L322.17 337.53 L322.33 337.82 L322.49 338.09 L322.65 338.35 L322.81 338.6 L322.97 338.85 L323.13 339.09 L323.29 339.31 L323.46 339.54 L323.62 339.75 L323.78 339.96 L323.94 340.16 L324.1 340.35 L324.26 340.54 L324.42 340.72 L324.58 340.9 L324.74 341.08 L324.9 341.24 L325.06 341.41 L325.23 341.57 L325.39 341.72 L325.55 341.87 L325.71 342.02 L325.87 342.16 L326.03 342.3 L326.19 342.43 L326.35 342.56 L326.51 342.69 L326.68 342.82 L326.84 342.94 L327 343.06 L327.16 343.17 L327.32 343.29 L327.48 343.4 L327.64 343.51 L327.8 343.61 L327.96 343.72 L328.12 343.82 L328.29 343.92 L328.45 344.02 L328.61 344.11 L328.77 344.2 L328.93 344.29 L329.09 344.38 L329.25 344.47 L329.41 344.56 L329.57 344.64 L329.73 344.72 L329.9 344.8 L330.06 344.88 L330.22 344.96 L330.38 345.03 L330.54 345.11 L330.7 345.18 L330.86 345.25 L331.02 345.32 L331.18 345.39 L331.34 345.46 L331.5 345.53 L331.67 345.59 L331.83 345.66 L331.99 345.72 L332.15 345.78 L332.31 345.84 L332.47 345.9 L332.63 345.96 L332.79 346.02 L332.95 346.08 L333.12 346.13 L333.28 346.19 L333.44 346.24 L333.6 346.29 L333.76 346.35 L333.92 346.4 L334.08 346.45 L334.24 346.5 L334.4 346.55 L334.56 346.6 L334.73 346.64 L334.89 346.69 L335.05 346.74 L335.21 346.78 L335.37 346.83 L335.53 346.87 L335.69 346.92 L335.85 346.96 L336.01 347 L336.17 347.04 L336.34 347.09 L336.5 347.13 L336.66 347.17 L336.82 347.21 L336.98 347.24 L337.14 347.28 L337.3 347.32 L337.46 347.36 L337.62 347.39 L337.78 347.43 L337.95 347.47 L338.11 347.5 L338.27 347.54 L338.43 347.57 L338.59 347.61 L338.75 347.64 L338.91 347.67 L339.07 347.71 L339.23 347.74 L339.39 347.77 L339.56 347.8 L339.72 347.83 L339.88 347.86 L340.04 347.89 L340.2 347.92 L340.36 347.95 L340.52 347.98 L340.68 348.01 L340.84 348.04 L341 348.07 L341.17 348.1 L341.33 348.12 L341.49 348.15 L341.65 348.18 L341.81 348.21 L341.97 348.23 L342.13 348.26 L342.29 348.28 L342.45 348.31 L342.61 348.33 L342.78 348.36 L342.94 348.38 L343.1 348.41 L343.26 348.43 L343.42 348.46 L343.58 348.48 L343.74 348.5 L343.9 348.53 L344.06 348.55 L344.22 348.57 L344.39 348.6 L344.55 348.62 L344.71 348.64 L344.87 348.66 L345.03 348.68 L345.19 348.7 L345.35 348.73 L345.51 348.75 L345.67 348.77 L345.83 348.79 L346 348.81 L346.16 348.83 L346.32 348.85 L346.48 348.87 L346.64 348.89 L346.8 348.91 L346.96 348.92 L347.12 348.94 L347.28 348.96 L347.44 348.98 L347.61 349 L347.77 349.02 L347.93 349.04 L348.09 349.05 L348.25 349.07 L348.41 349.09 L348.57 349.11 L348.73 349.12 L348.89 349.14 L349.05 349.16 L349.22 349.17 L349.38 349.19 L349.54 349.21 L349.7 349.22 L349.86 349.24 L350.02 349.26 L350.18 349.27 L350.34 349.29 L350.5 349.3 L350.66 349.32 L350.83 349.33 L350.99 349.35 L351.15 349.36 L351.31 349.38 L351.47 349.39 L351.63 349.41 L351.79 349.42 L351.95 349.44 L352.11 349.45 L352.27 349.47 L352.44 349.48 L352.6 349.49 L352.76 349.51 L352.92 349.52 L353.08 349.53 L353.24 349.55 L353.4 349.56 L353.56 349.57 L353.72 349.59 L353.88 349.6 L354.05 349.61 L354.21 349.63 L354.37 349.64 L354.53 349.65 L354.69 349.66 L354.85 349.68 L355.01 349.69 L355.17 349.7 L355.33 349.71 L355.49 349.73 L355.66 349.74 L355.82 349.75 L355.98 349.76 L356.14 349.77 L356.3 349.79 L356.46 349.8 L356.62 349.81 L356.78 349.82 L356.94 349.83 L357.1 349.84 L357.27 349.85 L357.43 349.86 L357.59 349.88 L357.75 349.89 L357.91 349.9 L358.07 349.91 L358.23 349.92 L358.39 349.93 L358.55 349.94 L358.71 349.95 L358.88 349.96 L359.04 349.97 L359.2 349.98 L359.36 349.99 L359.52 350 L359.68 350.01 L359.84 350.02 L360 350.03 L360.16 350.04 L360.32 350.05 L360.49 350.06 L360.65 350.07 L360.81 350.08 L360.97 350.09 L361.13 350.1 L361.29 350.11 L361.45 350.12 L361.61 350.13 L361.77 350.13 L361.93 350.14 L362.1 350.15 L362.26 350.16 L362.42 350.17 L362.58 350.18 L362.74 350.19 L362.9 350.2 L363.06 350.21 L363.22 350.21 L363.38 350.22 L363.54 350.23 L363.71 350.24 L363.87 350.25 L364.03 350.26 L364.19 350.26 L364.35 350.27 L364.51 350.28 L364.67 350.29 L364.83 350.3 L364.99 350.3 L365.15 350.31 L365.32 350.32 L365.48 350.33 L365.64 350.34 L365.8 350.34 L365.96 350.35 L366.12 350.36 L366.28 350.37 L366.44 350.37 L366.6 350.38 L366.76 350.39 L366.93 350.4 L367.09 350.4 L367.25 350.41 L367.41 350.42 L367.57 350.43 L367.73 350.43 L367.89 350.44 L368.05 350.45 L368.21 350.46 L368.37 350.46 L368.54 350.47 L368.7 350.48 L368.86 350.48 L369.02 350.49 L369.18 350.5 L369.34 350.5 L369.5 350.51 L369.66 350.52 L369.82 350.52 L369.98 350.53 L370.15 350.54 L370.31 350.54 L370.47 350.55 L370.63 350.56 L370.79 350.56 L370.95 350.57 L371.11 350.58 L371.27 350.58 L371.43 350.59 L371.59 350.6 L371.76 350.6 L371.92 350.61 L372.08 350.61 L372.24 350.62 L372.4 350.63 L372.56 350.63 L372.72 350.64 L372.88 350.64 L373.04 350.65 L373.2 350.66 L373.37 350.66 L373.53 350.67 L373.69 350.67 L373.85 350.68 L374.01 350.69 L374.17 350.69 L374.33 350.7 L374.49 350.7 L374.65 350.71 L374.81 350.71 L374.98 350.72 L375.14 350.73 L375.3 350.73 L375.46 350.74 L375.62 350.74 L375.78 350.75 L375.94 350.75 L376.1 350.76 L376.26 350.76 L376.42 350.77 L376.59 350.77 L376.75 350.78 L376.91 350.79 L377.07 350.79 L377.23 350.8 L377.39 350.8 L377.55 350.81 L377.71 350.81 L377.87 350.82 L378.03 350.82 L378.2 350.83 L378.36 350.83 L378.52 350.84 L378.68 350.84 L378.84 350.85 L379 350.85 L380.61 350.9 L382.22 350.95 L383.83 350.99 L385.44 351.03 L387.05 351.07 L388.66 351.11 L390.27 351.15 L391.88 351.18 L393.49 351.22 L395.1 351.25 L396.71 351.28 L398.32 351.31 L399.93 351.34 L401.54 351.37 L403.15 351.39 L404.76 351.42 L406.37 351.44 L407.98 351.47 L409.59 351.49 L411.2 351.51 L412.81 351.54 L414.42 351.56 L416.03 351.58 L417.64 351.6 L419.25 351.62 L420.86 351.63 L422.47 351.65 L424.08 351.67 L425.69 351.69 L427.3 351.7 L428.91 351.72 L430.52 351.74 L432.13 351.75 L433.74 351.77 L435.35 351.78 L436.96 351.79 L438.57 351.81 L440.18 351.82 L441.79 351.83 L443.4 351.85 L445.01 351.86 L446.62 351.87 L448.23 351.88 L449.84 351.89 L451.45 351.91 L453.06 351.92 L454.67 351.93 L456.28 351.94 L457.89 351.95 L459.5 351.96 L461.11 351.97 L462.72 351.98 L464.33 351.99 L465.94 352 L467.55 352.01 L469.16 352.01 L470.77 352.02 L472.38 352.03 L473.99 352.04 L475.6 352.05" fill="none" stroke="#bfe0f8" stroke-width="1"/>
<path d="M314.6 236.56 L314.63 236.91 L314.66 237.26 L314.7 237.62 L314.73 237.97 L314.76 238.32 L314.79 238.68 L314.83 239.03 L314.86 239.38 L314.89 239.73 L314.92 240.09 L314.95 240.44 L314.99 240.79 L315.02 241.14 L315.05 241.49 L315.08 241.85 L315.12 242.2 L315.15 242.55 L315.18 242.9 L315.21 243.25 L315.24 243.6 L315.28 243.95 L315.31 244.31 L315.34 244.66 L315.37 245.01 L315.41 245.36 L315.44 245.71 L315.47 246.06 L315.5 246.41 L315.53 246.76 L315.57 247.11 L315.6 247.46 L315.63 247.81 L315.66 248.16 L315.69 248.51 L315.73 248.86 L315.76 249.21 L315.79 249.55 L315.82 249.9 L315.86 250.25 L315.89 250.6 L315.92 250.95 L315.95 251.3 L315.98 251.64 L316.02 251.99 L316.05 252.34 L316.08 252.69 L316.11 253.04 L316.15 253.38 L316.18 253.73 L316.21 254.08 L316.24 254.42 L316.27 254.77 L316.31 255.12 L316.34 255.46 L316.37 255.81 L316.4 256.15 L316.44 256.5 L316.47 256.85 L316.5 257.19 L316.53 257.54 L316.56 257.88 L316.6 258.23 L316.63 258.57 L316.66 258.91 L316.69 259.26 L316.73 259.6 L316.76 259.95 L316.79 260.29 L316.82 260.63 L316.85 260.98 L316.89 261.32 L316.92 261.66 L316.95 262 L316.98 262.35 L317.02 262.69 L317.05 263.03 L317.08 263.37 L317.11 263.71 L317.14 264.05 L317.18 264.4 L317.21 264.74 L317.24 265.08 L317.27 265.42 L317.3 265.76 L317.34 266.1 L317.37 266.44 L317.4 266.78 L317.43 267.12 L317.47 267.45 L317.5 267.79 L317.53 268.13 L317.56 268.47 L317.59 268.81 L317.63 269.15 L317.66 269.48 L317.69 269.82 L317.72 270.16 L317.76 270.49 L317.79 270.83 L317.82 271.17 L317.98 272.84 L318.14 274.51 L318.3 276.17 L318.46 277.82 L318.62 279.47 L318.79 281.1 L318.95 282.72 L319.11 284.34 L319.27 285.94 L319.43 287.54 L319.59 289.12 L319.75 290.68 L319.91 292.24 L320.07 293.78 L320.24 295.3 L320.4 296.81 L320.56 298.3 L320.72 299.77 L320.88 301.23 L321.04 302.66 L321.2 304.08 L321.36 305.47 L321.52 306.84 L321.68 308.18 L321.85 309.5 L322.01 310.8 L322.17 312.06 L322.33 313.3 L322.49 314.51 L322.65 315.69 L322.81 316.83 L322.97 317.95 L323.13 319.03 L323.29 320.08 L323.46 321.09 L323.62 322.07 L323.78 323.02 L323.94 323.93 L324.1 324.8 L324.26 325.64 L324.42 326.45 L324.58 327.23 L324.74 327.97 L324.9 328.68 L325.06 329.36 L325.23 330 L325.39 330.62 L325.55 331.21 L325.71 331.77 L325.87 332.31 L326.03 332.82 L326.19 333.31 L326.35 333.77 L326.51 334.21 L326.68 334.64 L326.84 335.04 L327 335.42 L327.16 335.78 L327.32 336.13 L327.48 336.46 L327.64 336.78 L327.8 337.08 L327.96 337.37 L328.12 337.65 L328.29 337.91 L328.45 338.16 L328.61 338.4 L328.77 338.64 L328.93 338.86 L329.09 339.07 L329.25 339.27 L329.41 339.47 L329.57 339.66 L329.73 339.84 L329.9 340.01 L330.06 340.18 L330.22 340.34 L330.38 340.49 L330.54 340.64 L330.7 340.78 L330.86 340.92 L331.02 341.06 L331.18 341.18 L331.34 341.31 L331.5 341.43 L331.67 341.54 L331.83 341.66 L331.99 341.77 L332.15 341.87 L332.31 341.97 L332.47 342.07 L332.63 342.17 L332.79 342.26 L332.95 342.35 L333.12 342.44 L333.28 342.52 L333.44 342.6 L333.6 342.68 L333.76 342.76 L333.92 342.83 L334.08 342.91 L334.24 342.98 L334.4 343.05 L334.56 343.12 L334.73 343.18 L334.89 343.24 L335.05 343.31 L335.21 343.37 L335.37 343.43 L335.53 343.48 L335.69 343.54 L335.85 343.6 L336.01 343.65 L336.17 343.7 L336.34 343.75 L336.5 343.8 L336.66 343.85 L336.82 343.9 L336.98 343.95 L337.14 343.99 L337.3 344.04 L337.46 344.08 L337.62 344.12 L337.78 344.16 L337.95 344.2 L338.11 344.24 L338.27 344.28 L338.43 344.32 L338.59 344.36 L338.75 344.4 L338.91 344.43 L339.07 344.47 L339.23 344.5 L339.39 344.54 L339.56 344.57 L339.72 344.6 L339.88 344.63 L340.04 344.66 L340.2 344.7 L340.36 344.73 L340.52 344.76 L340.68 344.78 L340.84 344.81 L341 344.84 L341.17 344.87 L341.33 344.9 L341.49 344.92 L341.65 344.95 L341.81 344.97 L341.97 345 L342.13 345.02 L342.29 345.05 L342.45 345.07 L342.61 345.1 L342.78 345.12 L342.94 345.14 L343.1 345.17 L343.26 345.19 L343.42 345.21 L343.58 345.23 L343.74 345.25 L343.9 345.27 L344.06 345.29 L344.22 345.31 L344.39 345.33 L344.55 345.35 L344.71 345.37 L344.87 345.39 L345.03 345.41 L345.19 345.43 L345.35 345.45 L345.51 345.47 L345.67 345.48 L345.83 345.5 L346 345.52 L346.16 345.53 L346.32 345.55 L346.48 345.57 L346.64 345.58 L346.8 345.6 L346.96 345.62 L347.12 345.63 L347.28 345.65 L347.44 345.66 L347.61 345.68 L347.77 345.69 L347.93 345.71 L348.09 345.72 L348.25 345.73 L348.41 345.75 L348.57 345.76 L348.73 345.78 L348.89 345.79 L349.05 345.8 L349.22 345.82 L349.38 345.83 L349.54 345.84 L349.7 345.86 L349.86 345.87 L350.02 345.88 L350.18 345.89 L350.34 345.9 L350.5 345.92 L350.66 345.93 L350.83 345.94 L350.99 345.95 L351.15 345.96 L351.31 345.97 L351.47 345.99 L351.63 346 L351.79 346.01 L351.95 346.02 L352.11 346.03 L352.27 346.04 L352.44 346.05 L352.6 346.06 L352.76 346.07 L352.92 346.08 L353.08 346.09 L353.24 346.1 L353.4 346.11 L353.56 346.12 L353.72 346.13 L353.88 346.14 L354.05 346.15 L354.21 346.16 L354.37 346.17 L354.53 346.18 L354.69 346.18 L354.85 346.19 L355.01 346.2 L355.17 346.21 L355.33 346.22 L355.49 346.23 L355.66 346.24 L355.82 346.24 L355.98 346.25 L356.14 346.26 L356.3 346.27 L356.46 346.28 L356.62 346.29 L356.78 346.29 L356.94 346.3 L357.1 346.31 L357.27 346.32 L357.43 346.32 L357.59 346.33 L357.75 346.34 L357.91 346.35 L358.07 346.35 L358.23 346.36 L358.39 346.37 L358.55 346.38 L358.71 346.38 L358.88 346.39 L359.04 346.4 L359.2 346.4 L359.36 346.41 L359.52 346.42 L359.68 346.42 L359.84 346.43 L360 346.44 L360.16 346.44 L360.32 346.45 L360.49 346.46 L360.65 346.46 L360.81 346.47 L360.97 346.47 L361.13 346.48 L361.29 346.49 L361.45 346.49 L361.61 346.5 L361.77 346.5 L361.93 346.51 L362.1 346.52 L362.26 346.52 L362.42 346.53 L362.58 346.53 L362.74 346.54 L362.9 346.55 L363.06 346.55 L363.22 346.56 L363.38 346.56 L363.54 346.57 L363.71 346.57 L363.87 346.58 L364.03 346.58 L364.19 346.59 L364.35 346.59 L364.51 346.6 L364.67 346.6 L364.83 346.61 L364.99 346.61 L365.15 346.62 L365.32 346.62 L365.48 346.63 L365.64 346.63 L365.8 346.64 L365.96 346.64 L366.12 346.65 L366.28 346.65 L366.44 346.66 L366.6 346.66 L366.76 346.67 L366.93 346.67 L367.09 346.68 L367.25 346.68 L367.41 346.69 L367.57 346.69 L367.73 346.7 L367.89 346.7 L368.05 346.7 L368.21 346.71 L368.37 346.71 L368.54 346.72 L368.7 346.72 L368.86 346.73 L369.02 346.73 L369.18 346.73 L369.34 346.74 L369.5 346.74 L369.66 346.75 L369.82 346.75 L369.98 346.75 L370.15 346.76 L370.31 346.76 L370.47 346.77 L370.63 346.77 L370.79 346.77 L370.95 346.78 L371.11 346.78 L371.27 346.79 L371.43 346.79 L371.59 346.79 L371.76 346.8 L371.92 346.8 L372.08 346.8 L372.24 346.81 L372.4 346.81 L372.56 346.82 L372.72 346.82 L372.88 346.82 L373.04 346.83 L373.2 346.83 L373.37 346.83 L373.53 346.84 L373.69 346.84 L373.85 346.84 L374.01 346.85 L374.17 346.85 L374.33 346.85 L374.49 346.86 L374.65 346.86 L374.81 346.86 L374.98 346.87 L375.14 346.87 L375.3 346.87 L375.46 346.88 L375.62 346.88 L375.78 346.88 L375.94 346.89 L376.1 346.89 L376.26 346.89 L376.42 346.9 L376.59 346.9 L376.75 346.9 L376.91 346.91 L377.07 346.91 L377.23 346.91 L377.39 346.91 L377.55 346.92 L377.71 346.92 L377.87 346.92 L378.03 346.93 L378.2 346.93 L378.36 346.93 L378.52 346.93 L378.68 346.94 L378.84 346.94 L379 346.94 L380.61 346.97 L382.22 347 L383.83 347.02 L385.44 347.04 L387.05 347.07 L388.66 347.09 L390.27 347.11 L391.88 347.13 L393.49 347.15 L395.1 347.16 L396.71 347.18 L398.32 347.2 L399.93 347.21 L401.54 347.22 L403.15 347.24 L404.76 347.25 L406.37 347.27 L407.98 347.28 L409.59 347.29 L411.2 347.3 L412.81 347.31 L414.42 347.32 L416.03 347.33 L417.64 347.34 L419.25 347.35 L420.86 347.36 L422.47 347.37 L424.08 347.38 L425.69 347.39 L427.3 347.4 L428.91 347.4 L430.52 347.41 L432.13 347.42 L433.74 347.43 L435.35 347.43 L436.96 347.44 L438.57 347.45 L440.18 347.45 L441.79 347.46 L443.4 347.47 L445.01 347.47 L446.62 347.48 L448.23 347.48 L449.84 347.49 L451.45 347.49 L453.06 347.5 L454.67 347.51 L456.28 347.51 L457.89 347.52 L459.5 347.52 L461.11 347.52 L462.72 347.53 L464.33 347.53 L465.94 347.54 L467.55 347.54 L469.16 347.55 L470.77 347.55 L472.38 347.55 L473.99 347.56 L475.6 347.56" fill="none" stroke="#ec86bf" stroke-width="1"/>
<path d="M314.6 236.56 L314.63 236.73 L314.66 236.91 L314.7 237.09 L314.73 237.26 L314.76 237.44 L314.79 237.61 L314.83 237.79 L314.86 237.97 L314.89 238.14 L314.92 238.32 L314.95 238.5 L314.99 238.67 L315.02 238.85 L315.05 239.02 L315.08 239.2 L315.12 239.38 L315.15 239.55 L315.18 239.73 L315.21 239.9 L315.24 240.08 L315.28 240.26 L315.31 240.43 L315.34 240.61 L315.37 240.78 L315.41 240.96 L315.44 241.14 L315.47 241.31 L315.5 241.49 L315.53 241.66 L315.57 241.84 L315.6 242.01 L315.63 242.19 L315.66 242.37 L315.69 242.54 L315.73 242.72 L315.76 242.89 L315.79 243.07 L315.82 243.24 L315.86 243.42 L315.89 243.59 L315.92 243.77 L315.95 243.94 L315.98 244.12 L316.02 244.29 L316.05 244.47 L316.08 244.65 L316.11 244.82 L316.15 245 L316.18 245.17 L316.21 245.35 L316.24 245.52 L316.27 245.7 L316.31 245.87 L316.34 246.04 L316.37 246.22 L316.4 246.39 L316.44 246.57 L316.47 246.74 L316.5 246.92 L316.53 247.09 L316.56 247.27 L316.6 247.44 L316.63 247.62 L316.66 247.79 L316.69 247.97 L316.73 248.14 L316.76 248.31 L316.79 248.49 L316.82 248.66 L316.85 248.84 L316.89 249.01 L316.92 249.19 L316.95 249.36 L316.98 249.53 L317.02 249.71 L317.05 249.88 L317.08 250.06 L317.11 250.23 L317.14 250.4 L317.18 250.58 L317.21 250.75 L317.24 250.93 L317.27 251.1 L317.3 251.27 L317.34 251.45 L317.37 251.62 L317.4 251.79 L317.43 251.97 L317.47 252.14 L317.5 252.32 L317.53 252.49 L317.56 252.66 L317.59 252.84 L317.63 253.01 L317.66 253.18 L317.69 253.36 L317.72 253.53 L317.76 253.7 L317.79 253.87 L317.82 254.05 L317.98 254.91 L318.14 255.78 L318.3 256.64 L318.46 257.5 L318.62 258.36 L318.79 259.22 L318.95 260.08 L319.11 260.93 L319.27 261.79 L319.43 262.64 L319.59 263.49 L319.75 264.34 L319.91 265.19 L320.07 266.04 L320.24 266.89 L320.4 267.73 L320.56 268.57 L320.72 269.42 L320.88 270.26 L321.04 271.09 L321.2 271.93 L321.36 272.76 L321.52 273.6 L321.68 274.43 L321.85 275.26 L322.01 276.08 L322.17 276.91 L322.33 277.73 L322.49 278.55 L322.65 279.37 L322.81 280.18 L322.97 280.99 L323.13 281.8 L323.29 282.61 L323.46 283.42 L323.62 284.22 L323.78 285.02 L323.94 285.82 L324.1 286.61 L324.26 287.4 L324.42 288.19 L324.58 288.98 L324.74 289.76 L324.9 290.54 L325.06 291.31 L325.23 292.08 L325.39 292.85 L325.55 293.61 L325.71 294.37 L325.87 295.13 L326.03 295.88 L326.19 296.63 L326.35 297.38 L326.51 298.11 L326.68 298.85 L326.84 299.58 L327 300.31 L327.16 301.03 L327.32 301.74 L327.48 302.45 L327.64 303.16 L327.8 303.86 L327.96 304.56 L328.12 305.25 L328.29 305.93 L328.45 306.61 L328.61 307.28 L328.77 307.95 L328.93 308.6 L329.09 309.26 L329.25 309.9 L329.41 310.54 L329.57 311.18 L329.73 311.8 L329.9 312.42 L330.06 313.04 L330.22 313.64 L330.38 314.24 L330.54 314.83 L330.7 315.41 L330.86 315.99 L331.02 316.55 L331.18 317.11 L331.34 317.67 L331.5 318.21 L331.67 318.74 L331.83 319.27 L331.99 319.79 L332.15 320.3 L332.31 320.8 L332.47 321.3 L332.63 321.78 L332.79 322.26 L332.95 322.73 L333.12 323.19 L333.28 323.64 L333.44 324.08 L333.6 324.52 L333.76 324.95 L333.92 325.36 L334.08 325.77 L334.24 326.18 L334.4 326.57 L334.56 326.95 L334.73 327.33 L334.89 327.7 L335.05 328.06 L335.21 328.42 L335.37 328.76 L335.53 329.1 L335.69 329.43 L335.85 329.76 L336.01 330.07 L336.17 330.38 L336.34 330.68 L336.5 330.98 L336.66 331.27 L336.82 331.55 L336.98 331.83 L337.14 332.1 L337.3 332.36 L337.46 332.62 L337.62 332.87 L337.78 333.11 L337.95 333.35 L338.11 333.59 L338.27 333.81 L338.43 334.04 L338.59 334.25 L338.75 334.47 L338.91 334.67 L339.07 334.88 L339.23 335.08 L339.39 335.27 L339.56 335.46 L339.72 335.64 L339.88 335.82 L340.04 336 L340.2 336.17 L340.36 336.34 L340.52 336.51 L340.68 336.67 L340.84 336.83 L341 336.98 L341.17 337.13 L341.33 337.28 L341.49 337.42 L341.65 337.56 L341.81 337.7 L341.97 337.83 L342.13 337.97 L342.29 338.1 L342.45 338.22 L342.61 338.35 L342.78 338.47 L342.94 338.58 L343.1 338.7 L343.26 338.81 L343.42 338.93 L343.58 339.03 L343.74 339.14 L343.9 339.25 L344.06 339.35 L344.22 339.45 L344.39 339.55 L344.55 339.64 L344.71 339.74 L344.87 339.83 L345.03 339.92 L345.19 340.01 L345.35 340.1 L345.51 340.18 L345.67 340.27 L345.83 340.35 L346 340.43 L346.16 340.51 L346.32 340.59 L346.48 340.67 L346.64 340.74 L346.8 340.82 L346.96 340.89 L347.12 340.96 L347.28 341.03 L347.44 341.1 L347.61 341.17 L347.77 341.23 L347.93 341.3 L348.09 341.36 L348.25 341.43 L348.41 341.49 L348.57 341.55 L348.73 341.61 L348.89 341.67 L349.05 341.73 L349.22 341.78 L349.38 341.84 L349.54 341.89 L349.7 341.95 L349.86 342 L350.02 342.05 L350.18 342.11 L350.34 342.16 L350.5 342.21 L350.66 342.26 L350.83 342.31 L350.99 342.35 L351.15 342.4 L351.31 342.45 L351.47 342.49 L351.63 342.54 L351.79 342.58 L351.95 342.63 L352.11 342.67 L352.27 342.71 L352.44 342.76 L352.6 342.8 L352.76 342.84 L352.92 342.88 L353.08 342.92 L353.24 342.96 L353.4 343 L353.56 343.03 L353.72 343.07 L353.88 343.11 L354.05 343.14 L354.21 343.18 L354.37 343.22 L354.53 343.25 L354.69 343.29 L354.85 343.32 L355.01 343.35 L355.17 343.39 L355.33 343.42 L355.49 343.45 L355.66 343.48 L355.82 343.52 L355.98 343.55 L356.14 343.58 L356.3 343.61 L356.46 343.64 L356.62 343.67 L356.78 343.7 L356.94 343.73 L357.1 343.76 L357.27 343.78 L357.43 343.81 L357.59 343.84 L357.75 343.87 L357.91 343.89 L358.07 343.92 L358.23 343.95 L358.39 343.97 L358.55 344 L358.71 344.02 L358.88 344.05 L359.04 344.07 L359.2 344.1 L359.36 344.12 L359.52 344.15 L359.68 344.17 L359.84 344.19 L360 344.22 L360.16 344.24 L360.32 344.26 L360.49 344.28 L360.65 344.31 L360.81 344.33 L360.97 344.35 L361.13 344.37 L361.29 344.39 L361.45 344.41 L361.61 344.44 L361.77 344.46 L361.93 344.48 L362.1 344.5 L362.26 344.52 L362.42 344.54 L362.58 344.56 L362.74 344.58 L362.9 344.59 L363.06 344.61 L363.22 344.63 L363.38 344.65 L363.54 344.67 L363.71 344.69 L363.87 344.71 L364.03 344.72 L364.19 344.74 L364.35 344.76 L364.51 344.78 L364.67 344.79 L364.83 344.81 L364.99 344.83 L365.15 344.84 L365.32 344.86 L365.48 344.88 L365.64 344.89 L365.8 344.91 L365.96 344.93 L366.12 344.94 L366.28 344.96 L366.44 344.97 L366.6 344.99 L366.76 345 L366.93 345.02 L367.09 345.03 L367.25 345.05 L367.41 345.06 L367.57 345.08 L367.73 345.09 L367.89 345.11 L368.05 345.12 L368.21 345.13 L368.37 345.15 L368.54 345.16 L368.7 345.18 L368.86 345.19 L369.02 345.2 L369.18 345.22 L369.34 345.23 L369.5 345.24 L369.66 345.26 L369.82 345.27 L369.98 345.28 L370.15 345.29 L370.31 345.31 L370.47 345.32 L370.63 345.33 L370.79 345.34 L370.95 345.36 L371.11 345.37 L371.27 345.38 L371.43 345.39 L371.59 345.4 L371.76 345.42 L371.92 345.43 L372.08 345.44 L372.24 345.45 L372.4 345.46 L372.56 345.47 L372.72 345.48 L372.88 345.5 L373.04 345.51 L373.2 345.52 L373.37 345.53 L373.53 345.54 L373.69 345.55 L373.85 345.56 L374.01 345.57 L374.17 345.58 L374.33 345.59 L374.49 345.6 L374.65 345.61 L374.81 345.62 L374.98 345.63 L375.14 345.64 L375.3 345.65 L375.46 345.66 L375.62 345.67 L375.78 345.68 L375.94 345.69 L376.1 345.7 L376.26 345.71 L376.42 345.72 L376.59 345.73 L376.75 345.74 L376.91 345.75 L377.07 345.76 L377.23 345.77 L377.39 345.77 L377.55 345.78 L377.71 345.79 L377.87 345.8 L378.03 345.81 L378.2 345.82 L378.36 345.83 L378.52 345.84 L378.68 345.84 L378.84 345.85 L379 345.86 L380.61 345.94 L382.22 346.02 L383.83 346.09 L385.44 346.16 L387.05 346.22 L388.66 346.28 L390.27 346.33 L391.88 346.39 L393.49 346.44 L395.1 346.49 L396.71 346.53 L398.32 346.57 L399.93 346.62 L401.54 346.65 L403.15 346.69 L404.76 346.73 L406.37 346.76 L407.98 346.79 L409.59 346.83 L411.2 346.86 L412.81 346.89 L414.42 346.91 L416.03 346.94 L417.64 346.97 L419.25 346.99 L420.86 347.01 L422.47 347.04 L424.08 347.06 L425.69 347.08 L427.3 347.1 L428.91 347.12 L430.52 347.14 L432.13 347.16 L433.74 347.18 L435.35 347.2 L436.96 347.21 L438.57 347.23 L440.18 347.24 L441.79 347.26 L443.4 347.28 L445.01 347.29 L446.62 347.3 L448.23 347.32 L449.84 347.33 L451.45 347.34 L453.06 347.36 L454.67 347.37 L456.28 347.38 L457.89 347.39 L459.5 347.41 L461.11 347.42 L462.72 347.43 L464.33 347.44 L465.94 347.45 L467.55 347.46 L469.16 347.47 L470.77 347.48 L472.38 347.49 L473.99 347.5 L475.6 347.51" fill="none" stroke="#9fd08a" stroke-width="1"/>
<path d="M314.6 236.56 L314.63 236.67 L314.66 236.79 L314.7 236.91 L314.73 237.02 L314.76 237.14 L314.79 237.26 L314.83 237.38 L314.86 237.49 L314.89 237.61 L314.92 237.73 L314.95 237.84 L314.99 237.96 L315.02 238.08 L315.05 238.2 L315.08 238.31 L315.12 238.43 L315.15 238.55 L315.18 238.66 L315.21 238.78 L315.24 238.9 L315.28 239.01 L315.31 239.13 L315.34 239.25 L315.37 239.37 L315.41 239.48 L315.44 239.6 L315.47 239.72 L315.5 239.83 L315.53 239.95 L315.57 240.07 L315.6 240.18 L315.63 240.3 L315.66 240.42 L315.69 240.54 L315.73 240.65 L315.76 240.77 L315.79 240.89 L315.82 241 L315.86 241.12 L315.89 241.24 L315.92 241.35 L315.95 241.47 L315.98 241.59 L316.02 241.7 L316.05 241.82 L316.08 241.94 L316.11 242.06 L316.15 242.17 L316.18 242.29 L316.21 242.41 L316.24 242.52 L316.27 242.64 L316.31 242.76 L316.34 242.87 L316.37 242.99 L316.4 243.11 L316.44 243.22 L316.47 243.34 L316.5 243.46 L316.53 243.57 L316.56 243.69 L316.6 243.81 L316.63 243.92 L316.66 244.04 L316.69 244.16 L316.73 244.28 L316.76 244.39 L316.79 244.51 L316.82 244.63 L316.85 244.74 L316.89 244.86 L316.92 244.98 L316.95 245.09 L316.98 245.21 L317.02 245.33 L317.05 245.44 L317.08 245.56 L317.11 245.68 L317.14 245.79 L317.18 245.91 L317.21 246.03 L317.24 246.14 L317.27 246.26 L317.3 246.38 L317.34 246.49 L317.37 246.61 L317.4 246.73 L317.43 246.84 L317.47 246.96 L317.5 247.08 L317.53 247.19 L317.56 247.31 L317.59 247.42 L317.63 247.54 L317.66 247.66 L317.69 247.77 L317.72 247.89 L317.76 248.01 L317.79 248.12 L317.82 248.24 L317.98 248.82 L318.14 249.41 L318.3 249.99 L318.46 250.57 L318.62 251.15 L318.79 251.73 L318.95 252.31 L319.11 252.9 L319.27 253.48 L319.43 254.06 L319.59 254.64 L319.75 255.22 L319.91 255.8 L320.07 256.38 L320.24 256.96 L320.4 257.54 L320.56 258.11 L320.72 258.69 L320.88 259.27 L321.04 259.85 L321.2 260.43 L321.36 261.01 L321.52 261.58 L321.68 262.16 L321.85 262.74 L322.01 263.31 L322.17 263.89 L322.33 264.47 L322.49 265.04 L322.65 265.62 L322.81 266.19 L322.97 266.77 L323.13 267.34 L323.29 267.92 L323.46 268.49 L323.62 269.06 L323.78 269.64 L323.94 270.21 L324.1 270.78 L324.26 271.35 L324.42 271.92 L324.58 272.49 L324.74 273.07 L324.9 273.64 L325.06 274.21 L325.23 274.77 L325.39 275.34 L325.55 275.91 L325.71 276.48 L325.87 277.05 L326.03 277.61 L326.19 278.18 L326.35 278.75 L326.51 279.31 L326.68 279.88 L326.84 280.44 L327 281 L327.16 281.57 L327.32 282.13 L327.48 282.69 L327.64 283.25 L327.8 283.81 L327.96 284.37 L328.12 284.93 L328.29 285.49 L328.45 286.05 L328.61 286.61 L328.77 287.16 L328.93 287.72 L329.09 288.27 L329.25 288.83 L329.41 289.38 L329.57 289.93 L329.73 290.49 L329.9 291.04 L330.06 291.59 L330.22 292.14 L330.38 292.68 L330.54 293.23 L330.7 293.78 L330.86 294.32 L331.02 294.87 L331.18 295.41 L331.34 295.95 L331.5 296.49 L331.67 297.03 L331.83 297.57 L331.99 298.11 L332.15 298.64 L332.31 299.18 L332.47 299.71 L332.63 300.24 L332.79 300.77 L332.95 301.3 L333.12 301.83 L333.28 302.35 L333.44 302.88 L333.6 303.4 L333.76 303.92 L333.92 304.44 L334.08 304.96 L334.24 305.47 L334.4 305.98 L334.56 306.5 L334.73 307.01 L334.89 307.51 L335.05 308.02 L335.21 308.52 L335.37 309.02 L335.53 309.52 L335.69 310.02 L335.85 310.51 L336.01 311 L336.17 311.49 L336.34 311.98 L336.5 312.46 L336.66 312.94 L336.82 313.42 L336.98 313.9 L337.14 314.37 L337.3 314.84 L337.46 315.3 L337.62 315.77 L337.78 316.22 L337.95 316.68 L338.11 317.13 L338.27 317.58 L338.43 318.03 L338.59 318.47 L338.75 318.9 L338.91 319.34 L339.07 319.77 L339.23 320.19 L339.39 320.61 L339.56 321.03 L339.72 321.44 L339.88 321.85 L340.04 322.25 L340.2 322.65 L340.36 323.04 L340.52 323.43 L340.68 323.81 L340.84 324.19 L341 324.56 L341.17 324.93 L341.33 325.3 L341.49 325.65 L341.65 326.01 L341.81 326.35 L341.97 326.69 L342.13 327.03 L342.29 327.36 L342.45 327.69 L342.61 328 L342.78 328.32 L342.94 328.63 L343.1 328.93 L343.26 329.23 L343.42 329.52 L343.58 329.8 L343.74 330.08 L343.9 330.36 L344.06 330.63 L344.22 330.89 L344.39 331.15 L344.55 331.4 L344.71 331.65 L344.87 331.89 L345.03 332.13 L345.19 332.36 L345.35 332.58 L345.51 332.8 L345.67 333.02 L345.83 333.23 L346 333.44 L346.16 333.64 L346.32 333.83 L346.48 334.03 L346.64 334.21 L346.8 334.4 L346.96 334.58 L347.12 334.75 L347.28 334.92 L347.44 335.09 L347.61 335.25 L347.77 335.41 L347.93 335.56 L348.09 335.71 L348.25 335.86 L348.41 336 L348.57 336.14 L348.73 336.28 L348.89 336.41 L349.05 336.54 L349.22 336.67 L349.38 336.79 L349.54 336.91 L349.7 337.03 L349.86 337.15 L350.02 337.26 L350.18 337.37 L350.34 337.48 L350.5 337.58 L350.66 337.68 L350.83 337.78 L350.99 337.88 L351.15 337.98 L351.31 338.07 L351.47 338.16 L351.63 338.25 L351.79 338.34 L351.95 338.42 L352.11 338.51 L352.27 338.59 L352.44 338.67 L352.6 338.75 L352.76 338.82 L352.92 338.9 L353.08 338.97 L353.24 339.04 L353.4 339.11 L353.56 339.18 L353.72 339.25 L353.88 339.31 L354.05 339.38 L354.21 339.44 L354.37 339.5 L354.53 339.56 L354.69 339.62 L354.85 339.68 L355.01 339.73 L355.17 339.79 L355.33 339.85 L355.49 339.9 L355.66 339.95 L355.82 340 L355.98 340.05 L356.14 340.1 L356.3 340.15 L356.46 340.2 L356.62 340.25 L356.78 340.29 L356.94 340.34 L357.1 340.38 L357.27 340.43 L357.43 340.47 L357.59 340.51 L357.75 340.55 L357.91 340.59 L358.07 340.63 L358.23 340.67 L358.39 340.71 L358.55 340.75 L358.71 340.78 L358.88 340.82 L359.04 340.86 L359.2 340.89 L359.36 340.93 L359.52 340.96 L359.68 340.99 L359.84 341.03 L360 341.06 L360.16 341.09 L360.32 341.12 L360.49 341.15 L360.65 341.19 L360.81 341.22 L360.97 341.24 L361.13 341.27 L361.29 341.3 L361.45 341.33 L361.61 341.36 L361.77 341.39 L361.93 341.41 L362.1 341.44 L362.26 341.47 L362.42 341.49 L362.58 341.52 L362.74 341.54 L362.9 341.57 L363.06 341.59 L363.22 341.62 L363.38 341.64 L363.54 341.66 L363.71 341.69 L363.87 341.71 L364.03 341.73 L364.19 341.75 L364.35 341.77 L364.51 341.8 L364.67 341.82 L364.83 341.84 L364.99 341.86 L365.15 341.88 L365.32 341.9 L365.48 341.92 L365.64 341.94 L365.8 341.96 L365.96 341.98 L366.12 342 L366.28 342.02 L366.44 342.03 L366.6 342.05 L366.76 342.07 L366.93 342.09 L367.09 342.11 L367.25 342.12 L367.41 342.14 L367.57 342.16 L367.73 342.17 L367.89 342.19 L368.05 342.21 L368.21 342.22 L368.37 342.24 L368.54 342.25 L368.7 342.27 L368.86 342.28 L369.02 342.3 L369.18 342.31 L369.34 342.33 L369.5 342.34 L369.66 342.36 L369.82 342.37 L369.98 342.39 L370.15 342.4 L370.31 342.42 L370.47 342.43 L370.63 342.44 L370.79 342.46 L370.95 342.47 L371.11 342.48 L371.27 342.5 L371.43 342.51 L371.59 342.52 L371.76 342.53 L371.92 342.55 L372.08 342.56 L372.24 342.57 L372.4 342.58 L372.56 342.59 L372.72 342.61 L372.88 342.62 L373.04 342.63 L373.2 342.64 L373.37 342.65 L373.53 342.66 L373.69 342.67 L373.85 342.69 L374.01 342.7 L374.17 342.71 L374.33 342.72 L374.49 342.73 L374.65 342.74 L374.81 342.75 L374.98 342.76 L375.14 342.77 L375.3 342.78 L375.46 342.79 L375.62 342.8 L375.78 342.81 L375.94 342.82 L376.1 342.83 L376.26 342.84 L376.42 342.85 L376.59 342.86 L376.75 342.87 L376.91 342.88 L377.07 342.88 L377.23 342.89 L377.39 342.9 L377.55 342.91 L377.71 342.92 L377.87 342.93 L378.03 342.94 L378.2 342.95 L378.36 342.95 L378.52 342.96 L378.68 342.97 L378.84 342.98 L379 342.99 L380.61 343.07 L382.22 343.14 L383.83 343.2 L385.44 343.27 L387.05 343.32 L388.66 343.38 L390.27 343.43 L391.88 343.47 L393.49 343.52 L395.1 343.56 L396.71 343.6 L398.32 343.63 L399.93 343.67 L401.54 343.7 L403.15 343.73 L404.76 343.76 L406.37 343.79 L407.98 343.81 L409.59 343.84 L411.2 343.86 L412.81 343.88 L414.42 343.91 L416.03 343.93 L417.64 343.95 L419.25 343.97 L420.86 343.98 L422.47 344 L424.08 344.02 L425.69 344.04 L427.3 344.05 L428.91 344.07 L430.52 344.08 L432.13 344.09 L433.74 344.11 L435.35 344.12 L436.96 344.13 L438.57 344.15 L440.18 344.16 L441.79 344.17 L443.4 344.18 L445.01 344.19 L446.62 344.2 L448.23 344.21 L449.84 344.22 L451.45 344.23 L453.06 344.24 L454.67 344.25 L456.28 344.26 L457.89 344.27 L459.5 344.27 L461.11 344.28 L462.72 344.29 L464.33 344.3 L465.94 344.3 L467.55 344.31 L469.16 344.32 L470.77 344.32 L472.38 344.33 L473.99 344.34 L475.6 344.34" fill="none" stroke="#8f9fc0" stroke-width="1"/>
<path d="M314.6 236.56 L314.63 236.66 L314.66 236.77 L314.7 236.87 L314.73 236.97 L314.76 237.08 L314.79 237.18 L314.83 237.29 L314.86 237.39 L314.89 237.5 L314.92 237.6 L314.95 237.71 L314.99 237.81 L315.02 237.92 L315.05 238.02 L315.08 238.13 L315.12 238.23 L315.15 238.33 L315.18 238.44 L315.21 238.54 L315.24 238.65 L315.28 238.75 L315.31 238.86 L315.34 238.96 L315.37 239.07 L315.41 239.17 L315.44 239.27 L315.47 239.38 L315.5 239.48 L315.53 239.59 L315.57 239.69 L315.6 239.8 L315.63 239.9 L315.66 240.01 L315.69 240.11 L315.73 240.21 L315.76 240.32 L315.79 240.42 L315.82 240.53 L315.86 240.63 L315.89 240.74 L315.92 240.84 L315.95 240.94 L315.98 241.05 L316.02 241.15 L316.05 241.26 L316.08 241.36 L316.11 241.47 L316.15 241.57 L316.18 241.67 L316.21 241.78 L316.24 241.88 L316.27 241.99 L316.31 242.09 L316.34 242.2 L316.37 242.3 L316.4 242.4 L316.44 242.51 L316.47 242.61 L316.5 242.72 L316.53 242.82 L316.56 242.92 L316.6 243.03 L316.63 243.13 L316.66 243.24 L316.69 243.34 L316.73 243.44 L316.76 243.55 L316.79 243.65 L316.82 243.76 L316.85 243.86 L316.89 243.96 L316.92 244.07 L316.95 244.17 L316.98 244.28 L317.02 244.38 L317.05 244.48 L317.08 244.59 L317.11 244.69 L317.14 244.8 L317.18 244.9 L317.21 245 L317.24 245.11 L317.27 245.21 L317.3 245.31 L317.34 245.42 L317.37 245.52 L317.4 245.63 L317.43 245.73 L317.47 245.83 L317.5 245.94 L317.53 246.04 L317.56 246.14 L317.59 246.25 L317.63 246.35 L317.66 246.46 L317.69 246.56 L317.72 246.66 L317.76 246.77 L317.79 246.87 L317.82 246.97 L317.98 247.49 L318.14 248.01 L318.3 248.53 L318.46 249.04 L318.62 249.56 L318.79 250.08 L318.95 250.59 L319.11 251.11 L319.27 251.63 L319.43 252.14 L319.59 252.66 L319.75 253.17 L319.91 253.68 L320.07 254.2 L320.24 254.71 L320.4 255.22 L320.56 255.74 L320.72 256.25 L320.88 256.76 L321.04 257.27 L321.2 257.78 L321.36 258.29 L321.52 258.8 L321.68 259.31 L321.85 259.82 L322.01 260.33 L322.17 260.84 L322.33 261.35 L322.49 261.85 L322.65 262.36 L322.81 262.87 L322.97 263.37 L323.13 263.88 L323.29 264.38 L323.46 264.89 L323.62 265.39 L323.78 265.9 L323.94 266.4 L324.1 266.9 L324.26 267.4 L324.42 267.9 L324.58 268.4 L324.74 268.9 L324.9 269.4 L325.06 269.9 L325.23 270.4 L325.39 270.9 L325.55 271.4 L325.71 271.89 L325.87 272.39 L326.03 272.88 L326.19 273.38 L326.35 273.87 L326.51 274.36 L326.68 274.86 L326.84 275.35 L327 275.84 L327.16 276.33 L327.32 276.82 L327.48 277.31 L327.64 277.79 L327.8 278.28 L327.96 278.77 L328.12 279.25 L328.29 279.74 L328.45 280.22 L328.61 280.7 L328.77 281.18 L328.93 281.66 L329.09 282.14 L329.25 282.62 L329.41 283.1 L329.57 283.58 L329.73 284.05 L329.9 284.53 L330.06 285 L330.22 285.47 L330.38 285.95 L330.54 286.42 L330.7 286.89 L330.86 287.35 L331.02 287.82 L331.18 288.29 L331.34 288.75 L331.5 289.21 L331.67 289.68 L331.83 290.14 L331.99 290.6 L332.15 291.06 L332.31 291.51 L332.47 291.97 L332.63 292.42 L332.79 292.88 L332.95 293.33 L333.12 293.78 L333.28 294.22 L333.44 294.67 L333.6 295.12 L333.76 295.56 L333.92 296 L334.08 296.44 L334.24 296.88 L334.4 297.32 L334.56 297.75 L334.73 298.19 L334.89 298.62 L335.05 299.05 L335.21 299.48 L335.37 299.9 L335.53 300.33 L335.69 300.75 L335.85 301.17 L336.01 301.59 L336.17 302.01 L336.34 302.42 L336.5 302.83 L336.66 303.24 L336.82 303.65 L336.98 304.06 L337.14 304.46 L337.3 304.86 L337.46 305.26 L337.62 305.66 L337.78 306.05 L337.95 306.44 L338.11 306.83 L338.27 307.22 L338.43 307.6 L338.59 307.98 L338.75 308.36 L338.91 308.74 L339.07 309.11 L339.23 309.48 L339.39 309.85 L339.56 310.22 L339.72 310.58 L339.88 310.94 L340.04 311.3 L340.2 311.65 L340.36 312 L340.52 312.35 L340.68 312.7 L340.84 313.04 L341 313.38 L341.17 313.72 L341.33 314.05 L341.49 314.38 L341.65 314.71 L341.81 315.03 L341.97 315.35 L342.13 315.67 L342.29 315.98 L342.45 316.3 L342.61 316.6 L342.78 316.91 L342.94 317.21 L343.1 317.51 L343.26 317.8 L343.42 318.1 L343.58 318.38 L343.74 318.67 L343.9 318.95 L344.06 319.23 L344.22 319.5 L344.39 319.78 L344.55 320.05 L344.71 320.31 L344.87 320.57 L345.03 320.83 L345.19 321.09 L345.35 321.34 L345.51 321.59 L345.67 321.83 L345.83 322.08 L346 322.31 L346.16 322.55 L346.32 322.78 L346.48 323.01 L346.64 323.24 L346.8 323.46 L346.96 323.68 L347.12 323.9 L347.28 324.11 L347.44 324.32 L347.61 324.53 L347.77 324.74 L347.93 324.94 L348.09 325.14 L348.25 325.33 L348.41 325.52 L348.57 325.71 L348.73 325.9 L348.89 326.09 L349.05 326.27 L349.22 326.45 L349.38 326.62 L349.54 326.8 L349.7 326.97 L349.86 327.13 L350.02 327.3 L350.18 327.46 L350.34 327.62 L350.5 327.78 L350.66 327.94 L350.83 328.09 L350.99 328.24 L351.15 328.39 L351.31 328.53 L351.47 328.68 L351.63 328.82 L351.79 328.96 L351.95 329.1 L352.11 329.23 L352.27 329.36 L352.44 329.5 L352.6 329.62 L352.76 329.75 L352.92 329.88 L353.08 330 L353.24 330.12 L353.4 330.24 L353.56 330.36 L353.72 330.47 L353.88 330.59 L354.05 330.7 L354.21 330.81 L354.37 330.92 L354.53 331.02 L354.69 331.13 L354.85 331.23 L355.01 331.33 L355.17 331.43 L355.33 331.53 L355.49 331.63 L355.66 331.73 L355.82 331.82 L355.98 331.91 L356.14 332.01 L356.3 332.1 L356.46 332.19 L356.62 332.27 L356.78 332.36 L356.94 332.44 L357.1 332.53 L357.27 332.61 L357.43 332.69 L357.59 332.77 L357.75 332.85 L357.91 332.93 L358.07 333.01 L358.23 333.08 L358.39 333.16 L358.55 333.23 L358.71 333.3 L358.88 333.37 L359.04 333.45 L359.2 333.51 L359.36 333.58 L359.52 333.65 L359.68 333.72 L359.84 333.78 L360 333.85 L360.16 333.91 L360.32 333.98 L360.49 334.04 L360.65 334.1 L360.81 334.16 L360.97 334.22 L361.13 334.28 L361.29 334.34 L361.45 334.39 L361.61 334.45 L361.77 334.51 L361.93 334.56 L362.1 334.62 L362.26 334.67 L362.42 334.72 L362.58 334.77 L362.74 334.83 L362.9 334.88 L363.06 334.93 L363.22 334.98 L363.38 335.03 L363.54 335.08 L363.71 335.12 L363.87 335.17 L364.03 335.22 L364.19 335.26 L364.35 335.31 L364.51 335.35 L364.67 335.4 L364.83 335.44 L364.99 335.49 L365.15 335.53 L365.32 335.57 L365.48 335.61 L365.64 335.66 L365.8 335.7 L365.96 335.74 L366.12 335.78 L366.28 335.82 L366.44 335.86 L366.6 335.89 L366.76 335.93 L366.93 335.97 L367.09 336.01 L367.25 336.04 L367.41 336.08 L367.57 336.12 L367.73 336.15 L367.89 336.19 L368.05 336.22 L368.21 336.26 L368.37 336.29 L368.54 336.32 L368.7 336.36 L368.86 336.39 L369.02 336.42 L369.18 336.46 L369.34 336.49 L369.5 336.52 L369.66 336.55 L369.82 336.58 L369.98 336.61 L370.15 336.64 L370.31 336.67 L370.47 336.7 L370.63 336.73 L370.79 336.76 L370.95 336.79 L371.11 336.82 L371.27 336.85 L371.43 336.87 L371.59 336.9 L371.76 336.93 L371.92 336.96 L372.08 336.98 L372.24 337.01 L372.4 337.04 L372.56 337.06 L372.72 337.09 L372.88 337.11 L373.04 337.14 L373.2 337.16 L373.37 337.19 L373.53 337.21 L373.69 337.24 L373.85 337.26 L374.01 337.29 L374.17 337.31 L374.33 337.33 L374.49 337.36 L374.65 337.38 L374.81 337.4 L374.98 337.42 L375.14 337.45 L375.3 337.47 L375.46 337.49 L375.62 337.51 L375.78 337.53 L375.94 337.56 L376.1 337.58 L376.26 337.6 L376.42 337.62 L376.59 337.64 L376.75 337.66 L376.91 337.68 L377.07 337.7 L377.23 337.72 L377.39 337.74 L377.55 337.76 L377.71 337.78 L377.87 337.8 L378.03 337.82 L378.2 337.84 L378.36 337.86 L378.52 337.87 L378.68 337.89 L378.84 337.91 L379 337.93 L380.61 338.1 L382.22 338.26 L383.83 338.41 L385.44 338.55 L387.05 338.67 L388.66 338.79 L390.27 338.9 L391.88 339.01 L393.49 339.11 L395.1 339.2 L396.71 339.28 L398.32 339.37 L399.93 339.44 L401.54 339.52 L403.15 339.58 L404.76 339.65 L406.37 339.71 L407.98 339.77 L409.59 339.83 L411.2 339.88 L412.81 339.93 L414.42 339.98 L416.03 340.03 L417.64 340.07 L419.25 340.12 L420.86 340.16 L422.47 340.2 L424.08 340.23 L425.69 340.27 L427.3 340.31 L428.91 340.34 L430.52 340.37 L432.13 340.4 L433.74 340.43 L435.35 340.46 L436.96 340.49 L438.57 340.52 L440.18 340.55 L441.79 340.57 L443.4 340.6 L445.01 340.62 L446.62 340.64 L448.23 340.66 L449.84 340.69 L451.45 340.71 L453.06 340.73 L454.67 340.75 L456.28 340.77 L457.89 340.79 L459.5 340.8 L461.11 340.82 L462.72 340.84 L464.33 340.86 L465.94 340.87 L467.55 340.89 L469.16 340.9 L470.77 340.92 L472.38 340.93 L473.99 340.95 L475.6 340.96" fill="none" stroke="#b39cc6" stroke-width="1"/>
<path d="M317.13 246.91L319.22 247.86L317.13 248.81Z" fill="#4a1a6e"/>
<path d="M322.78 265.49L324.87 266.44L322.78 267.39Z" fill="#4a1a6e"/>
<path d="M328.65 281.49L330.74 282.44L328.65 283.39Z" fill="#4a1a6e"/>
<path d="M335.06 301.63L337.15 302.58L335.06 303.53Z" fill="#4a1a6e"/>
<path d="M343.27 317.77L345.36 318.72L343.27 319.67Z" fill="#4a1a6e"/>
<path d="M361.95 333.63L364.04 334.58L361.95 335.53Z" fill="#4a1a6e"/>
<path d="M378.05 337.47L380.14 338.42L378.05 339.37Z" fill="#4a1a6e"/>
<path d="M410.25 338.27L412.34 339.22L410.25 340.17Z" fill="#4a1a6e"/>
<path d="M474.65 340.56L476.74 341.51L474.65 342.46Z" fill="#4a1a6e"/>
<path d="M319.47 249.43L317.38 250.38L319.47 251.33Z" fill="#1f3f7f"/>
<path d="M324.46 268.75L322.37 269.7L324.46 270.65Z" fill="#1f3f7f"/>
<path d="M329.56 286.59L327.47 287.54L329.56 288.49Z" fill="#1f3f7f"/>
<path d="M334.9 303.22L332.81 304.17L334.9 305.12Z" fill="#1f3f7f"/>
<path d="M341.07 319.6L338.98 320.55L341.07 321.5Z" fill="#1f3f7f"/>
<path d="M363.85 340.94L361.76 341.89L363.85 342.84Z" fill="#1f3f7f"/>
<path d="M379.95 342.11L377.86 343.06L379.95 344.01Z" fill="#1f3f7f"/>
<path d="M412.15 341.95L410.06 342.9L412.15 343.85Z" fill="#1f3f7f"/>
<path d="M476.55 341.61L474.46 342.56L476.55 343.51Z" fill="#1f3f7f"/>
<path d="M317.76 251.63L318.9 252.77L317.76 253.91L316.62 252.77Z" fill="#5aa832"/>
<path d="M321.14 270.24L322.28 271.38L321.14 272.52L320 271.38Z" fill="#5aa832"/>
<path d="M324.7 285.94L325.84 287.08L324.7 288.22L323.56 287.08Z" fill="#5aa832"/>
<path d="M328.65 307.43L329.79 308.57L328.65 309.71L327.51 308.57Z" fill="#5aa832"/>
<path d="M333.93 322.23L335.07 323.37L333.93 324.51L332.79 323.37Z" fill="#5aa832"/>
<path d="M362.9 343.35L364.04 344.49L362.9 345.63L361.76 344.49Z" fill="#5aa832"/>
<path d="M379 344.99L380.14 346.13L379 347.27L377.86 346.13Z" fill="#5aa832"/>
<path d="M411.2 346.05L412.34 347.19L411.2 348.33L410.06 347.19Z" fill="#5aa832"/>
<path d="M475.6 346.22L476.74 347.36L475.6 348.5L474.46 347.36Z" fill="#5aa832"/>
<path d="M315.31 253.85L317.59 253.85L316.45 255.94Z" fill="#d8208c"/>
<path d="M317.01 274.21L319.29 274.21L318.15 276.3Z" fill="#d8208c"/>
<path d="M318.8 290.59L321.08 290.59L319.94 292.68Z" fill="#d8208c"/>
<path d="M320.82 308.29L323.1 308.29L321.96 310.38Z" fill="#d8208c"/>
<path d="M323.68 327.23L325.96 327.23L324.82 329.32Z" fill="#d8208c"/>
<path d="M361.76 344.83L364.04 344.83L362.9 346.92Z" fill="#d8208c"/>
<path d="M377.86 346.47L380.14 346.47L379 348.56Z" fill="#d8208c"/>
<path d="M410.06 346.84L412.34 346.84L411.2 348.93Z" fill="#d8208c"/>
<path d="M474.46 346.72L476.74 346.72L475.6 348.81Z" fill="#d8208c"/>
<path d="M313.77 259.21L316.05 259.21L314.91 257.12Z" fill="#4aa0e6"/>
<path d="M314.13 278.1L316.41 278.1L315.27 276.01Z" fill="#4aa0e6"/>
<path d="M314.7 296.46L316.98 296.46L315.84 294.37Z" fill="#4aa0e6"/>
<path d="M315.76 313.34L318.04 313.34L316.9 311.25Z" fill="#4aa0e6"/>
<path d="M318.54 331.77L320.82 331.77L319.68 329.68Z" fill="#4aa0e6"/>
<path d="M361.76 351.02L364.04 351.02L362.9 348.93Z" fill="#4aa0e6"/>
<path d="M377.86 350.41L380.14 350.41L379 348.32Z" fill="#4aa0e6"/>
<path d="M410.06 351.31L412.34 351.31L411.2 349.22Z" fill="#4aa0e6"/>
<path d="M474.46 353.01L476.74 353.01L475.6 350.92Z" fill="#4aa0e6"/>
<circle cx="314.74" cy="261.61" r="0.95" fill="#a8102c"/>
<circle cx="314.89" cy="279.72" r="0.95" fill="#a8102c"/>
<circle cx="315.11" cy="296.3" r="0.95" fill="#a8102c"/>
<circle cx="315.52" cy="314.78" r="0.95" fill="#a8102c"/>
<circle cx="316.59" cy="334.39" r="0.95" fill="#a8102c"/>
<circle cx="362.9" cy="351.69" r="0.95" fill="#a8102c"/>
<circle cx="379" cy="354.13" r="0.95" fill="#a8102c"/>
<circle cx="411.2" cy="353.59" r="0.95" fill="#a8102c"/>
<circle cx="475.6" cy="352.91" r="0.95" fill="#a8102c"/>
<rect x="313.74" y="265.23" width="1.9" height="1.9" fill="#e6901c"/>
<rect x="313.82" y="281.86" width="1.9" height="1.9" fill="#e6901c"/>
<rect x="313.94" y="301.5" width="1.9" height="1.9" fill="#e6901c"/>
<rect x="314.14" y="317.01" width="1.9" height="1.9" fill="#e6901c"/>
<rect x="314.64" y="334.56" width="1.9" height="1.9" fill="#e6901c"/>
<rect x="361.95" y="355.68" width="1.9" height="1.9" fill="#e6901c"/>
<rect x="378.05" y="355.02" width="1.9" height="1.9" fill="#e6901c"/>
<rect x="410.25" y="356.56" width="1.9" height="1.9" fill="#e6901c"/>
<rect x="474.65" y="355.68" width="1.9" height="1.9" fill="#e6901c"/>
<line x1="311.3" y1="235.9" x2="311.3" y2="371.4" stroke="#000" stroke-width="1.3"/>
<line x1="309.5" y1="371" x2="479" y2="371" stroke="#3a3a3a" stroke-width="1.6"/>
<line x1="308" y1="370.7" x2="311" y2="370.7" stroke="#1a1a1a" stroke-width="1.1"/>
<text x="305.9" y="373.5" font-size="8.09" fill="#1a1a1a" text-anchor="end" stroke="#1a1a1a" stroke-width="0.18">0%</text>
<line x1="308" y1="345.1" x2="311" y2="345.1" stroke="#1a1a1a" stroke-width="1.1"/>
<text x="305.9" y="347.9" font-size="8.09" fill="#1a1a1a" text-anchor="end" stroke="#1a1a1a" stroke-width="0.18">20%</text>
<line x1="308" y1="319.5" x2="311" y2="319.5" stroke="#1a1a1a" stroke-width="1.1"/>
<text x="305.9" y="322.3" font-size="8.09" fill="#1a1a1a" text-anchor="end" stroke="#1a1a1a" stroke-width="0.18">40%</text>
<line x1="308" y1="293.9" x2="311" y2="293.9" stroke="#1a1a1a" stroke-width="1.1"/>
<text x="305.9" y="296.7" font-size="8.09" fill="#1a1a1a" text-anchor="end" stroke="#1a1a1a" stroke-width="0.18">60%</text>
<line x1="308" y1="268.3" x2="311" y2="268.3" stroke="#1a1a1a" stroke-width="1.1"/>
<text x="305.9" y="271.1" font-size="8.09" fill="#1a1a1a" text-anchor="end" stroke="#1a1a1a" stroke-width="0.18">80%</text>
<line x1="308" y1="242.7" x2="311" y2="242.7" stroke="#1a1a1a" stroke-width="1.1"/>
<text x="305.9" y="245.5" font-size="8.09" fill="#1a1a1a" text-anchor="end" stroke="#1a1a1a" stroke-width="0.18">100%</text>
<line x1="309.2" y1="357.9" x2="311" y2="357.9" stroke="#1a1a1a" stroke-width="1"/>
<line x1="309.2" y1="332.3" x2="311" y2="332.3" stroke="#1a1a1a" stroke-width="1"/>
<line x1="309.2" y1="306.7" x2="311" y2="306.7" stroke="#1a1a1a" stroke-width="1"/>
<line x1="309.2" y1="281.1" x2="311" y2="281.1" stroke="#1a1a1a" stroke-width="1"/>
<line x1="309.2" y1="255.5" x2="311" y2="255.5" stroke="#1a1a1a" stroke-width="1"/>
<line x1="314.6" y1="370.9" x2="314.6" y2="373.4" stroke="#1a1a1a" stroke-width="1.1"/>
<text x="314.6" y="384.1" font-size="8.29" fill="#1a1a1a" text-anchor="middle" stroke="#1a1a1a" stroke-width="0.18">0</text>
<line x1="330.7" y1="370.9" x2="330.7" y2="372.6" stroke="#1a1a1a" stroke-width="1"/>
<line x1="346.8" y1="370.9" x2="346.8" y2="373.4" stroke="#1a1a1a" stroke-width="1.1"/>
<text x="346.8" y="384.1" font-size="8.29" fill="#1a1a1a" text-anchor="middle" stroke="#1a1a1a" stroke-width="0.18">2</text>
<line x1="362.9" y1="370.9" x2="362.9" y2="372.6" stroke="#1a1a1a" stroke-width="1"/>
<line x1="379" y1="370.9" x2="379" y2="373.4" stroke="#1a1a1a" stroke-width="1.1"/>
<text x="379" y="384.1" font-size="8.29" fill="#1a1a1a" text-anchor="middle" stroke="#1a1a1a" stroke-width="0.18">4</text>
<line x1="395.1" y1="370.9" x2="395.1" y2="372.6" stroke="#1a1a1a" stroke-width="1"/>
<line x1="411.2" y1="370.9" x2="411.2" y2="373.4" stroke="#1a1a1a" stroke-width="1.1"/>
<text x="411.2" y="384.1" font-size="8.29" fill="#1a1a1a" text-anchor="middle" stroke="#1a1a1a" stroke-width="0.18">6</text>
<line x1="427.3" y1="370.9" x2="427.3" y2="372.6" stroke="#1a1a1a" stroke-width="1"/>
<line x1="443.4" y1="370.9" x2="443.4" y2="373.4" stroke="#1a1a1a" stroke-width="1.1"/>
<text x="443.4" y="384.1" font-size="8.29" fill="#1a1a1a" text-anchor="middle" stroke="#1a1a1a" stroke-width="0.18">8</text>
<line x1="459.5" y1="370.9" x2="459.5" y2="372.6" stroke="#1a1a1a" stroke-width="1"/>
<line x1="475.6" y1="370.9" x2="475.6" y2="373.4" stroke="#1a1a1a" stroke-width="1.1"/>
<text x="475.6" y="384.1" font-size="8.29" fill="#1a1a1a" text-anchor="middle" stroke="#1a1a1a" stroke-width="0.18">10</text>
<text x="374" y="396.8" font-size="8" fill="#1a1a1a" stroke="#1a1a1a" stroke-width="0.28" textLength="42.2" lengthAdjust="spacingAndGlyphs">Warfarin (μM)</text>
<text transform="translate(280 339.8) rotate(-90)" font-size="8.4" fill="#1a1a1a" stroke="#1a1a1a" stroke-width="0.28" textLength="73.2" lengthAdjust="spacingAndGlyphs">Relative activity (KO to K)</text>
<text x="386.9" y="238.8" font-size="7.56" fill="#1a1a1a" textLength="82.7" lengthAdjust="spacingAndGlyphs" stroke="#1a1a1a" stroke-width="0.18">Microsomal VKORC1 (μM)</text>
<line x1="398.2" y1="248.9" x2="408.5" y2="248.9" stroke="#a690c0" stroke-width="1.1"/>
<path d="M401.1 246.6L406.16 248.9L401.1 251.2Z" fill="#4a1a6e"/>
<text x="411.5" y="251.5" font-size="7.67" fill="#1a1a1a" textLength="10" lengthAdjust="spacingAndGlyphs" stroke="#1a1a1a" stroke-width="0.18">3.2</text>
<line x1="398.2" y1="260.83" x2="408.5" y2="260.83" stroke="#7a8fb8" stroke-width="1.1"/>
<path d="M405.7 258.53L400.64 260.83L405.7 263.13Z" fill="#1f3f7f"/>
<text x="411.5" y="263.43" font-size="7.67" fill="#1a1a1a" textLength="10" lengthAdjust="spacingAndGlyphs" stroke="#1a1a1a" stroke-width="0.18">2.4</text>
<line x1="398.2" y1="272.76" x2="408.5" y2="272.76" stroke="#92c674" stroke-width="1.1"/>
<path d="M403.4 270L406.16 272.76L403.4 275.52L400.64 272.76Z" fill="#5aa832"/>
<text x="411.5" y="275.36" font-size="7.67" fill="#1a1a1a" textLength="10" lengthAdjust="spacingAndGlyphs" stroke="#1a1a1a" stroke-width="0.18">1.6</text>
<line x1="398.2" y1="284.69" x2="408.5" y2="284.69" stroke="#e468ac" stroke-width="1.1"/>
<path d="M400.64 282.39L406.16 282.39L403.4 287.45Z" fill="#d8208c"/>
<text x="411.5" y="287.29" font-size="7.67" fill="#1a1a1a" textLength="10" lengthAdjust="spacingAndGlyphs" stroke="#1a1a1a" stroke-width="0.18">0.8</text>
<line x1="431.9" y1="248.9" x2="442.2" y2="248.9" stroke="#acd4f2" stroke-width="1.1"/>
<path d="M434.34 251.2L439.86 251.2L437.1 246.14Z" fill="#4aa0e6"/>
<text x="445.2" y="251.5" font-size="7.67" fill="#1a1a1a" textLength="10" lengthAdjust="spacingAndGlyphs" stroke="#1a1a1a" stroke-width="0.18">0.4</text>
<line x1="431.9" y1="260.83" x2="442.2" y2="260.83" stroke="#dc7890" stroke-width="1.1"/>
<circle cx="437.1" cy="260.83" r="2.3" fill="#a8102c"/>
<text x="445.2" y="263.43" font-size="7.67" fill="#1a1a1a" textLength="10" lengthAdjust="spacingAndGlyphs" stroke="#1a1a1a" stroke-width="0.18">0.2</text>
<line x1="431.9" y1="272.76" x2="442.2" y2="272.76" stroke="#f2bc70" stroke-width="1.1"/>
<rect x="434.8" y="270.46" width="4.6" height="4.6" fill="#e6901c"/>
<text x="445.2" y="275.36" font-size="7.67" fill="#1a1a1a" textLength="10" lengthAdjust="spacingAndGlyphs" stroke="#1a1a1a" stroke-width="0.18">0.1</text>
<circle cx="341.5" cy="370.7" r="3.9" fill="none" stroke="#74bc56" stroke-width="0.9"/>
<line x1="328.1" y1="389.2" x2="339.3" y2="373.9" stroke="#74bc56" stroke-width="0.9"/>
<text x="284.3" y="398.2" font-size="7.98" fill="#74bc56" textLength="71.9" lengthAdjust="spacingAndGlyphs" stroke="#74bc56" stroke-width="0.18">[VKORC1] =1.6 (μM)</text>
<rect x="0.5" y="0.5" width="519" height="406" fill="none" stroke="#000" stroke-width="1"/>
</svg></body></html>
